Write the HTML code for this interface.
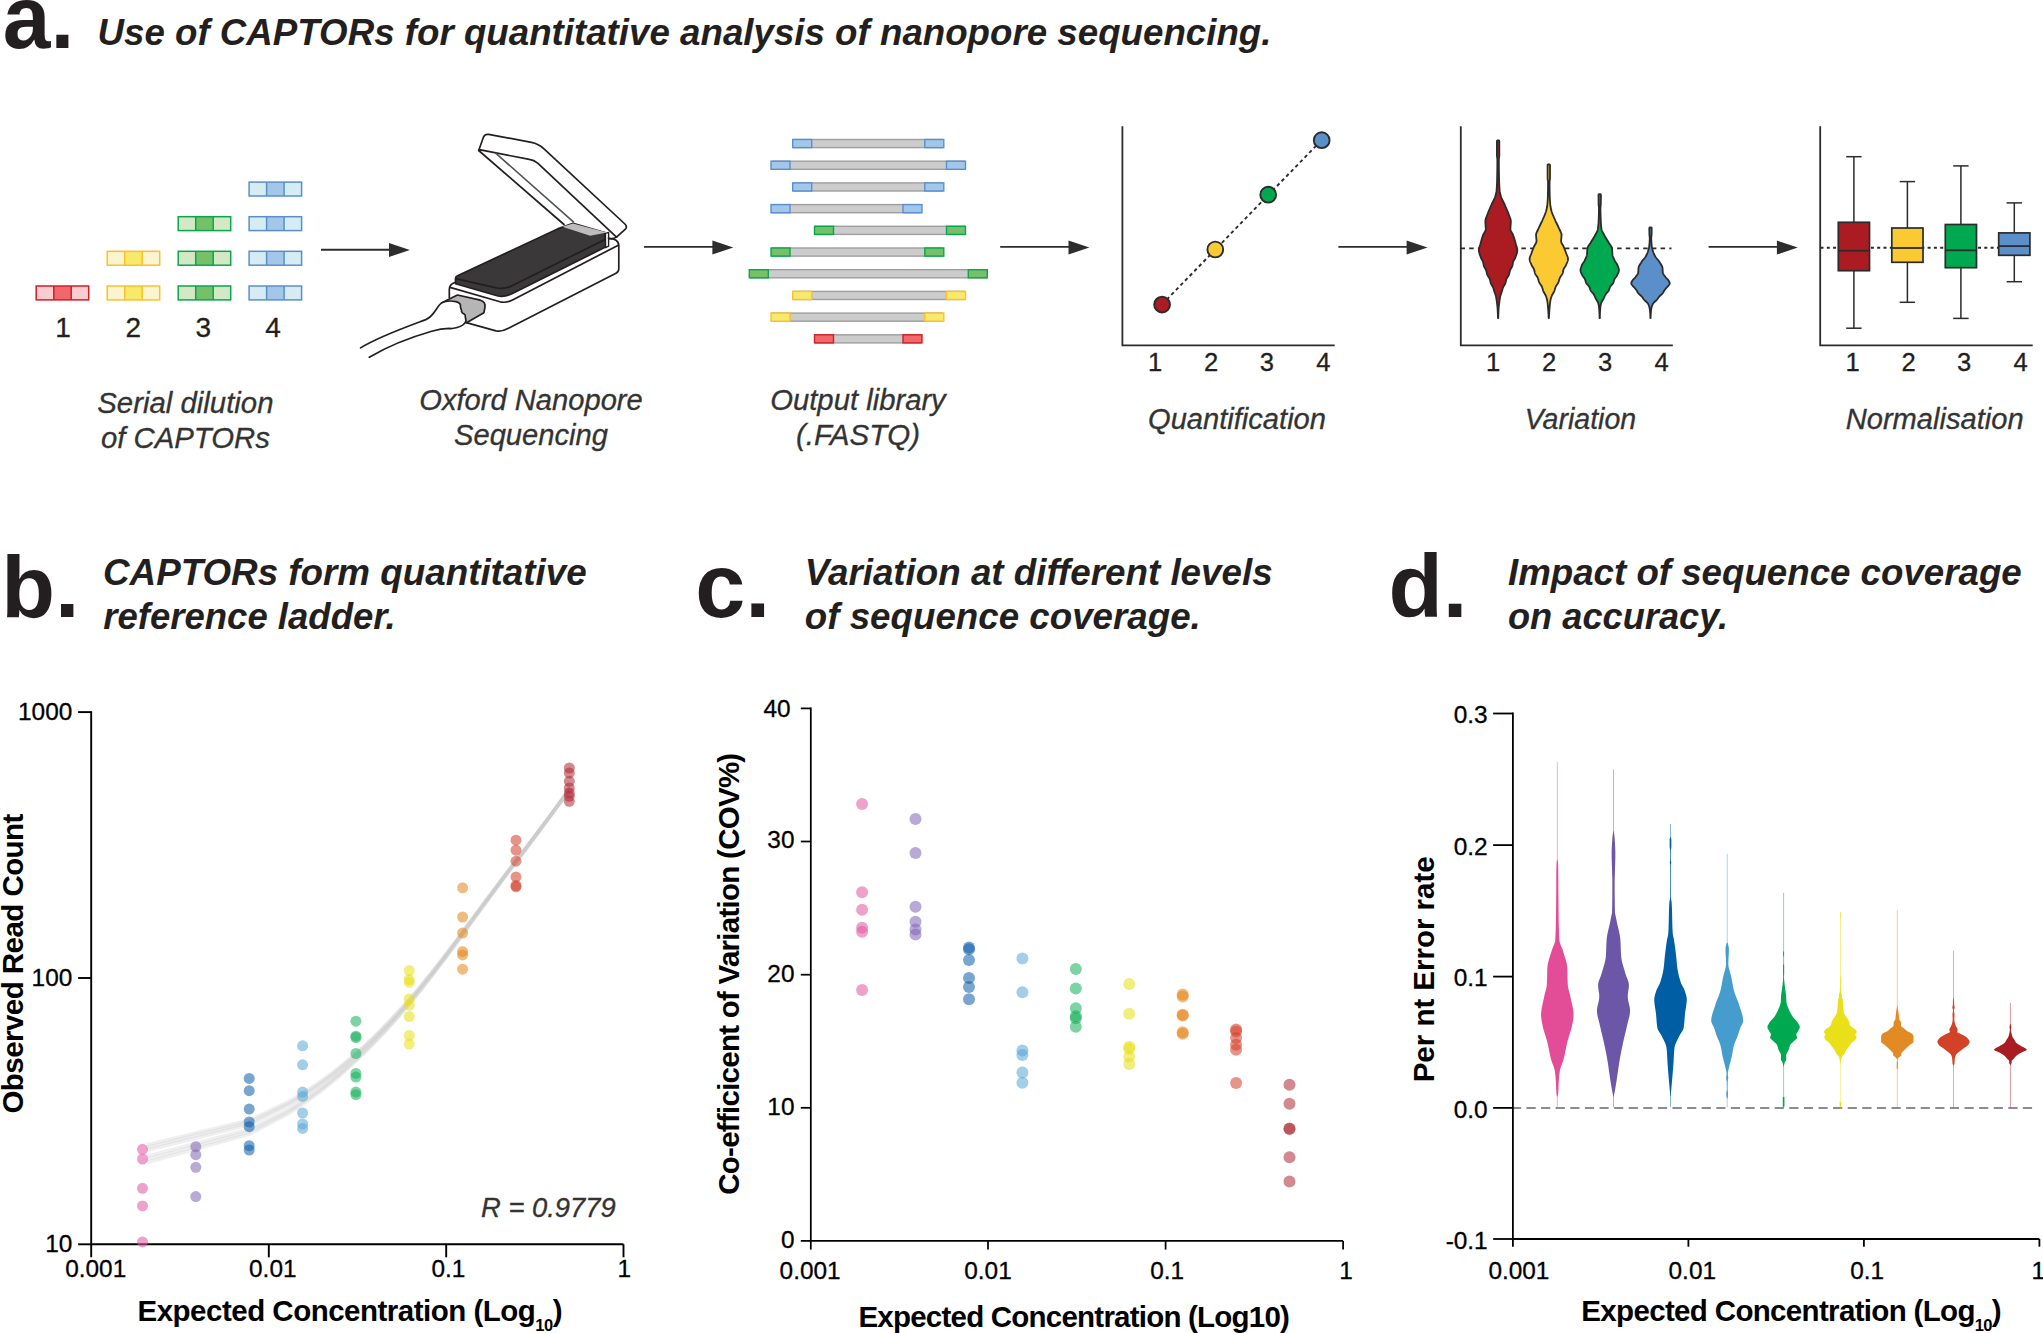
<!DOCTYPE html>
<html lang="en">
<head>
<meta charset="utf-8">
<title>CAPTORs nanopore sequencing figure</title>
<style>
html,body{margin:0;padding:0;background:#ffffff;}
body{width:2043px;height:1333px;overflow:hidden;}
svg{display:block;font-family:'Liberation Sans', Arial, Helvetica, sans-serif;}
</style>
</head>
<body>
<svg width="2043" height="1333" viewBox="0 0 2043 1333">
<rect x="0" y="0" width="2043" height="1333" fill="#ffffff"/>
<g id="panel-a">
<text x="2.8" y="47.8" font-size="89" font-weight="bold" font-style="normal" text-anchor="start" fill="#231f20" textLength="71.5" lengthAdjust="spacingAndGlyphs">a.</text>
<text x="97.5" y="44.8" font-size="36.6" font-weight="bold" font-style="italic" text-anchor="start" fill="#231f20" textLength="1174" lengthAdjust="spacingAndGlyphs">Use of CAPTORs for quantitative analysis of nanopore sequencing.</text>
<rect x="36.2" y="286" width="52.5" height="13.9" fill="#f9cdd0" stroke="none" stroke-width="1"/>
<rect x="53.8" y="286" width="17.5" height="13.9" fill="#f0686c" stroke="none" stroke-width="1"/>
<rect x="36.2" y="286" width="52.5" height="13.9" fill="none" stroke="#cf1f27" stroke-width="1.5"/>
<line x1="53.8" y1="286" x2="53.8" y2="299.9" stroke="#cf1f27" stroke-width="1.5"/>
<line x1="71.2" y1="286" x2="71.2" y2="299.9" stroke="#cf1f27" stroke-width="1.5"/>
<rect x="107.2" y="286" width="52.5" height="13.9" fill="#fbf5cf" stroke="none" stroke-width="1"/>
<rect x="124.7" y="286" width="17.5" height="13.9" fill="#f7e96a" stroke="none" stroke-width="1"/>
<rect x="107.2" y="286" width="52.5" height="13.9" fill="none" stroke="#fbc02d" stroke-width="1.5"/>
<line x1="124.7" y1="286" x2="124.7" y2="299.9" stroke="#fbc02d" stroke-width="1.5"/>
<line x1="142.2" y1="286" x2="142.2" y2="299.9" stroke="#fbc02d" stroke-width="1.5"/>
<rect x="107.2" y="251.3" width="52.5" height="13.9" fill="#fbf5cf" stroke="none" stroke-width="1"/>
<rect x="124.7" y="251.3" width="17.5" height="13.9" fill="#f7e96a" stroke="none" stroke-width="1"/>
<rect x="107.2" y="251.3" width="52.5" height="13.9" fill="none" stroke="#fbc02d" stroke-width="1.5"/>
<line x1="124.7" y1="251.3" x2="124.7" y2="265.2" stroke="#fbc02d" stroke-width="1.5"/>
<line x1="142.2" y1="251.3" x2="142.2" y2="265.2" stroke="#fbc02d" stroke-width="1.5"/>
<rect x="178.2" y="286" width="52.5" height="13.9" fill="#d3e9c6" stroke="none" stroke-width="1"/>
<rect x="195.7" y="286" width="17.5" height="13.9" fill="#76c06a" stroke="none" stroke-width="1"/>
<rect x="178.2" y="286" width="52.5" height="13.9" fill="none" stroke="#0aa64b" stroke-width="1.5"/>
<line x1="195.7" y1="286" x2="195.7" y2="299.9" stroke="#0aa64b" stroke-width="1.5"/>
<line x1="213.2" y1="286" x2="213.2" y2="299.9" stroke="#0aa64b" stroke-width="1.5"/>
<rect x="178.2" y="251.3" width="52.5" height="13.9" fill="#d3e9c6" stroke="none" stroke-width="1"/>
<rect x="195.7" y="251.3" width="17.5" height="13.9" fill="#76c06a" stroke="none" stroke-width="1"/>
<rect x="178.2" y="251.3" width="52.5" height="13.9" fill="none" stroke="#0aa64b" stroke-width="1.5"/>
<line x1="195.7" y1="251.3" x2="195.7" y2="265.2" stroke="#0aa64b" stroke-width="1.5"/>
<line x1="213.2" y1="251.3" x2="213.2" y2="265.2" stroke="#0aa64b" stroke-width="1.5"/>
<rect x="178.2" y="216.7" width="52.5" height="13.9" fill="#d3e9c6" stroke="none" stroke-width="1"/>
<rect x="195.7" y="216.7" width="17.5" height="13.9" fill="#76c06a" stroke="none" stroke-width="1"/>
<rect x="178.2" y="216.7" width="52.5" height="13.9" fill="none" stroke="#0aa64b" stroke-width="1.5"/>
<line x1="195.7" y1="216.7" x2="195.7" y2="230.6" stroke="#0aa64b" stroke-width="1.5"/>
<line x1="213.2" y1="216.7" x2="213.2" y2="230.6" stroke="#0aa64b" stroke-width="1.5"/>
<rect x="249.1" y="286" width="52.5" height="13.9" fill="#d4ecf2" stroke="none" stroke-width="1"/>
<rect x="266.6" y="286" width="17.5" height="13.9" fill="#a3c7e8" stroke="none" stroke-width="1"/>
<rect x="249.1" y="286" width="52.5" height="13.9" fill="none" stroke="#5a8fcf" stroke-width="1.5"/>
<line x1="266.6" y1="286" x2="266.6" y2="299.9" stroke="#5a8fcf" stroke-width="1.5"/>
<line x1="284.1" y1="286" x2="284.1" y2="299.9" stroke="#5a8fcf" stroke-width="1.5"/>
<rect x="249.1" y="251.3" width="52.5" height="13.9" fill="#d4ecf2" stroke="none" stroke-width="1"/>
<rect x="266.6" y="251.3" width="17.5" height="13.9" fill="#a3c7e8" stroke="none" stroke-width="1"/>
<rect x="249.1" y="251.3" width="52.5" height="13.9" fill="none" stroke="#5a8fcf" stroke-width="1.5"/>
<line x1="266.6" y1="251.3" x2="266.6" y2="265.2" stroke="#5a8fcf" stroke-width="1.5"/>
<line x1="284.1" y1="251.3" x2="284.1" y2="265.2" stroke="#5a8fcf" stroke-width="1.5"/>
<rect x="249.1" y="216.7" width="52.5" height="13.9" fill="#d4ecf2" stroke="none" stroke-width="1"/>
<rect x="266.6" y="216.7" width="17.5" height="13.9" fill="#a3c7e8" stroke="none" stroke-width="1"/>
<rect x="249.1" y="216.7" width="52.5" height="13.9" fill="none" stroke="#5a8fcf" stroke-width="1.5"/>
<line x1="266.6" y1="216.7" x2="266.6" y2="230.6" stroke="#5a8fcf" stroke-width="1.5"/>
<line x1="284.1" y1="216.7" x2="284.1" y2="230.6" stroke="#5a8fcf" stroke-width="1.5"/>
<rect x="249.1" y="182.1" width="52.5" height="13.9" fill="#d4ecf2" stroke="none" stroke-width="1"/>
<rect x="266.6" y="182.1" width="17.5" height="13.9" fill="#a3c7e8" stroke="none" stroke-width="1"/>
<rect x="249.1" y="182.1" width="52.5" height="13.9" fill="none" stroke="#5a8fcf" stroke-width="1.5"/>
<line x1="266.6" y1="182.1" x2="266.6" y2="196" stroke="#5a8fcf" stroke-width="1.5"/>
<line x1="284.1" y1="182.1" x2="284.1" y2="196" stroke="#5a8fcf" stroke-width="1.5"/>
<text x="63.1" y="336.7" font-size="28" font-weight="normal" font-style="normal" text-anchor="middle" fill="#231f20" stroke="#231f20" stroke-width="0.3">1</text>
<text x="133.4" y="336.7" font-size="28" font-weight="normal" font-style="normal" text-anchor="middle" fill="#231f20" stroke="#231f20" stroke-width="0.3">2</text>
<text x="203.3" y="336.7" font-size="28" font-weight="normal" font-style="normal" text-anchor="middle" fill="#231f20" stroke="#231f20" stroke-width="0.3">3</text>
<text x="273.1" y="336.7" font-size="28" font-weight="normal" font-style="normal" text-anchor="middle" fill="#231f20" stroke="#231f20" stroke-width="0.3">4</text>
<text x="185.4" y="412.8" font-size="29.1" font-weight="normal" font-style="italic" text-anchor="middle" fill="#333333" textLength="176.2" lengthAdjust="spacingAndGlyphs" stroke="#333333" stroke-width="0.3">Serial dilution</text>
<text x="185.4" y="447.8" font-size="29.1" font-weight="normal" font-style="italic" text-anchor="middle" fill="#333333" textLength="169" lengthAdjust="spacingAndGlyphs" stroke="#333333" stroke-width="0.3">of CAPTORs</text>
<line x1="321" y1="249.7" x2="390" y2="249.7" stroke="#2d2d2d" stroke-width="1.9"/>
<polygon points="409.9,250 389,243 389,257" fill="#2d2d2d"/>
<line x1="644" y1="246.9" x2="713.4" y2="246.9" stroke="#2d2d2d" stroke-width="1.9"/>
<polygon points="733.3,247.6 712.4,240.6 712.4,254.6" fill="#2d2d2d"/>
<line x1="1000.2" y1="246.9" x2="1069.5" y2="246.9" stroke="#2d2d2d" stroke-width="1.9"/>
<polygon points="1089.4,247.6 1068.5,240.6 1068.5,254.6" fill="#2d2d2d"/>
<line x1="1338.4" y1="246.9" x2="1407.6" y2="246.9" stroke="#2d2d2d" stroke-width="1.9"/>
<polygon points="1427.5,247.6 1406.6,240.6 1406.6,254.6" fill="#2d2d2d"/>
<line x1="1708.6" y1="246.9" x2="1777.9" y2="246.9" stroke="#2d2d2d" stroke-width="1.9"/>
<polygon points="1797.8,247.6 1776.9,240.6 1776.9,254.6" fill="#2d2d2d"/>
<g id="device" stroke-linejoin="round" stroke-linecap="round">
<path d="M466.3 322.6 L496 330.9 Q502 331.9 508.5 328.3 L615.5 273.6 Q618.8 271.8 618.8 268.9 L618.8 246 Q618.6 238.3 608.1 238.7 L454.2 282.8 Q449.4 284.6 449.3 289.5 L449.3 297.6" fill="#ffffff" stroke="#231f20" stroke-width="1.7"/>
<path d="M450 287.4 L500 301.8 Q506.5 303.3 513 299.8 L618.3 245.2" fill="none" stroke="#231f20" stroke-width="1.7"/>
<path d="M441.4 303.1 L457.4 295 L480.4 300.2 Q486 302 484.9 307.5 L483.9 312.8 L466.6 322.7 L452 320 Z" fill="#b5b5b5" stroke="#231f20" stroke-width="1.7"/>
<path d="M360.5 347.9 C378 337 402 328.5 425.8 319.6 C434.5 316 436.5 306.5 441.4 303.1 C446 300.6 451 300.6 455.8 301.6 C459.5 302.6 460.3 304 460.5 305.1 C459.6 308.5 462.4 310 461.5 311.4 C462.5 314.5 466.3 314 465.2 316.1 L466 321 C463 328.2 451 328.8 449.2 328.4 C443 328.6 438 329.5 431.7 331.3 C410 337.5 390 345 369.3 357.3" fill="#ffffff" stroke="#231f20" stroke-width="1.7"/>
<path d="M455.5 278.5 Q455.6 276.6 457.5 275.8 L557.6 228.9 L573 223.4 L604.9 232.6 L606 246.8 L512.4 293.6 Q505 297.3 498 296 L455.5 283.7 Z" fill="#3a3839" stroke="#231f20" stroke-width="1.7"/>
<path d="M455.8 278.7 L497.5 288.1 Q505.5 289.5 513.5 285 L605 239.5" fill="none" stroke="#231f20" stroke-width="1.7"/>
<path d="M605.4 233.4 L608.6 232.4 L608.6 246.2 L605.6 247.6 Z" fill="#ffffff" stroke="#231f20" stroke-width="1.4"/>
<path d="M562.4 226.8 L572.9 223.4 L607 232.4 L590.2 235.7 Z" fill="#bdbdbd" stroke="none" stroke-width="0"/>
<path d="M478.7 150.5 L483.6 136.8 Q485 133.8 488.6 134.4 L531.4 142.3 Q538.5 143.6 544 148.9 L624.9 224 Q627.6 226.6 625.4 229.2 L616.5 237.1 L537.7 163.1 Q534 160 529.3 159.4 L480.5 149.9 Z" fill="#ffffff" stroke="#231f20" stroke-width="1.7"/>
<path d="M478.7 150.5 L564 224.5" fill="none" stroke="#231f20" stroke-width="1.7"/>
<path d="M616.5 237.1 Q613 239.5 608.5 238.3" fill="none" stroke="#231f20" stroke-width="1.7"/>
<path d="M496.2 153.6 L573.4 221.9" fill="none" stroke="#4d5356" stroke-width="1.6"/>
</g>
<text x="531" y="410.1" font-size="29.1" font-weight="normal" font-style="italic" text-anchor="middle" fill="#333333" textLength="223.5" lengthAdjust="spacingAndGlyphs" stroke="#333333" stroke-width="0.3">Oxford Nanopore</text>
<text x="531" y="445.3" font-size="29.1" font-weight="normal" font-style="italic" text-anchor="middle" fill="#333333" textLength="154" lengthAdjust="spacingAndGlyphs" stroke="#333333" stroke-width="0.3">Sequencing</text>
<rect x="794" y="139.5" width="148.4" height="8.1" fill="#cccccc" stroke="#9e9e9e" stroke-width="1.4"/>
<rect x="792.7" y="139.5" width="19" height="8.1" fill="#a3c7e8" stroke="#5a8fcf" stroke-width="1.4"/>
<rect x="924.8" y="139.5" width="19" height="8.1" fill="#a3c7e8" stroke="#5a8fcf" stroke-width="1.4"/>
<rect x="772.3" y="161.2" width="191.9" height="8.1" fill="#cccccc" stroke="#9e9e9e" stroke-width="1.4"/>
<rect x="771" y="161.2" width="19" height="8.1" fill="#a3c7e8" stroke="#5a8fcf" stroke-width="1.4"/>
<rect x="946.5" y="161.2" width="19" height="8.1" fill="#a3c7e8" stroke="#5a8fcf" stroke-width="1.4"/>
<rect x="794" y="182.9" width="148.4" height="8.1" fill="#cccccc" stroke="#9e9e9e" stroke-width="1.4"/>
<rect x="792.7" y="182.9" width="19" height="8.1" fill="#a3c7e8" stroke="#5a8fcf" stroke-width="1.4"/>
<rect x="924.8" y="182.9" width="19" height="8.1" fill="#a3c7e8" stroke="#5a8fcf" stroke-width="1.4"/>
<rect x="772.3" y="204.6" width="148.4" height="8.1" fill="#cccccc" stroke="#9e9e9e" stroke-width="1.4"/>
<rect x="771" y="204.6" width="19" height="8.1" fill="#a3c7e8" stroke="#5a8fcf" stroke-width="1.4"/>
<rect x="903" y="204.6" width="19" height="8.1" fill="#a3c7e8" stroke="#5a8fcf" stroke-width="1.4"/>
<rect x="815.8" y="226.3" width="148.5" height="8.1" fill="#cccccc" stroke="#9e9e9e" stroke-width="1.4"/>
<rect x="814.5" y="226.3" width="19" height="8.1" fill="#76c06a" stroke="#0aa64b" stroke-width="1.4"/>
<rect x="946.5" y="226.3" width="19" height="8.1" fill="#76c06a" stroke="#0aa64b" stroke-width="1.4"/>
<rect x="772.3" y="248" width="170.2" height="8.1" fill="#cccccc" stroke="#9e9e9e" stroke-width="1.4"/>
<rect x="771" y="248" width="19" height="8.1" fill="#76c06a" stroke="#0aa64b" stroke-width="1.4"/>
<rect x="924.8" y="248" width="19" height="8.1" fill="#76c06a" stroke="#0aa64b" stroke-width="1.4"/>
<rect x="750.6" y="269.7" width="235.4" height="8.1" fill="#cccccc" stroke="#9e9e9e" stroke-width="1.4"/>
<rect x="749.3" y="269.7" width="19" height="8.1" fill="#76c06a" stroke="#0aa64b" stroke-width="1.4"/>
<rect x="968.3" y="269.7" width="19" height="8.1" fill="#76c06a" stroke="#0aa64b" stroke-width="1.4"/>
<rect x="794" y="291.4" width="170.2" height="8.1" fill="#cccccc" stroke="#9e9e9e" stroke-width="1.4"/>
<rect x="792.7" y="291.4" width="19" height="8.1" fill="#f7e96a" stroke="#fbc02d" stroke-width="1.4"/>
<rect x="946.5" y="291.4" width="19" height="8.1" fill="#f7e96a" stroke="#fbc02d" stroke-width="1.4"/>
<rect x="772.3" y="313.1" width="170.2" height="8.1" fill="#cccccc" stroke="#9e9e9e" stroke-width="1.4"/>
<rect x="771" y="313.1" width="19" height="8.1" fill="#f7e96a" stroke="#fbc02d" stroke-width="1.4"/>
<rect x="924.8" y="313.1" width="19" height="8.1" fill="#f7e96a" stroke="#fbc02d" stroke-width="1.4"/>
<rect x="815.8" y="334.8" width="104.9" height="8.1" fill="#cccccc" stroke="#9e9e9e" stroke-width="1.4"/>
<rect x="814.5" y="334.8" width="19" height="8.1" fill="#f0686c" stroke="#cf1f27" stroke-width="1.4"/>
<rect x="903" y="334.8" width="19" height="8.1" fill="#f0686c" stroke="#cf1f27" stroke-width="1.4"/>
<text x="858" y="410" font-size="29.1" font-weight="normal" font-style="italic" text-anchor="middle" fill="#333333" textLength="175.5" lengthAdjust="spacingAndGlyphs" stroke="#333333" stroke-width="0.3">Output library</text>
<text x="858" y="445.4" font-size="29.1" font-weight="normal" font-style="italic" text-anchor="middle" fill="#333333" textLength="124" lengthAdjust="spacingAndGlyphs" stroke="#333333" stroke-width="0.3">(.FASTQ)</text>
<path d="M1122.4 126.2 L1122.4 345.4 L1334.7 345.4" fill="none" stroke="#2b2b2b" stroke-width="1.8"/>
<line x1="1162.1" y1="304.4" x2="1321.7" y2="140" stroke="#2b2b2b" stroke-width="1.9" stroke-dasharray="3.5 3.1"/>
<circle cx="1162.1" cy="304.6" r="7.9" fill="#ab1c22" stroke="#2b2b2b" stroke-width="1.9"/>
<circle cx="1215.3" cy="249.5" r="7.9" fill="#fbc932" stroke="#2b2b2b" stroke-width="1.9"/>
<circle cx="1268.2" cy="194.7" r="7.9" fill="#00a94f" stroke="#2b2b2b" stroke-width="1.9"/>
<circle cx="1321.7" cy="140.2" r="7.9" fill="#5b8fc9" stroke="#2b2b2b" stroke-width="1.9"/>
<text x="1155" y="370.8" font-size="25.6" font-weight="normal" font-style="normal" text-anchor="middle" fill="#231f20" stroke="#231f20" stroke-width="0.3">1</text>
<text x="1211" y="370.8" font-size="25.6" font-weight="normal" font-style="normal" text-anchor="middle" fill="#231f20" stroke="#231f20" stroke-width="0.3">2</text>
<text x="1266.9" y="370.8" font-size="25.6" font-weight="normal" font-style="normal" text-anchor="middle" fill="#231f20" stroke="#231f20" stroke-width="0.3">3</text>
<text x="1323.3" y="370.8" font-size="25.6" font-weight="normal" font-style="normal" text-anchor="middle" fill="#231f20" stroke="#231f20" stroke-width="0.3">4</text>
<text x="1237" y="429.2" font-size="29.1" font-weight="normal" font-style="italic" text-anchor="middle" fill="#333333" textLength="178" lengthAdjust="spacingAndGlyphs" stroke="#333333" stroke-width="0.3">Quantification</text>
<path d="M1460.8 126.2 L1460.8 345.4 L1672.8 345.4" fill="none" stroke="#2b2b2b" stroke-width="1.8"/>
<line x1="1460.5" y1="248.4" x2="1671.5" y2="248.4" stroke="#2b2b2b" stroke-width="1.9" stroke-dasharray="4.5 4.2"/>
<path d="M1499 140.5 L1499.25 141 L1499.3 141.5 L1499.3 142 L1499.3 142.5 L1499.3 143 L1499.3 143.5 L1499.3 144 L1499.3 144.5 L1499.3 145 L1499.3 145.5 L1499.3 146 L1499.3 146.5 L1499.3 147 L1499.3 147.5 L1499.3 148 L1499.3 148.5 L1499.3 149 L1499.3 149.5 L1499.3 150 L1499.3 150.5 L1499.3 151 L1499.3 151.5 L1499.3 152 L1499.3 152.5 L1499.3 153 L1499.3 153.5 L1499.3 154 L1499.3 154.5 L1499.3 155 L1499.3 155.5 L1499.29 156 L1499.24 156.5 L1499.18 157 L1499.11 157.5 L1499.04 158 L1498.97 158.5 L1498.91 159 L1498.87 159.5 L1498.85 160 L1498.85 160.5 L1498.85 161 L1498.85 161.5 L1498.85 162 L1498.86 162.5 L1498.86 163 L1498.86 163.5 L1498.86 164 L1498.87 164.5 L1498.87 165 L1498.88 165.5 L1498.88 166 L1498.88 166.5 L1498.89 167 L1498.9 167.5 L1498.9 168 L1498.91 168.5 L1498.91 169 L1498.92 169.5 L1498.93 170 L1498.93 170.5 L1498.94 171 L1498.95 171.5 L1498.95 172 L1498.96 172.5 L1498.97 173 L1498.98 173.5 L1498.98 174 L1498.99 174.5 L1499 175 L1499.01 175.5 L1499.02 176 L1499.03 176.5 L1499.04 177 L1499.05 177.5 L1499.06 178 L1499.07 178.5 L1499.08 179 L1499.1 179.5 L1499.11 180 L1499.12 180.5 L1499.14 181 L1499.16 181.5 L1499.17 182 L1499.19 182.5 L1499.21 183 L1499.23 183.5 L1499.25 184 L1499.27 184.5 L1499.3 185 L1499.32 185.5 L1499.35 186 L1499.38 186.5 L1499.4 187 L1499.43 187.5 L1499.46 188 L1499.5 188.5 L1499.53 189 L1499.56 189.5 L1499.6 190 L1499.64 190.5 L1499.7 191 L1499.77 191.5 L1499.85 192 L1499.95 192.5 L1500.05 193 L1500.16 193.5 L1500.28 194 L1500.4 194.5 L1500.53 195 L1500.66 195.5 L1500.8 196 L1500.94 196.5 L1501.11 197 L1501.29 197.5 L1501.48 198 L1501.69 198.5 L1501.92 199 L1502.15 199.5 L1502.39 200 L1502.64 200.5 L1502.89 201 L1503.14 201.5 L1503.4 202 L1503.65 202.5 L1503.9 203 L1504.15 203.5 L1504.39 204 L1504.62 204.5 L1504.84 205 L1505.06 205.5 L1505.28 206 L1505.5 206.5 L1505.72 207 L1505.94 207.5 L1506.16 208 L1506.38 208.5 L1506.6 209 L1506.82 209.5 L1507.03 210 L1507.24 210.5 L1507.45 211 L1507.65 211.5 L1507.85 212 L1508.05 212.5 L1508.24 213 L1508.42 213.5 L1508.6 214 L1508.78 214.5 L1508.97 215 L1509.16 215.5 L1509.36 216 L1509.56 216.5 L1509.76 217 L1509.95 217.5 L1510.14 218 L1510.3 218.5 L1510.46 219 L1510.59 219.5 L1510.7 220 L1510.78 220.5 L1510.83 221 L1510.85 221.5 L1510.85 222 L1510.83 222.5 L1510.81 223 L1510.78 223.5 L1510.74 224 L1510.7 224.5 L1510.65 225 L1510.61 225.5 L1510.56 226 L1510.52 226.5 L1510.48 227 L1510.45 227.5 L1510.43 228 L1510.41 228.5 L1510.4 229 L1510.44 229.5 L1510.55 230 L1510.71 230.5 L1510.93 231 L1511.18 231.5 L1511.47 232 L1511.76 232.5 L1512.07 233 L1512.36 233.5 L1512.64 234 L1512.89 234.5 L1513.1 235 L1513.28 235.5 L1513.45 236 L1513.62 236.5 L1513.78 237 L1513.95 237.5 L1514.1 238 L1514.26 238.5 L1514.41 239 L1514.55 239.5 L1514.7 240 L1514.84 240.5 L1514.98 241 L1515.12 241.5 L1515.25 242 L1515.39 242.5 L1515.53 243 L1515.66 243.5 L1515.8 244 L1515.94 244.5 L1516.1 245 L1516.26 245.5 L1516.43 246 L1516.59 246.5 L1516.75 247 L1516.9 247.5 L1517.03 248 L1517.14 248.5 L1517.23 249 L1517.28 249.5 L1517.3 250 L1517.29 250.5 L1517.25 251 L1517.19 251.5 L1517.11 252 L1517 252.5 L1516.88 253 L1516.74 253.5 L1516.59 254 L1516.43 254.5 L1516.26 255 L1516.08 255.5 L1515.9 256 L1515.72 256.5 L1515.54 257 L1515.36 257.5 L1515.17 258 L1514.92 258.5 L1514.65 259 L1514.36 259.5 L1514.06 260 L1513.77 260.5 L1513.51 261 L1513.29 261.5 L1513.11 262 L1512.98 262.5 L1512.88 263 L1512.79 263.5 L1512.71 264 L1512.63 264.5 L1512.54 265 L1512.43 265.5 L1512.29 266 L1512.09 266.5 L1511.85 267 L1511.58 267.5 L1511.28 268 L1510.99 268.5 L1510.7 269 L1510.44 269.5 L1510.21 270 L1510.03 270.5 L1509.88 271 L1509.75 271.5 L1509.63 272 L1509.52 272.5 L1509.41 273 L1509.29 273.5 L1509.15 274 L1509 274.5 L1508.82 275 L1508.58 275.5 L1508.29 276 L1507.97 276.5 L1507.63 277 L1507.3 277.5 L1506.98 278 L1506.69 278.5 L1506.46 279 L1506.28 279.5 L1506.15 280 L1506.03 280.5 L1505.93 281 L1505.83 281.5 L1505.73 282 L1505.61 282.5 L1505.46 283 L1505.27 283.5 L1505.04 284 L1504.76 284.5 L1504.46 285 L1504.15 285.5 L1503.84 286 L1503.55 286.5 L1503.29 287 L1503.07 287.5 L1502.88 288 L1502.71 288.5 L1502.56 289 L1502.42 289.5 L1502.28 290 L1502.14 290.5 L1502.01 291 L1501.86 291.5 L1501.71 292 L1501.55 292.5 L1501.37 293 L1501.19 293.5 L1501 294 L1500.81 294.5 L1500.64 295 L1500.47 295.5 L1500.33 296 L1500.21 296.5 L1500.11 297 L1500.01 297.5 L1499.92 298 L1499.84 298.5 L1499.76 299 L1499.69 299.5 L1499.62 300 L1499.55 300.5 L1499.49 301 L1499.43 301.5 L1499.37 302 L1499.31 302.5 L1499.24 303 L1499.18 303.5 L1499.12 304 L1499.06 304.5 L1499.01 305 L1498.95 305.5 L1498.89 306 L1498.84 306.5 L1498.79 307 L1498.74 307.5 L1498.7 308 L1498.65 308.5 L1498.62 309 L1498.58 309.5 L1498.55 310 L1498.53 310.5 L1498.5 311 L1498.47 311.5 L1498.45 312 L1498.42 312.5 L1498.4 313 L1498.38 313.5 L1498.35 314 L1498.33 314.5 L1498.32 315 L1498.3 315.5 L1498.29 316 L1498.27 316.5 L1498.26 317 L1498.26 317.5 L1498.25 318 L1497.95 318 L1497.94 317.5 L1497.94 317 L1497.93 316.5 L1497.91 316 L1497.9 315.5 L1497.88 315 L1497.87 314.5 L1497.85 314 L1497.82 313.5 L1497.8 313 L1497.78 312.5 L1497.75 312 L1497.73 311.5 L1497.7 311 L1497.67 310.5 L1497.65 310 L1497.62 309.5 L1497.58 309 L1497.55 308.5 L1497.5 308 L1497.46 307.5 L1497.41 307 L1497.36 306.5 L1497.31 306 L1497.25 305.5 L1497.19 305 L1497.14 304.5 L1497.08 304 L1497.02 303.5 L1496.96 303 L1496.89 302.5 L1496.83 302 L1496.77 301.5 L1496.71 301 L1496.65 300.5 L1496.58 300 L1496.51 299.5 L1496.44 299 L1496.36 298.5 L1496.28 298 L1496.19 297.5 L1496.09 297 L1495.99 296.5 L1495.87 296 L1495.73 295.5 L1495.56 295 L1495.39 294.5 L1495.2 294 L1495.01 293.5 L1494.83 293 L1494.65 292.5 L1494.49 292 L1494.34 291.5 L1494.19 291 L1494.06 290.5 L1493.92 290 L1493.78 289.5 L1493.64 289 L1493.49 288.5 L1493.32 288 L1493.13 287.5 L1492.91 287 L1492.65 286.5 L1492.36 286 L1492.05 285.5 L1491.74 285 L1491.44 284.5 L1491.16 284 L1490.93 283.5 L1490.74 283 L1490.59 282.5 L1490.47 282 L1490.37 281.5 L1490.27 281 L1490.17 280.5 L1490.05 280 L1489.92 279.5 L1489.74 279 L1489.51 278.5 L1489.22 278 L1488.9 277.5 L1488.57 277 L1488.23 276.5 L1487.91 276 L1487.62 275.5 L1487.38 275 L1487.2 274.5 L1487.05 274 L1486.91 273.5 L1486.79 273 L1486.68 272.5 L1486.57 272 L1486.45 271.5 L1486.32 271 L1486.17 270.5 L1485.99 270 L1485.76 269.5 L1485.5 269 L1485.21 268.5 L1484.92 268 L1484.62 267.5 L1484.35 267 L1484.11 266.5 L1483.91 266 L1483.77 265.5 L1483.66 265 L1483.57 264.5 L1483.49 264 L1483.41 263.5 L1483.32 263 L1483.22 262.5 L1483.09 262 L1482.91 261.5 L1482.69 261 L1482.43 260.5 L1482.14 260 L1481.84 259.5 L1481.55 259 L1481.28 258.5 L1481.03 258 L1480.84 257.5 L1480.66 257 L1480.48 256.5 L1480.3 256 L1480.12 255.5 L1479.94 255 L1479.77 254.5 L1479.61 254 L1479.46 253.5 L1479.32 253 L1479.2 252.5 L1479.09 252 L1479.01 251.5 L1478.95 251 L1478.91 250.5 L1478.9 250 L1478.92 249.5 L1478.97 249 L1479.06 248.5 L1479.17 248 L1479.3 247.5 L1479.45 247 L1479.61 246.5 L1479.77 246 L1479.94 245.5 L1480.1 245 L1480.26 244.5 L1480.4 244 L1480.54 243.5 L1480.67 243 L1480.81 242.5 L1480.95 242 L1481.08 241.5 L1481.22 241 L1481.36 240.5 L1481.5 240 L1481.65 239.5 L1481.79 239 L1481.94 238.5 L1482.1 238 L1482.25 237.5 L1482.42 237 L1482.58 236.5 L1482.75 236 L1482.92 235.5 L1483.1 235 L1483.31 234.5 L1483.56 234 L1483.84 233.5 L1484.13 233 L1484.44 232.5 L1484.73 232 L1485.02 231.5 L1485.27 231 L1485.49 230.5 L1485.65 230 L1485.76 229.5 L1485.8 229 L1485.79 228.5 L1485.77 228 L1485.75 227.5 L1485.72 227 L1485.68 226.5 L1485.64 226 L1485.59 225.5 L1485.55 225 L1485.5 224.5 L1485.46 224 L1485.42 223.5 L1485.39 223 L1485.37 222.5 L1485.35 222 L1485.35 221.5 L1485.37 221 L1485.42 220.5 L1485.5 220 L1485.61 219.5 L1485.74 219 L1485.9 218.5 L1486.06 218 L1486.25 217.5 L1486.44 217 L1486.64 216.5 L1486.84 216 L1487.04 215.5 L1487.23 215 L1487.42 214.5 L1487.6 214 L1487.78 213.5 L1487.96 213 L1488.15 212.5 L1488.35 212 L1488.55 211.5 L1488.75 211 L1488.96 210.5 L1489.17 210 L1489.38 209.5 L1489.6 209 L1489.82 208.5 L1490.04 208 L1490.26 207.5 L1490.48 207 L1490.7 206.5 L1490.92 206 L1491.14 205.5 L1491.36 205 L1491.58 204.5 L1491.81 204 L1492.05 203.5 L1492.3 203 L1492.55 202.5 L1492.8 202 L1493.06 201.5 L1493.31 201 L1493.56 200.5 L1493.81 200 L1494.05 199.5 L1494.28 199 L1494.51 198.5 L1494.72 198 L1494.91 197.5 L1495.09 197 L1495.26 196.5 L1495.4 196 L1495.54 195.5 L1495.67 195 L1495.8 194.5 L1495.92 194 L1496.04 193.5 L1496.15 193 L1496.25 192.5 L1496.35 192 L1496.43 191.5 L1496.5 191 L1496.56 190.5 L1496.6 190 L1496.64 189.5 L1496.67 189 L1496.7 188.5 L1496.74 188 L1496.77 187.5 L1496.8 187 L1496.82 186.5 L1496.85 186 L1496.88 185.5 L1496.9 185 L1496.93 184.5 L1496.95 184 L1496.97 183.5 L1496.99 183 L1497.01 182.5 L1497.03 182 L1497.04 181.5 L1497.06 181 L1497.08 180.5 L1497.09 180 L1497.1 179.5 L1497.12 179 L1497.13 178.5 L1497.14 178 L1497.15 177.5 L1497.16 177 L1497.17 176.5 L1497.18 176 L1497.19 175.5 L1497.2 175 L1497.21 174.5 L1497.22 174 L1497.22 173.5 L1497.23 173 L1497.24 172.5 L1497.25 172 L1497.25 171.5 L1497.26 171 L1497.27 170.5 L1497.27 170 L1497.28 169.5 L1497.29 169 L1497.29 168.5 L1497.3 168 L1497.3 167.5 L1497.31 167 L1497.32 166.5 L1497.32 166 L1497.32 165.5 L1497.33 165 L1497.33 164.5 L1497.34 164 L1497.34 163.5 L1497.34 163 L1497.34 162.5 L1497.35 162 L1497.35 161.5 L1497.35 161 L1497.35 160.5 L1497.35 160 L1497.33 159.5 L1497.29 159 L1497.23 158.5 L1497.16 158 L1497.09 157.5 L1497.02 157 L1496.96 156.5 L1496.91 156 L1496.9 155.5 L1496.9 155 L1496.9 154.5 L1496.9 154 L1496.9 153.5 L1496.9 153 L1496.9 152.5 L1496.9 152 L1496.9 151.5 L1496.9 151 L1496.9 150.5 L1496.9 150 L1496.9 149.5 L1496.9 149 L1496.9 148.5 L1496.9 148 L1496.9 147.5 L1496.9 147 L1496.9 146.5 L1496.9 146 L1496.9 145.5 L1496.9 145 L1496.9 144.5 L1496.9 144 L1496.9 143.5 L1496.9 143 L1496.9 142.5 L1496.9 142 L1496.9 141.5 L1496.95 141 L1497.2 140.5Z" fill="#ab1c22" stroke="#2b2b2b" stroke-width="1.8" stroke-linejoin="round"/>
<path d="M1549.7 164.51 L1549.95 165.01 L1550 165.51 L1550 166.01 L1550 166.51 L1550 167.01 L1550 167.51 L1550 168.01 L1550 168.51 L1550 169.01 L1550 169.51 L1550 170.01 L1550 170.51 L1550 171.01 L1550 171.51 L1550 172.01 L1550 172.51 L1550 173.01 L1550 173.51 L1550 174.01 L1550 174.51 L1550 175.01 L1550 175.51 L1550 176.01 L1550 176.51 L1550 177.01 L1550 177.51 L1550 178.01 L1549.99 178.51 L1549.94 179.01 L1549.88 179.51 L1549.81 180.01 L1549.74 180.51 L1549.67 181.01 L1549.61 181.51 L1549.57 182.01 L1549.55 182.51 L1549.55 183.01 L1549.55 183.51 L1549.55 184.01 L1549.56 184.51 L1549.56 185.01 L1549.56 185.51 L1549.57 186.01 L1549.57 186.51 L1549.58 187.01 L1549.58 187.51 L1549.59 188.01 L1549.59 188.51 L1549.6 189.01 L1549.61 189.51 L1549.62 190.01 L1549.62 190.51 L1549.63 191.01 L1549.64 191.51 L1549.65 192.01 L1549.66 192.51 L1549.67 193.01 L1549.68 193.51 L1549.69 194.01 L1549.7 194.51 L1549.71 195.01 L1549.72 195.51 L1549.74 196.01 L1549.76 196.51 L1549.77 197.01 L1549.79 197.51 L1549.81 198.01 L1549.84 198.51 L1549.86 199.01 L1549.89 199.51 L1549.92 200.01 L1549.95 200.51 L1549.98 201.01 L1550.01 201.51 L1550.05 202.01 L1550.09 202.51 L1550.13 203.01 L1550.17 203.51 L1550.21 204.01 L1550.25 204.51 L1550.3 205.01 L1550.35 205.51 L1550.42 206.01 L1550.49 206.51 L1550.58 207.01 L1550.67 207.51 L1550.77 208.01 L1550.88 208.51 L1551 209.01 L1551.12 209.51 L1551.24 210.01 L1551.37 210.51 L1551.5 211.01 L1551.63 211.51 L1551.78 212.01 L1551.95 212.51 L1552.12 213.01 L1552.3 213.51 L1552.49 214.01 L1552.69 214.51 L1552.89 215.01 L1553.1 215.51 L1553.32 216.01 L1553.54 216.51 L1553.76 217.01 L1553.99 217.51 L1554.21 218.01 L1554.43 218.51 L1554.66 219.01 L1554.88 219.51 L1555.1 220.01 L1555.31 220.51 L1555.54 221.01 L1555.77 221.51 L1556 222.01 L1556.24 222.51 L1556.48 223.01 L1556.73 223.51 L1556.97 224.01 L1557.21 224.51 L1557.46 225.01 L1557.7 225.51 L1557.94 226.01 L1558.18 226.51 L1558.41 227.01 L1558.64 227.51 L1558.87 228.01 L1559.09 228.51 L1559.3 229.01 L1559.51 229.51 L1559.75 230.01 L1559.99 230.51 L1560.24 231.01 L1560.49 231.51 L1560.73 232.01 L1560.95 232.51 L1561.15 233.01 L1561.31 233.51 L1561.44 234.01 L1561.52 234.51 L1561.55 235.01 L1561.54 235.51 L1561.52 236.01 L1561.48 236.51 L1561.44 237.01 L1561.39 237.51 L1561.33 238.01 L1561.27 238.51 L1561.22 239.01 L1561.17 239.51 L1561.14 240.01 L1561.11 240.51 L1561.1 241.01 L1561.14 241.51 L1561.24 242.01 L1561.4 242.51 L1561.61 243.01 L1561.86 243.51 L1562.14 244.01 L1562.43 244.51 L1562.73 245.01 L1563.02 245.51 L1563.31 246.01 L1563.57 246.51 L1563.8 247.01 L1564 247.51 L1564.2 248.01 L1564.39 248.51 L1564.59 249.01 L1564.78 249.51 L1564.97 250.01 L1565.15 250.51 L1565.34 251.01 L1565.52 251.51 L1565.69 252.01 L1565.87 252.51 L1566.05 253.01 L1566.23 253.51 L1566.43 254.01 L1566.64 254.51 L1566.86 255.01 L1567.07 255.51 L1567.28 256.01 L1567.47 256.51 L1567.65 257.01 L1567.79 257.51 L1567.9 258.01 L1567.98 258.51 L1568 259.01 L1567.98 259.51 L1567.92 260.01 L1567.82 260.51 L1567.69 261.01 L1567.53 261.51 L1567.35 262.01 L1567.15 262.51 L1566.94 263.01 L1566.72 263.51 L1566.5 264.01 L1566.28 264.51 L1566.06 265.01 L1565.83 265.51 L1565.55 266.01 L1565.24 266.51 L1564.91 267.01 L1564.58 267.51 L1564.26 268.01 L1563.97 268.51 L1563.71 269.01 L1563.51 269.51 L1563.36 270.01 L1563.24 270.51 L1563.13 271.01 L1563.04 271.51 L1562.94 272.01 L1562.83 272.51 L1562.69 273.01 L1562.52 273.51 L1562.29 274.01 L1562 274.51 L1561.67 275.01 L1561.32 275.51 L1560.97 276.01 L1560.63 276.51 L1560.31 277.01 L1560.03 277.51 L1559.81 278.01 L1559.62 278.51 L1559.46 279.01 L1559.31 279.51 L1559.16 280.01 L1559.02 280.51 L1558.87 281.01 L1558.7 281.51 L1558.52 282.01 L1558.3 282.51 L1558.04 283.01 L1557.74 283.51 L1557.41 284.01 L1557.07 284.51 L1556.73 285.01 L1556.4 285.51 L1556.1 286.01 L1555.83 286.51 L1555.61 287.01 L1555.42 287.51 L1555.25 288.01 L1555.1 288.51 L1554.95 289.01 L1554.8 289.51 L1554.65 290.01 L1554.49 290.51 L1554.31 291.01 L1554.11 291.51 L1553.87 292.01 L1553.59 292.51 L1553.3 293.01 L1553 293.51 L1552.7 294.01 L1552.41 294.51 L1552.15 295.01 L1551.91 295.51 L1551.72 296.01 L1551.54 296.51 L1551.36 297.01 L1551.19 297.51 L1551.03 298.01 L1550.88 298.51 L1550.74 299.01 L1550.61 299.51 L1550.49 300.01 L1550.39 300.51 L1550.31 301.01 L1550.23 301.51 L1550.16 302.01 L1550.09 302.51 L1550.03 303.01 L1549.97 303.51 L1549.91 304.01 L1549.86 304.51 L1549.81 305.01 L1549.76 305.51 L1549.71 306.01 L1549.67 306.51 L1549.63 307.01 L1549.59 307.51 L1549.55 308.01 L1549.51 308.51 L1549.47 309.01 L1549.44 309.51 L1549.4 310.01 L1549.37 310.51 L1549.33 311.01 L1549.3 311.51 L1549.27 312.01 L1549.24 312.51 L1549.2 313.01 L1549.17 313.51 L1549.15 314.01 L1549.12 314.51 L1549.09 315.01 L1549.07 315.51 L1549.04 316.01 L1549.02 316.51 L1549 317.01 L1548.98 317.51 L1548.96 318.01 L1548.64 318.01 L1548.62 317.51 L1548.6 317.01 L1548.58 316.51 L1548.56 316.01 L1548.53 315.51 L1548.51 315.01 L1548.48 314.51 L1548.45 314.01 L1548.43 313.51 L1548.4 313.01 L1548.36 312.51 L1548.33 312.01 L1548.3 311.51 L1548.27 311.01 L1548.23 310.51 L1548.2 310.01 L1548.16 309.51 L1548.13 309.01 L1548.09 308.51 L1548.05 308.01 L1548.01 307.51 L1547.97 307.01 L1547.93 306.51 L1547.89 306.01 L1547.84 305.51 L1547.79 305.01 L1547.74 304.51 L1547.69 304.01 L1547.63 303.51 L1547.57 303.01 L1547.51 302.51 L1547.44 302.01 L1547.37 301.51 L1547.29 301.01 L1547.21 300.51 L1547.11 300.01 L1546.99 299.51 L1546.86 299.01 L1546.72 298.51 L1546.57 298.01 L1546.41 297.51 L1546.24 297.01 L1546.06 296.51 L1545.88 296.01 L1545.69 295.51 L1545.45 295.01 L1545.19 294.51 L1544.9 294.01 L1544.6 293.51 L1544.3 293.01 L1544.01 292.51 L1543.73 292.01 L1543.49 291.51 L1543.29 291.01 L1543.11 290.51 L1542.95 290.01 L1542.8 289.51 L1542.65 289.01 L1542.5 288.51 L1542.35 288.01 L1542.18 287.51 L1541.99 287.01 L1541.77 286.51 L1541.5 286.01 L1541.2 285.51 L1540.87 285.01 L1540.53 284.51 L1540.19 284.01 L1539.86 283.51 L1539.56 283.01 L1539.3 282.51 L1539.08 282.01 L1538.9 281.51 L1538.73 281.01 L1538.58 280.51 L1538.44 280.01 L1538.29 279.51 L1538.14 279.01 L1537.98 278.51 L1537.79 278.01 L1537.57 277.51 L1537.29 277.01 L1536.97 276.51 L1536.63 276.01 L1536.28 275.51 L1535.93 275.01 L1535.6 274.51 L1535.31 274.01 L1535.08 273.51 L1534.91 273.01 L1534.77 272.51 L1534.66 272.01 L1534.56 271.51 L1534.47 271.01 L1534.36 270.51 L1534.24 270.01 L1534.09 269.51 L1533.89 269.01 L1533.63 268.51 L1533.34 268.01 L1533.02 267.51 L1532.69 267.01 L1532.36 266.51 L1532.05 266.01 L1531.77 265.51 L1531.54 265.01 L1531.32 264.51 L1531.1 264.01 L1530.88 263.51 L1530.66 263.01 L1530.45 262.51 L1530.25 262.01 L1530.07 261.51 L1529.91 261.01 L1529.78 260.51 L1529.68 260.01 L1529.62 259.51 L1529.6 259.01 L1529.62 258.51 L1529.7 258.01 L1529.81 257.51 L1529.95 257.01 L1530.13 256.51 L1530.32 256.01 L1530.53 255.51 L1530.74 255.01 L1530.96 254.51 L1531.17 254.01 L1531.37 253.51 L1531.55 253.01 L1531.73 252.51 L1531.91 252.01 L1532.08 251.51 L1532.26 251.01 L1532.45 250.51 L1532.63 250.01 L1532.82 249.51 L1533.01 249.01 L1533.21 248.51 L1533.4 248.01 L1533.6 247.51 L1533.8 247.01 L1534.03 246.51 L1534.29 246.01 L1534.58 245.51 L1534.87 245.01 L1535.17 244.51 L1535.46 244.01 L1535.74 243.51 L1535.99 243.01 L1536.2 242.51 L1536.36 242.01 L1536.46 241.51 L1536.5 241.01 L1536.49 240.51 L1536.46 240.01 L1536.43 239.51 L1536.38 239.01 L1536.33 238.51 L1536.27 238.01 L1536.21 237.51 L1536.16 237.01 L1536.12 236.51 L1536.08 236.01 L1536.06 235.51 L1536.05 235.01 L1536.08 234.51 L1536.16 234.01 L1536.29 233.51 L1536.45 233.01 L1536.65 232.51 L1536.87 232.01 L1537.11 231.51 L1537.36 231.01 L1537.61 230.51 L1537.85 230.01 L1538.09 229.51 L1538.3 229.01 L1538.51 228.51 L1538.73 228.01 L1538.96 227.51 L1539.19 227.01 L1539.42 226.51 L1539.66 226.01 L1539.9 225.51 L1540.14 225.01 L1540.39 224.51 L1540.63 224.01 L1540.87 223.51 L1541.12 223.01 L1541.36 222.51 L1541.6 222.01 L1541.83 221.51 L1542.06 221.01 L1542.29 220.51 L1542.5 220.01 L1542.72 219.51 L1542.94 219.01 L1543.17 218.51 L1543.39 218.01 L1543.61 217.51 L1543.84 217.01 L1544.06 216.51 L1544.28 216.01 L1544.5 215.51 L1544.71 215.01 L1544.91 214.51 L1545.11 214.01 L1545.3 213.51 L1545.48 213.01 L1545.65 212.51 L1545.82 212.01 L1545.97 211.51 L1546.1 211.01 L1546.23 210.51 L1546.36 210.01 L1546.48 209.51 L1546.6 209.01 L1546.72 208.51 L1546.83 208.01 L1546.93 207.51 L1547.02 207.01 L1547.11 206.51 L1547.18 206.01 L1547.25 205.51 L1547.3 205.01 L1547.35 204.51 L1547.39 204.01 L1547.43 203.51 L1547.47 203.01 L1547.51 202.51 L1547.55 202.01 L1547.59 201.51 L1547.62 201.01 L1547.65 200.51 L1547.68 200.01 L1547.71 199.51 L1547.74 199.01 L1547.76 198.51 L1547.79 198.01 L1547.81 197.51 L1547.83 197.01 L1547.84 196.51 L1547.86 196.01 L1547.88 195.51 L1547.89 195.01 L1547.9 194.51 L1547.91 194.01 L1547.92 193.51 L1547.93 193.01 L1547.94 192.51 L1547.95 192.01 L1547.96 191.51 L1547.97 191.01 L1547.98 190.51 L1547.98 190.01 L1547.99 189.51 L1548 189.01 L1548.01 188.51 L1548.01 188.01 L1548.02 187.51 L1548.02 187.01 L1548.03 186.51 L1548.03 186.01 L1548.04 185.51 L1548.04 185.01 L1548.04 184.51 L1548.05 184.01 L1548.05 183.51 L1548.05 183.01 L1548.05 182.51 L1548.03 182.01 L1547.99 181.51 L1547.93 181.01 L1547.86 180.51 L1547.79 180.01 L1547.72 179.51 L1547.66 179.01 L1547.61 178.51 L1547.6 178.01 L1547.6 177.51 L1547.6 177.01 L1547.6 176.51 L1547.6 176.01 L1547.6 175.51 L1547.6 175.01 L1547.6 174.51 L1547.6 174.01 L1547.6 173.51 L1547.6 173.01 L1547.6 172.51 L1547.6 172.01 L1547.6 171.51 L1547.6 171.01 L1547.6 170.51 L1547.6 170.01 L1547.6 169.51 L1547.6 169.01 L1547.6 168.51 L1547.6 168.01 L1547.6 167.51 L1547.6 167.01 L1547.6 166.51 L1547.6 166.01 L1547.6 165.51 L1547.65 165.01 L1547.9 164.51Z" fill="#fbc932" stroke="#2b2b2b" stroke-width="1.8" stroke-linejoin="round"/>
<path d="M1600.6 194.22 L1600.85 194.72 L1600.9 195.22 L1600.9 195.72 L1600.9 196.22 L1600.9 196.72 L1600.89 197.22 L1600.89 197.72 L1600.88 198.22 L1600.88 198.72 L1600.87 199.22 L1600.87 199.72 L1600.86 200.22 L1600.85 200.72 L1600.84 201.22 L1600.83 201.72 L1600.82 202.22 L1600.81 202.72 L1600.8 203.22 L1600.79 203.72 L1600.77 204.22 L1600.76 204.72 L1600.74 205.22 L1600.7 205.72 L1600.63 206.22 L1600.56 206.72 L1600.5 207.22 L1600.46 207.72 L1600.45 208.22 L1600.45 208.72 L1600.45 209.22 L1600.46 209.72 L1600.46 210.22 L1600.47 210.72 L1600.48 211.22 L1600.49 211.72 L1600.5 212.22 L1600.51 212.72 L1600.52 213.22 L1600.53 213.72 L1600.55 214.22 L1600.56 214.72 L1600.58 215.22 L1600.59 215.72 L1600.61 216.22 L1600.63 216.72 L1600.64 217.22 L1600.66 217.72 L1600.68 218.22 L1600.7 218.72 L1600.72 219.22 L1600.74 219.72 L1600.76 220.22 L1600.78 220.72 L1600.8 221.22 L1600.83 221.72 L1600.85 222.22 L1600.88 222.72 L1600.91 223.22 L1600.94 223.72 L1600.98 224.22 L1601.02 224.72 L1601.06 225.22 L1601.11 225.72 L1601.15 226.22 L1601.21 226.72 L1601.26 227.22 L1601.32 227.72 L1601.39 228.22 L1601.46 228.72 L1601.53 229.22 L1601.64 229.72 L1601.79 230.22 L1601.98 230.72 L1602.19 231.22 L1602.42 231.72 L1602.68 232.22 L1602.94 232.72 L1603.22 233.22 L1603.49 233.72 L1603.77 234.22 L1604.04 234.72 L1604.3 235.22 L1604.57 235.72 L1604.84 236.22 L1605.13 236.72 L1605.43 237.22 L1605.73 237.72 L1606.04 238.22 L1606.36 238.72 L1606.67 239.22 L1606.99 239.72 L1607.3 240.22 L1607.61 240.72 L1607.92 241.22 L1608.23 241.72 L1608.52 242.22 L1608.81 242.72 L1609.12 243.22 L1609.45 243.72 L1609.79 244.22 L1610.14 244.72 L1610.48 245.22 L1610.8 245.72 L1611.11 246.22 L1611.38 246.72 L1611.62 247.22 L1611.81 247.72 L1611.95 248.22 L1612.03 248.72 L1612.08 249.22 L1612.13 249.72 L1612.16 250.22 L1612.19 250.72 L1612.22 251.22 L1612.24 251.72 L1612.27 252.22 L1612.29 252.72 L1612.33 253.22 L1612.37 253.72 L1612.42 254.22 L1612.48 254.72 L1612.57 255.22 L1612.69 255.72 L1612.84 256.22 L1613.01 256.72 L1613.19 257.22 L1613.4 257.72 L1613.62 258.22 L1613.85 258.72 L1614.08 259.22 L1614.32 259.72 L1614.56 260.22 L1614.79 260.72 L1615.07 261.22 L1615.38 261.72 L1615.71 262.22 L1616.05 262.72 L1616.39 263.22 L1616.72 263.72 L1617.01 264.22 L1617.27 264.72 L1617.48 265.22 L1617.68 265.72 L1617.88 266.22 L1618.07 266.72 L1618.26 267.22 L1618.43 267.72 L1618.58 268.22 L1618.71 268.72 L1618.81 269.22 L1618.88 269.72 L1618.9 270.22 L1618.88 270.72 L1618.81 271.22 L1618.69 271.72 L1618.53 272.22 L1618.33 272.72 L1618.11 273.22 L1617.87 273.72 L1617.62 274.22 L1617.37 274.72 L1617.11 275.22 L1616.86 275.72 L1616.55 276.22 L1616.2 276.72 L1615.81 277.22 L1615.42 277.72 L1615.04 278.22 L1614.71 278.72 L1614.44 279.22 L1614.23 279.72 L1614.07 280.22 L1613.93 280.72 L1613.8 281.22 L1613.67 281.72 L1613.52 282.22 L1613.34 282.72 L1613.11 283.22 L1612.79 283.72 L1612.38 284.22 L1611.93 284.72 L1611.45 285.22 L1610.99 285.72 L1610.58 286.22 L1610.24 286.72 L1609.99 287.22 L1609.78 287.72 L1609.6 288.22 L1609.44 288.72 L1609.27 289.22 L1609.08 289.72 L1608.86 290.22 L1608.6 290.72 L1608.26 291.22 L1607.86 291.72 L1607.42 292.22 L1606.96 292.72 L1606.51 293.22 L1606.1 293.72 L1605.75 294.22 L1605.46 294.72 L1605.2 295.22 L1604.95 295.72 L1604.73 296.22 L1604.51 296.72 L1604.29 297.22 L1604.06 297.72 L1603.81 298.22 L1603.55 298.72 L1603.27 299.22 L1602.97 299.72 L1602.67 300.22 L1602.37 300.72 L1602.08 301.22 L1601.81 301.72 L1601.55 302.22 L1601.32 302.72 L1601.13 303.22 L1600.98 303.72 L1600.87 304.22 L1600.77 304.72 L1600.68 305.22 L1600.6 305.72 L1600.53 306.22 L1600.46 306.72 L1600.4 307.22 L1600.34 307.72 L1600.29 308.22 L1600.25 308.72 L1600.21 309.22 L1600.17 309.72 L1600.14 310.22 L1600.11 310.72 L1600.08 311.22 L1600.06 311.72 L1600.03 312.22 L1600.01 312.72 L1599.98 313.22 L1599.96 313.72 L1599.94 314.22 L1599.92 314.72 L1599.9 315.22 L1599.89 315.72 L1599.87 316.22 L1599.86 316.72 L1599.86 317.22 L1599.85 317.72 L1599.85 318.22 L1599.55 318.22 L1599.55 317.72 L1599.54 317.22 L1599.54 316.72 L1599.53 316.22 L1599.51 315.72 L1599.5 315.22 L1599.48 314.72 L1599.46 314.22 L1599.44 313.72 L1599.42 313.22 L1599.39 312.72 L1599.37 312.22 L1599.34 311.72 L1599.32 311.22 L1599.29 310.72 L1599.26 310.22 L1599.23 309.72 L1599.19 309.22 L1599.15 308.72 L1599.11 308.22 L1599.06 307.72 L1599 307.22 L1598.94 306.72 L1598.87 306.22 L1598.8 305.72 L1598.72 305.22 L1598.63 304.72 L1598.53 304.22 L1598.42 303.72 L1598.27 303.22 L1598.08 302.72 L1597.85 302.22 L1597.59 301.72 L1597.32 301.22 L1597.03 300.72 L1596.73 300.22 L1596.43 299.72 L1596.13 299.22 L1595.85 298.72 L1595.59 298.22 L1595.34 297.72 L1595.11 297.22 L1594.89 296.72 L1594.67 296.22 L1594.45 295.72 L1594.2 295.22 L1593.94 294.72 L1593.65 294.22 L1593.3 293.72 L1592.89 293.22 L1592.44 292.72 L1591.98 292.22 L1591.54 291.72 L1591.14 291.22 L1590.8 290.72 L1590.54 290.22 L1590.32 289.72 L1590.13 289.22 L1589.96 288.72 L1589.8 288.22 L1589.62 287.72 L1589.41 287.22 L1589.16 286.72 L1588.82 286.22 L1588.41 285.72 L1587.95 285.22 L1587.47 284.72 L1587.02 284.22 L1586.61 283.72 L1586.29 283.22 L1586.06 282.72 L1585.88 282.22 L1585.73 281.72 L1585.6 281.22 L1585.47 280.72 L1585.33 280.22 L1585.17 279.72 L1584.96 279.22 L1584.69 278.72 L1584.36 278.22 L1583.98 277.72 L1583.59 277.22 L1583.2 276.72 L1582.85 276.22 L1582.54 275.72 L1582.29 275.22 L1582.03 274.72 L1581.78 274.22 L1581.53 273.72 L1581.29 273.22 L1581.07 272.72 L1580.87 272.22 L1580.71 271.72 L1580.59 271.22 L1580.52 270.72 L1580.5 270.22 L1580.52 269.72 L1580.59 269.22 L1580.69 268.72 L1580.82 268.22 L1580.97 267.72 L1581.14 267.22 L1581.33 266.72 L1581.52 266.22 L1581.72 265.72 L1581.92 265.22 L1582.13 264.72 L1582.39 264.22 L1582.68 263.72 L1583.01 263.22 L1583.35 262.72 L1583.69 262.22 L1584.02 261.72 L1584.33 261.22 L1584.61 260.72 L1584.84 260.22 L1585.08 259.72 L1585.32 259.22 L1585.55 258.72 L1585.78 258.22 L1586 257.72 L1586.21 257.22 L1586.39 256.72 L1586.56 256.22 L1586.71 255.72 L1586.83 255.22 L1586.92 254.72 L1586.98 254.22 L1587.03 253.72 L1587.07 253.22 L1587.11 252.72 L1587.13 252.22 L1587.16 251.72 L1587.18 251.22 L1587.21 250.72 L1587.24 250.22 L1587.27 249.72 L1587.32 249.22 L1587.37 248.72 L1587.45 248.22 L1587.59 247.72 L1587.78 247.22 L1588.02 246.72 L1588.29 246.22 L1588.6 245.72 L1588.92 245.22 L1589.26 244.72 L1589.61 244.22 L1589.95 243.72 L1590.28 243.22 L1590.59 242.72 L1590.88 242.22 L1591.17 241.72 L1591.48 241.22 L1591.79 240.72 L1592.1 240.22 L1592.41 239.72 L1592.73 239.22 L1593.04 238.72 L1593.36 238.22 L1593.67 237.72 L1593.97 237.22 L1594.27 236.72 L1594.56 236.22 L1594.83 235.72 L1595.1 235.22 L1595.36 234.72 L1595.63 234.22 L1595.91 233.72 L1596.18 233.22 L1596.46 232.72 L1596.72 232.22 L1596.98 231.72 L1597.21 231.22 L1597.42 230.72 L1597.61 230.22 L1597.76 229.72 L1597.87 229.22 L1597.94 228.72 L1598.01 228.22 L1598.08 227.72 L1598.14 227.22 L1598.19 226.72 L1598.25 226.22 L1598.29 225.72 L1598.34 225.22 L1598.38 224.72 L1598.42 224.22 L1598.46 223.72 L1598.49 223.22 L1598.52 222.72 L1598.55 222.22 L1598.57 221.72 L1598.6 221.22 L1598.62 220.72 L1598.64 220.22 L1598.66 219.72 L1598.68 219.22 L1598.7 218.72 L1598.72 218.22 L1598.74 217.72 L1598.76 217.22 L1598.77 216.72 L1598.79 216.22 L1598.81 215.72 L1598.82 215.22 L1598.84 214.72 L1598.85 214.22 L1598.87 213.72 L1598.88 213.22 L1598.89 212.72 L1598.9 212.22 L1598.91 211.72 L1598.92 211.22 L1598.93 210.72 L1598.94 210.22 L1598.94 209.72 L1598.95 209.22 L1598.95 208.72 L1598.95 208.22 L1598.94 207.72 L1598.9 207.22 L1598.84 206.72 L1598.77 206.22 L1598.7 205.72 L1598.66 205.22 L1598.64 204.72 L1598.63 204.22 L1598.61 203.72 L1598.6 203.22 L1598.59 202.72 L1598.58 202.22 L1598.57 201.72 L1598.56 201.22 L1598.55 200.72 L1598.54 200.22 L1598.53 199.72 L1598.53 199.22 L1598.52 198.72 L1598.52 198.22 L1598.51 197.72 L1598.51 197.22 L1598.5 196.72 L1598.5 196.22 L1598.5 195.72 L1598.5 195.22 L1598.55 194.72 L1598.8 194.22Z" fill="#00a94f" stroke="#2b2b2b" stroke-width="1.8" stroke-linejoin="round"/>
<path d="M1651.4 227.52 L1651.65 228.02 L1651.7 228.52 L1651.7 229.02 L1651.69 229.52 L1651.69 230.02 L1651.68 230.52 L1651.67 231.02 L1651.66 231.52 L1651.65 232.02 L1651.64 232.52 L1651.62 233.02 L1651.61 233.52 L1651.59 234.02 L1651.57 234.52 L1651.55 235.02 L1651.51 235.52 L1651.46 236.02 L1651.39 236.52 L1651.32 237.02 L1651.27 237.52 L1651.25 238.02 L1651.25 238.52 L1651.26 239.02 L1651.27 239.52 L1651.29 240.02 L1651.31 240.52 L1651.34 241.02 L1651.37 241.52 L1651.4 242.02 L1651.44 242.52 L1651.48 243.02 L1651.52 243.52 L1651.56 244.02 L1651.61 244.52 L1651.65 245.02 L1651.7 245.52 L1651.76 246.02 L1651.83 246.52 L1651.91 247.02 L1652 247.52 L1652.11 248.02 L1652.22 248.52 L1652.34 249.02 L1652.47 249.52 L1652.6 250.02 L1652.74 250.52 L1652.89 251.02 L1653.05 251.52 L1653.22 252.02 L1653.41 252.52 L1653.6 253.02 L1653.81 253.52 L1654.03 254.02 L1654.26 254.52 L1654.49 255.02 L1654.74 255.52 L1655 256.02 L1655.28 256.52 L1655.61 257.02 L1655.97 257.52 L1656.36 258.02 L1656.77 258.52 L1657.19 259.02 L1657.61 259.52 L1658.03 260.02 L1658.43 260.52 L1658.82 261.02 L1659.18 261.52 L1659.5 262.02 L1659.8 262.52 L1660.12 263.02 L1660.44 263.52 L1660.76 264.02 L1661.07 264.52 L1661.36 265.02 L1661.64 265.52 L1661.89 266.02 L1662.1 266.52 L1662.28 267.02 L1662.42 267.52 L1662.5 268.02 L1662.55 268.52 L1662.59 269.02 L1662.62 269.52 L1662.64 270.02 L1662.66 270.52 L1662.68 271.02 L1662.71 271.52 L1662.75 272.02 L1662.8 272.52 L1662.9 273.02 L1663.09 273.52 L1663.33 274.02 L1663.64 274.52 L1663.98 275.02 L1664.35 275.52 L1664.73 276.02 L1665.12 276.52 L1665.49 277.02 L1665.9 277.52 L1666.38 278.02 L1666.89 278.52 L1667.38 279.02 L1667.83 279.52 L1668.2 280.02 L1668.51 280.52 L1668.82 281.02 L1669.12 281.52 L1669.37 282.02 L1669.57 282.52 L1669.68 283.02 L1669.69 283.52 L1669.56 284.02 L1669.3 284.52 L1668.95 285.02 L1668.53 285.52 L1668.06 286.02 L1667.59 286.52 L1667.13 287.02 L1666.72 287.52 L1666.32 288.02 L1665.91 288.52 L1665.49 289.02 L1665.08 289.52 L1664.68 290.02 L1664.31 290.52 L1664 291.02 L1663.71 291.52 L1663.45 292.02 L1663.17 292.52 L1662.87 293.02 L1662.52 293.52 L1662.07 294.02 L1661.51 294.52 L1660.9 295.02 L1660.29 295.52 L1659.71 296.02 L1659.22 296.52 L1658.82 297.02 L1658.47 297.52 L1658.14 298.02 L1657.82 298.52 L1657.49 299.02 L1657.12 299.52 L1656.67 300.02 L1656.16 300.52 L1655.61 301.02 L1655.03 301.52 L1654.46 302.02 L1653.92 302.52 L1653.44 303.02 L1653.05 303.52 L1652.76 304.02 L1652.54 304.52 L1652.34 305.02 L1652.16 305.52 L1651.98 306.02 L1651.82 306.52 L1651.67 307.02 L1651.54 307.52 L1651.42 308.02 L1651.32 308.52 L1651.23 309.02 L1651.16 309.52 L1651.1 310.02 L1651.06 310.52 L1651.01 311.02 L1650.97 311.52 L1650.93 312.02 L1650.89 312.52 L1650.85 313.02 L1650.82 313.52 L1650.79 314.02 L1650.76 314.52 L1650.73 315.02 L1650.71 315.52 L1650.69 316.02 L1650.68 316.52 L1650.66 317.02 L1650.65 317.52 L1650.65 318.02 L1650.35 318.02 L1650.35 317.52 L1650.34 317.02 L1650.32 316.52 L1650.31 316.02 L1650.29 315.52 L1650.27 315.02 L1650.24 314.52 L1650.21 314.02 L1650.18 313.52 L1650.15 313.02 L1650.11 312.52 L1650.07 312.02 L1650.03 311.52 L1649.99 311.02 L1649.94 310.52 L1649.9 310.02 L1649.84 309.52 L1649.77 309.02 L1649.68 308.52 L1649.58 308.02 L1649.46 307.52 L1649.33 307.02 L1649.18 306.52 L1649.02 306.02 L1648.84 305.52 L1648.66 305.02 L1648.46 304.52 L1648.24 304.02 L1647.95 303.52 L1647.56 303.02 L1647.08 302.52 L1646.54 302.02 L1645.97 301.52 L1645.39 301.02 L1644.84 300.52 L1644.33 300.02 L1643.88 299.52 L1643.51 299.02 L1643.18 298.52 L1642.86 298.02 L1642.53 297.52 L1642.18 297.02 L1641.78 296.52 L1641.29 296.02 L1640.71 295.52 L1640.1 295.02 L1639.49 294.52 L1638.93 294.02 L1638.48 293.52 L1638.13 293.02 L1637.83 292.52 L1637.55 292.02 L1637.29 291.52 L1637 291.02 L1636.69 290.52 L1636.32 290.02 L1635.92 289.52 L1635.51 289.02 L1635.09 288.52 L1634.68 288.02 L1634.28 287.52 L1633.87 287.02 L1633.41 286.52 L1632.94 286.02 L1632.47 285.52 L1632.05 285.02 L1631.7 284.52 L1631.44 284.02 L1631.31 283.52 L1631.32 283.02 L1631.43 282.52 L1631.63 282.02 L1631.88 281.52 L1632.18 281.02 L1632.49 280.52 L1632.8 280.02 L1633.17 279.52 L1633.62 279.02 L1634.11 278.52 L1634.62 278.02 L1635.1 277.52 L1635.51 277.02 L1635.88 276.52 L1636.27 276.02 L1636.65 275.52 L1637.02 275.02 L1637.36 274.52 L1637.67 274.02 L1637.91 273.52 L1638.1 273.02 L1638.2 272.52 L1638.25 272.02 L1638.29 271.52 L1638.32 271.02 L1638.34 270.52 L1638.36 270.02 L1638.38 269.52 L1638.41 269.02 L1638.45 268.52 L1638.5 268.02 L1638.58 267.52 L1638.72 267.02 L1638.9 266.52 L1639.11 266.02 L1639.36 265.52 L1639.64 265.02 L1639.93 264.52 L1640.24 264.02 L1640.56 263.52 L1640.88 263.02 L1641.2 262.52 L1641.5 262.02 L1641.82 261.52 L1642.18 261.02 L1642.57 260.52 L1642.97 260.02 L1643.39 259.52 L1643.81 259.02 L1644.23 258.52 L1644.64 258.02 L1645.03 257.52 L1645.39 257.02 L1645.72 256.52 L1646 256.02 L1646.26 255.52 L1646.51 255.02 L1646.74 254.52 L1646.97 254.02 L1647.19 253.52 L1647.4 253.02 L1647.59 252.52 L1647.78 252.02 L1647.95 251.52 L1648.11 251.02 L1648.26 250.52 L1648.4 250.02 L1648.53 249.52 L1648.66 249.02 L1648.78 248.52 L1648.89 248.02 L1649 247.52 L1649.09 247.02 L1649.17 246.52 L1649.24 246.02 L1649.3 245.52 L1649.35 245.02 L1649.39 244.52 L1649.44 244.02 L1649.48 243.52 L1649.52 243.02 L1649.56 242.52 L1649.6 242.02 L1649.63 241.52 L1649.66 241.02 L1649.69 240.52 L1649.71 240.02 L1649.73 239.52 L1649.74 239.02 L1649.75 238.52 L1649.75 238.02 L1649.73 237.52 L1649.68 237.02 L1649.61 236.52 L1649.54 236.02 L1649.49 235.52 L1649.45 235.02 L1649.43 234.52 L1649.41 234.02 L1649.39 233.52 L1649.38 233.02 L1649.36 232.52 L1649.35 232.02 L1649.34 231.52 L1649.33 231.02 L1649.32 230.52 L1649.31 230.02 L1649.31 229.52 L1649.3 229.02 L1649.3 228.52 L1649.35 228.02 L1649.6 227.52Z" fill="#5b8fc9" stroke="#2b2b2b" stroke-width="1.8" stroke-linejoin="round"/>
<text x="1493" y="370.8" font-size="25.6" font-weight="normal" font-style="normal" text-anchor="middle" fill="#231f20" stroke="#231f20" stroke-width="0.3">1</text>
<text x="1549" y="370.8" font-size="25.6" font-weight="normal" font-style="normal" text-anchor="middle" fill="#231f20" stroke="#231f20" stroke-width="0.3">2</text>
<text x="1605" y="370.8" font-size="25.6" font-weight="normal" font-style="normal" text-anchor="middle" fill="#231f20" stroke="#231f20" stroke-width="0.3">3</text>
<text x="1661.5" y="370.8" font-size="25.6" font-weight="normal" font-style="normal" text-anchor="middle" fill="#231f20" stroke="#231f20" stroke-width="0.3">4</text>
<text x="1580.4" y="429" font-size="29.1" font-weight="normal" font-style="italic" text-anchor="middle" fill="#333333" textLength="111.5" lengthAdjust="spacingAndGlyphs" stroke="#333333" stroke-width="0.3">Variation</text>
<path d="M1820.2 126.2 L1820.2 345.4 L2032.7 345.4" fill="none" stroke="#2b2b2b" stroke-width="1.8"/>
<line x1="1820.5" y1="247.7" x2="2030" y2="247.7" stroke="#2b2b2b" stroke-width="1.9" stroke-dasharray="3 3.3"/>
<line x1="1853.9" y1="156.7" x2="1853.9" y2="328.2" stroke="#2b2b2b" stroke-width="1.5"/>
<line x1="1846.2" y1="156.7" x2="1861.6" y2="156.7" stroke="#2b2b2b" stroke-width="1.5"/>
<line x1="1846.2" y1="328.2" x2="1861.6" y2="328.2" stroke="#2b2b2b" stroke-width="1.5"/>
<rect x="1838.3" y="222.3" width="31.2" height="48.4" fill="#ab1c22" stroke="#2b2b2b" stroke-width="1.7"/>
<line x1="1838.3" y1="250.7" x2="1869.5" y2="250.7" stroke="#2b2b2b" stroke-width="1.8"/>
<line x1="1907.4" y1="181.6" x2="1907.4" y2="302.3" stroke="#2b2b2b" stroke-width="1.5"/>
<line x1="1899.7" y1="181.6" x2="1915.1" y2="181.6" stroke="#2b2b2b" stroke-width="1.5"/>
<line x1="1899.7" y1="302.3" x2="1915.1" y2="302.3" stroke="#2b2b2b" stroke-width="1.5"/>
<rect x="1891.8" y="228" width="31.2" height="34.3" fill="#fbc932" stroke="#2b2b2b" stroke-width="1.7"/>
<line x1="1891.8" y1="248" x2="1923" y2="248" stroke="#2b2b2b" stroke-width="1.8"/>
<line x1="1960.9" y1="165.9" x2="1960.9" y2="318.4" stroke="#2b2b2b" stroke-width="1.5"/>
<line x1="1953.2" y1="165.9" x2="1968.6" y2="165.9" stroke="#2b2b2b" stroke-width="1.5"/>
<line x1="1953.2" y1="318.4" x2="1968.6" y2="318.4" stroke="#2b2b2b" stroke-width="1.5"/>
<rect x="1945.3" y="224.5" width="31.2" height="43.2" fill="#00a94f" stroke="#2b2b2b" stroke-width="1.7"/>
<line x1="1945.3" y1="250.3" x2="1976.5" y2="250.3" stroke="#2b2b2b" stroke-width="1.8"/>
<line x1="2014.3" y1="202.9" x2="2014.3" y2="281.7" stroke="#2b2b2b" stroke-width="1.5"/>
<line x1="2006.6" y1="202.9" x2="2022" y2="202.9" stroke="#2b2b2b" stroke-width="1.5"/>
<line x1="2006.6" y1="281.7" x2="2022" y2="281.7" stroke="#2b2b2b" stroke-width="1.5"/>
<rect x="1998.7" y="232.9" width="31.2" height="22.4" fill="#5b8fc9" stroke="#2b2b2b" stroke-width="1.7"/>
<line x1="1998.7" y1="246.1" x2="2029.9" y2="246.1" stroke="#2b2b2b" stroke-width="1.8"/>
<text x="1852.6" y="370.8" font-size="25.6" font-weight="normal" font-style="normal" text-anchor="middle" fill="#231f20" stroke="#231f20" stroke-width="0.3">1</text>
<text x="1908.5" y="370.8" font-size="25.6" font-weight="normal" font-style="normal" text-anchor="middle" fill="#231f20" stroke="#231f20" stroke-width="0.3">2</text>
<text x="1964.1" y="370.8" font-size="25.6" font-weight="normal" font-style="normal" text-anchor="middle" fill="#231f20" stroke="#231f20" stroke-width="0.3">3</text>
<text x="2020.5" y="370.8" font-size="25.6" font-weight="normal" font-style="normal" text-anchor="middle" fill="#231f20" stroke="#231f20" stroke-width="0.3">4</text>
<text x="1934.7" y="429" font-size="29.1" font-weight="normal" font-style="italic" text-anchor="middle" fill="#333333" textLength="178" lengthAdjust="spacingAndGlyphs" stroke="#333333" stroke-width="0.3">Normalisation</text>
</g>
<g id="panel-b">
<text x="1.2" y="616.9" font-size="88" font-weight="bold" font-style="normal" text-anchor="start" fill="#231f20">b.</text>
<text x="103" y="584.6" font-size="36.6" font-weight="bold" font-style="italic" text-anchor="start" fill="#231f20" textLength="483.7" lengthAdjust="spacingAndGlyphs">CAPTORs form quantitative</text>
<text x="103.3" y="628.8" font-size="36.6" font-weight="bold" font-style="italic" text-anchor="start" fill="#231f20" textLength="292.3" lengthAdjust="spacingAndGlyphs">reference ladder.</text>
<path d="M146.5 1150.4 L249.8 1124.4 L288.4 1105.4 L303.1 1096.5 L309.9 1092 L316.8 1087.3 L323.6 1082.3 L330.5 1077.1 L337.3 1071.7 L344.2 1066 L351 1060.1 L357.9 1054 L364.7 1047.7 L371.6 1041.1 L378.4 1034.3 L385.2 1027.3 L392.1 1020.1 L398.9 1012.6 L405.8 1004.9 L412.6 996.9 L419.5 988.7 L426.3 980.3 L433.2 971.7 L440 962.9 L446.9 953.9 L453.7 944.7 L460.6 935.5 L467.4 926.2 L474.3 916.9 L481.1 907.6 L488 898.4 L494.8 889.2 L501.6 880.1 L508.5 871 L515.3 862 L522.2 853 L529 844 L535.9 834.9 L542.7 825.8 L549.6 816.6 L556.4 807.3 L563.3 797.8 L570.1 788.3" fill="none" stroke="#c4c4c4" stroke-opacity="0.27" stroke-width="3.8" stroke-linecap="butt" stroke-linejoin="round"/>
<path d="M146.5 1147.7 L249.8 1122.2 L288.4 1103.6 L303.1 1094.8 L309.9 1090.4 L316.8 1085.7 L323.6 1080.8 L330.5 1075.7 L337.3 1070.3 L344.2 1064.7 L351 1058.9 L357.9 1052.8 L364.7 1046.6 L371.6 1040.1 L378.4 1033.3 L385.2 1026.4 L392.1 1019.2 L398.9 1011.7 L405.8 1004.1 L412.6 996.2 L419.5 988 L426.3 979.7 L433.2 971.1 L440 962.3 L446.9 953.4 L453.7 944.3 L460.6 935.1 L467.4 925.8 L474.3 916.5 L481.1 907.2 L488 898 L494.8 888.9 L501.6 879.8 L508.5 870.7 L515.3 861.7 L522.2 852.8 L529 843.8 L535.9 834.7 L542.7 825.6 L549.6 816.4 L556.4 807.1 L563.3 797.7 L570.1 788.2" fill="none" stroke="#c4c4c4" stroke-opacity="0.27" stroke-width="3.8" stroke-linecap="butt" stroke-linejoin="round"/>
<path d="M146.5 1145 L249.8 1120 L288.4 1101.7 L303.1 1093.1 L309.9 1088.7 L316.8 1084.1 L323.6 1079.3 L330.5 1074.2 L337.3 1068.9 L344.2 1063.4 L351 1057.6 L357.9 1051.6 L364.7 1045.4 L371.6 1039 L378.4 1032.3 L385.2 1025.4 L392.1 1018.3 L398.9 1010.9 L405.8 1003.3 L412.6 995.5 L419.5 987.4 L426.3 979 L433.2 970.5 L440 961.8 L446.9 952.8 L453.7 943.8 L460.6 934.6 L467.4 925.4 L474.3 916.1 L481.1 906.9 L488 897.7 L494.8 888.6 L501.6 879.5 L508.5 870.5 L515.3 861.5 L522.2 852.5 L529 843.6 L535.9 834.5 L542.7 825.4 L549.6 816.3 L556.4 807 L563.3 797.6 L570.1 788.1" fill="none" stroke="#c4c4c4" stroke-opacity="0.27" stroke-width="3.8" stroke-linecap="butt" stroke-linejoin="round"/>
<path d="M146.5 1162.6 L249.8 1134 L288.4 1113.6 L303.1 1104.1 L309.9 1099.2 L316.8 1094.2 L323.6 1088.9 L330.5 1083.4 L337.3 1077.7 L344.2 1071.8 L351 1065.6 L357.9 1059.2 L364.7 1052.6 L371.6 1045.7 L378.4 1038.7 L385.2 1031.4 L392.1 1023.9 L398.9 1016.2 L405.8 1008.2 L412.6 1000.1 L419.5 991.7 L426.3 983.1 L433.2 974.2 L440 965.2 L446.9 956.1 L453.7 946.8 L460.6 937.4 L467.4 928 L474.3 918.5 L481.1 909.1 L488 899.7 L494.8 890.4 L501.6 881.2 L508.5 872.1 L515.3 863 L522.2 853.9 L529 844.8 L535.9 835.7 L542.7 826.5 L549.6 817.2 L556.4 807.9 L563.3 798.4 L570.1 788.8" fill="none" stroke="#c4c4c4" stroke-opacity="0.27" stroke-width="3.8" stroke-linecap="butt" stroke-linejoin="round"/>
<path d="M146.5 1159.5 L249.8 1131.6 L288.4 1111.6 L303.1 1102.2 L309.9 1097.4 L316.8 1092.5 L323.6 1087.3 L330.5 1081.9 L337.3 1076.2 L344.2 1070.3 L351 1064.2 L357.9 1057.9 L364.7 1051.4 L371.6 1044.6 L378.4 1037.6 L385.2 1030.4 L392.1 1023 L398.9 1015.3 L405.8 1007.4 L412.6 999.3 L419.5 991 L426.3 982.4 L433.2 973.6 L440 964.7 L446.9 955.5 L453.7 946.3 L460.6 936.9 L467.4 927.5 L474.3 918.1 L481.1 908.7 L488 899.4 L494.8 890.1 L501.6 880.9 L508.5 871.8 L515.3 862.7 L522.2 853.7 L529 844.6 L535.9 835.5 L542.7 826.3 L549.6 817.1 L556.4 807.7 L563.3 798.3 L570.1 788.7" fill="none" stroke="#c4c4c4" stroke-opacity="0.27" stroke-width="3.8" stroke-linecap="butt" stroke-linejoin="round"/>
<path d="M146.5 1156.5 L249.8 1129.2 L288.4 1109.6 L303.1 1100.3 L309.9 1095.7 L316.8 1090.8 L323.6 1085.7 L330.5 1080.3 L337.3 1074.7 L344.2 1068.9 L351 1062.9 L357.9 1056.6 L364.7 1050.2 L371.6 1043.5 L378.4 1036.5 L385.2 1029.4 L392.1 1022 L398.9 1014.4 L405.8 1006.6 L412.6 998.5 L419.5 990.2 L426.3 981.7 L433.2 973 L440 964.1 L446.9 955 L453.7 945.8 L460.6 936.5 L467.4 927.1 L474.3 917.7 L481.1 908.4 L488 899.1 L494.8 889.8 L501.6 880.7 L508.5 871.6 L515.3 862.5 L522.2 853.5 L529 844.4 L535.9 835.3 L542.7 826.2 L549.6 816.9 L556.4 807.6 L563.3 798.1 L570.1 788.6" fill="none" stroke="#c4c4c4" stroke-opacity="0.27" stroke-width="3.8" stroke-linecap="butt" stroke-linejoin="round"/>
<path d="M91.2 711.3 L91.2 1244.3 L623.5 1244.3" fill="none" stroke="#000000" stroke-width="1.9"/>
<line x1="78.1" y1="1244.3" x2="91.5" y2="1244.3" stroke="#000000" stroke-width="1.9"/>
<text x="72.3" y="1252.2" font-size="24.4" font-weight="normal" font-style="normal" text-anchor="end" fill="#000000" stroke="#000000" stroke-width="0.3">10</text>
<line x1="78.1" y1="978" x2="91.5" y2="978" stroke="#000000" stroke-width="1.9"/>
<text x="72.3" y="985.9" font-size="24.4" font-weight="normal" font-style="normal" text-anchor="end" fill="#000000" stroke="#000000" stroke-width="0.3">100</text>
<line x1="78.1" y1="712.1" x2="91.5" y2="712.1" stroke="#000000" stroke-width="1.9"/>
<text x="72.3" y="720" font-size="24.4" font-weight="normal" font-style="normal" text-anchor="end" fill="#000000" stroke="#000000" stroke-width="0.3">1000</text>
<line x1="91.2" y1="1244.3" x2="91.2" y2="1257.3" stroke="#000000" stroke-width="1.9"/>
<text x="95.7" y="1276.7" font-size="24.4" font-weight="normal" font-style="normal" text-anchor="middle" fill="#000000" stroke="#000000" stroke-width="0.3">0.001</text>
<line x1="268.8" y1="1244.3" x2="268.8" y2="1257.3" stroke="#000000" stroke-width="1.9"/>
<text x="272.8" y="1276.7" font-size="24.4" font-weight="normal" font-style="normal" text-anchor="middle" fill="#000000" stroke="#000000" stroke-width="0.3">0.01</text>
<line x1="446.2" y1="1244.3" x2="446.2" y2="1257.3" stroke="#000000" stroke-width="1.9"/>
<text x="448.4" y="1276.7" font-size="24.4" font-weight="normal" font-style="normal" text-anchor="middle" fill="#000000" stroke="#000000" stroke-width="0.3">0.1</text>
<line x1="623.5" y1="1244.3" x2="623.5" y2="1257.3" stroke="#000000" stroke-width="1.9"/>
<text x="624.2" y="1276.7" font-size="24.4" font-weight="normal" font-style="normal" text-anchor="middle" fill="#000000" stroke="#000000" stroke-width="0.3">1</text>
<circle cx="142.5" cy="1149.3" r="5.5" fill="#e35a9e" stroke="none" stroke-width="1" fill-opacity="0.56"/>
<circle cx="142.5" cy="1159" r="5.5" fill="#e35a9e" stroke="none" stroke-width="1" fill-opacity="0.56"/>
<circle cx="142.5" cy="1188.3" r="5.5" fill="#e35a9e" stroke="none" stroke-width="1" fill-opacity="0.56"/>
<circle cx="142.5" cy="1205.9" r="5.5" fill="#e35a9e" stroke="none" stroke-width="1" fill-opacity="0.56"/>
<circle cx="142.5" cy="1241.9" r="5.5" fill="#e35a9e" stroke="none" stroke-width="1" fill-opacity="0.56"/>
<circle cx="195.8" cy="1146.7" r="5.5" fill="#8066b7" stroke="none" stroke-width="1" fill-opacity="0.56"/>
<circle cx="195.8" cy="1154.7" r="5.5" fill="#8066b7" stroke="none" stroke-width="1" fill-opacity="0.56"/>
<circle cx="195.8" cy="1167.3" r="5.5" fill="#8066b7" stroke="none" stroke-width="1" fill-opacity="0.56"/>
<circle cx="195.8" cy="1196.6" r="5.5" fill="#8066b7" stroke="none" stroke-width="1" fill-opacity="0.56"/>
<circle cx="249.2" cy="1078.4" r="5.5" fill="#0f61aa" stroke="none" stroke-width="1" fill-opacity="0.56"/>
<circle cx="249.2" cy="1090.7" r="5.5" fill="#0f61aa" stroke="none" stroke-width="1" fill-opacity="0.56"/>
<circle cx="249.2" cy="1109.1" r="5.5" fill="#0f61aa" stroke="none" stroke-width="1" fill-opacity="0.56"/>
<circle cx="249.2" cy="1122" r="5.5" fill="#0f61aa" stroke="none" stroke-width="1" fill-opacity="0.56"/>
<circle cx="249.2" cy="1126.7" r="5.5" fill="#0f61aa" stroke="none" stroke-width="1" fill-opacity="0.56"/>
<circle cx="249.2" cy="1145.7" r="5.5" fill="#0f61aa" stroke="none" stroke-width="1" fill-opacity="0.56"/>
<circle cx="249.2" cy="1150" r="5.5" fill="#0f61aa" stroke="none" stroke-width="1" fill-opacity="0.56"/>
<circle cx="302.6" cy="1045.8" r="5.5" fill="#5aa8d5" stroke="none" stroke-width="1" fill-opacity="0.56"/>
<circle cx="302.6" cy="1064.8" r="5.5" fill="#5aa8d5" stroke="none" stroke-width="1" fill-opacity="0.56"/>
<circle cx="302.6" cy="1092.1" r="5.5" fill="#5aa8d5" stroke="none" stroke-width="1" fill-opacity="0.56"/>
<circle cx="302.6" cy="1096.4" r="5.5" fill="#5aa8d5" stroke="none" stroke-width="1" fill-opacity="0.56"/>
<circle cx="302.6" cy="1113" r="5.5" fill="#5aa8d5" stroke="none" stroke-width="1" fill-opacity="0.56"/>
<circle cx="302.6" cy="1124" r="5.5" fill="#5aa8d5" stroke="none" stroke-width="1" fill-opacity="0.56"/>
<circle cx="302.6" cy="1128.4" r="5.5" fill="#5aa8d5" stroke="none" stroke-width="1" fill-opacity="0.56"/>
<circle cx="355.9" cy="1021.2" r="5.5" fill="#16b15d" stroke="none" stroke-width="1" fill-opacity="0.56"/>
<circle cx="355.9" cy="1036.2" r="5.5" fill="#16b15d" stroke="none" stroke-width="1" fill-opacity="0.56"/>
<circle cx="355.9" cy="1037.5" r="5.5" fill="#16b15d" stroke="none" stroke-width="1" fill-opacity="0.56"/>
<circle cx="355.9" cy="1053.5" r="5.5" fill="#16b15d" stroke="none" stroke-width="1" fill-opacity="0.56"/>
<circle cx="355.9" cy="1073.4" r="5.5" fill="#16b15d" stroke="none" stroke-width="1" fill-opacity="0.56"/>
<circle cx="355.9" cy="1077.1" r="5.5" fill="#16b15d" stroke="none" stroke-width="1" fill-opacity="0.56"/>
<circle cx="355.9" cy="1092.1" r="5.5" fill="#16b15d" stroke="none" stroke-width="1" fill-opacity="0.56"/>
<circle cx="355.9" cy="1094.7" r="5.5" fill="#16b15d" stroke="none" stroke-width="1" fill-opacity="0.56"/>
<circle cx="409.2" cy="970.6" r="5.5" fill="#e8df17" stroke="none" stroke-width="1" fill-opacity="0.56"/>
<circle cx="409.2" cy="979.6" r="5.5" fill="#e8df17" stroke="none" stroke-width="1" fill-opacity="0.56"/>
<circle cx="409.2" cy="982.2" r="5.5" fill="#e8df17" stroke="none" stroke-width="1" fill-opacity="0.56"/>
<circle cx="409.2" cy="998.9" r="5.5" fill="#e8df17" stroke="none" stroke-width="1" fill-opacity="0.56"/>
<circle cx="409.2" cy="1005.2" r="5.5" fill="#e8df17" stroke="none" stroke-width="1" fill-opacity="0.56"/>
<circle cx="409.2" cy="1016.5" r="5.5" fill="#e8df17" stroke="none" stroke-width="1" fill-opacity="0.56"/>
<circle cx="409.2" cy="1035.5" r="5.5" fill="#e8df17" stroke="none" stroke-width="1" fill-opacity="0.56"/>
<circle cx="409.2" cy="1044.1" r="5.5" fill="#e8df17" stroke="none" stroke-width="1" fill-opacity="0.56"/>
<circle cx="462.6" cy="887.8" r="5.5" fill="#e4851c" stroke="none" stroke-width="1" fill-opacity="0.56"/>
<circle cx="462.6" cy="917" r="5.5" fill="#e4851c" stroke="none" stroke-width="1" fill-opacity="0.56"/>
<circle cx="462.6" cy="933" r="5.5" fill="#e4851c" stroke="none" stroke-width="1" fill-opacity="0.56"/>
<circle cx="462.6" cy="951.6" r="5.5" fill="#e4851c" stroke="none" stroke-width="1" fill-opacity="0.56"/>
<circle cx="462.6" cy="954.9" r="5.5" fill="#e4851c" stroke="none" stroke-width="1" fill-opacity="0.56"/>
<circle cx="462.6" cy="969.2" r="5.5" fill="#e4851c" stroke="none" stroke-width="1" fill-opacity="0.56"/>
<circle cx="516" cy="840.2" r="5.5" fill="#d4412b" stroke="none" stroke-width="1" fill-opacity="0.56"/>
<circle cx="516" cy="850.2" r="5.5" fill="#d4412b" stroke="none" stroke-width="1" fill-opacity="0.56"/>
<circle cx="516" cy="861.2" r="5.5" fill="#d4412b" stroke="none" stroke-width="1" fill-opacity="0.56"/>
<circle cx="516" cy="876.9" r="5.5" fill="#d4412b" stroke="none" stroke-width="1" fill-opacity="0.56"/>
<circle cx="516" cy="885.5" r="5.5" fill="#d4412b" stroke="none" stroke-width="1" fill-opacity="0.56"/>
<circle cx="516" cy="886.8" r="5.5" fill="#d4412b" stroke="none" stroke-width="1" fill-opacity="0.56"/>
<circle cx="569.3" cy="768" r="5.5" fill="#af2d37" stroke="none" stroke-width="1" fill-opacity="0.56"/>
<circle cx="569.3" cy="773" r="5.5" fill="#af2d37" stroke="none" stroke-width="1" fill-opacity="0.56"/>
<circle cx="569.3" cy="781.3" r="5.5" fill="#af2d37" stroke="none" stroke-width="1" fill-opacity="0.56"/>
<circle cx="569.3" cy="788" r="5.5" fill="#af2d37" stroke="none" stroke-width="1" fill-opacity="0.56"/>
<circle cx="569.3" cy="793" r="5.5" fill="#af2d37" stroke="none" stroke-width="1" fill-opacity="0.56"/>
<circle cx="569.3" cy="796.3" r="5.5" fill="#af2d37" stroke="none" stroke-width="1" fill-opacity="0.56"/>
<circle cx="569.3" cy="801.3" r="5.5" fill="#af2d37" stroke="none" stroke-width="1" fill-opacity="0.56"/>
<text x="350" y="1320.5" font-size="29.5" font-weight="bold" font-style="normal" text-anchor="middle" fill="#000000" textLength="425" lengthAdjust="spacing">Expected Concentration (Log<tspan font-size="16.5" dy="10">10</tspan><tspan dy="-10">)</tspan></text>
<text x="22.8" y="963.6" font-size="29.5" font-weight="bold" font-style="normal" text-anchor="middle" fill="#000000" textLength="300" lengthAdjust="spacing" transform="rotate(-90 22.8 963.6)">Observed Read Count</text>
<text x="548.4" y="1216.9" font-size="27.4" font-weight="normal" font-style="italic" text-anchor="middle" fill="#333333" textLength="134.8" lengthAdjust="spacingAndGlyphs" stroke="#333333" stroke-width="0.3">R = 0.9779</text>
</g>
<g id="panel-c">
<text x="695.2" y="616.8" font-size="90" font-weight="bold" font-style="normal" text-anchor="start" fill="#231f20">c.</text>
<text x="804.8" y="584.6" font-size="36.6" font-weight="bold" font-style="italic" text-anchor="start" fill="#231f20" textLength="467.8" lengthAdjust="spacingAndGlyphs">Variation at different levels</text>
<text x="804.8" y="628.7" font-size="36.6" font-weight="bold" font-style="italic" text-anchor="start" fill="#231f20" textLength="396" lengthAdjust="spacingAndGlyphs">of sequence coverage.</text>
<circle cx="862.1" cy="804" r="6" fill="#e35a9e" stroke="none" stroke-width="1" fill-opacity="0.56"/>
<circle cx="862.1" cy="892.2" r="6" fill="#e35a9e" stroke="none" stroke-width="1" fill-opacity="0.56"/>
<circle cx="862.1" cy="909.8" r="6" fill="#e35a9e" stroke="none" stroke-width="1" fill-opacity="0.56"/>
<circle cx="862.1" cy="927.8" r="6" fill="#e35a9e" stroke="none" stroke-width="1" fill-opacity="0.56"/>
<circle cx="862.1" cy="931.8" r="6" fill="#e35a9e" stroke="none" stroke-width="1" fill-opacity="0.56"/>
<circle cx="862.1" cy="989.9" r="6" fill="#e35a9e" stroke="none" stroke-width="1" fill-opacity="0.56"/>
<circle cx="915.5" cy="818.9" r="6" fill="#8066b7" stroke="none" stroke-width="1" fill-opacity="0.56"/>
<circle cx="915.5" cy="852.9" r="6" fill="#8066b7" stroke="none" stroke-width="1" fill-opacity="0.56"/>
<circle cx="915.5" cy="906.8" r="6" fill="#8066b7" stroke="none" stroke-width="1" fill-opacity="0.56"/>
<circle cx="915.5" cy="921.8" r="6" fill="#8066b7" stroke="none" stroke-width="1" fill-opacity="0.56"/>
<circle cx="915.5" cy="929.5" r="6" fill="#8066b7" stroke="none" stroke-width="1" fill-opacity="0.56"/>
<circle cx="915.5" cy="934.4" r="6" fill="#8066b7" stroke="none" stroke-width="1" fill-opacity="0.56"/>
<circle cx="969" cy="947.6" r="6" fill="#0f61aa" stroke="none" stroke-width="1" fill-opacity="0.56"/>
<circle cx="969" cy="949.3" r="6" fill="#0f61aa" stroke="none" stroke-width="1" fill-opacity="0.56"/>
<circle cx="969" cy="959.9" r="6" fill="#0f61aa" stroke="none" stroke-width="1" fill-opacity="0.56"/>
<circle cx="969" cy="977.9" r="6" fill="#0f61aa" stroke="none" stroke-width="1" fill-opacity="0.56"/>
<circle cx="969" cy="986.9" r="6" fill="#0f61aa" stroke="none" stroke-width="1" fill-opacity="0.56"/>
<circle cx="969" cy="999.2" r="6" fill="#0f61aa" stroke="none" stroke-width="1" fill-opacity="0.56"/>
<circle cx="1022.4" cy="958.6" r="6" fill="#5aa8d5" stroke="none" stroke-width="1" fill-opacity="0.56"/>
<circle cx="1022.4" cy="992.2" r="6" fill="#5aa8d5" stroke="none" stroke-width="1" fill-opacity="0.56"/>
<circle cx="1022.4" cy="1050.5" r="6" fill="#5aa8d5" stroke="none" stroke-width="1" fill-opacity="0.56"/>
<circle cx="1022.4" cy="1055.1" r="6" fill="#5aa8d5" stroke="none" stroke-width="1" fill-opacity="0.56"/>
<circle cx="1022.4" cy="1072.4" r="6" fill="#5aa8d5" stroke="none" stroke-width="1" fill-opacity="0.56"/>
<circle cx="1022.4" cy="1082.8" r="6" fill="#5aa8d5" stroke="none" stroke-width="1" fill-opacity="0.56"/>
<circle cx="1075.8" cy="968.9" r="6" fill="#16b15d" stroke="none" stroke-width="1" fill-opacity="0.56"/>
<circle cx="1075.8" cy="988.5" r="6" fill="#16b15d" stroke="none" stroke-width="1" fill-opacity="0.56"/>
<circle cx="1075.8" cy="1008.2" r="6" fill="#16b15d" stroke="none" stroke-width="1" fill-opacity="0.56"/>
<circle cx="1075.8" cy="1016.2" r="6" fill="#16b15d" stroke="none" stroke-width="1" fill-opacity="0.56"/>
<circle cx="1075.8" cy="1018.2" r="6" fill="#16b15d" stroke="none" stroke-width="1" fill-opacity="0.56"/>
<circle cx="1075.8" cy="1026.8" r="6" fill="#16b15d" stroke="none" stroke-width="1" fill-opacity="0.56"/>
<circle cx="1129.2" cy="983.9" r="6" fill="#e8df17" stroke="none" stroke-width="1" fill-opacity="0.56"/>
<circle cx="1129.2" cy="1013.8" r="6" fill="#e8df17" stroke="none" stroke-width="1" fill-opacity="0.56"/>
<circle cx="1129.2" cy="1046.8" r="6" fill="#e8df17" stroke="none" stroke-width="1" fill-opacity="0.56"/>
<circle cx="1129.2" cy="1048.8" r="6" fill="#e8df17" stroke="none" stroke-width="1" fill-opacity="0.56"/>
<circle cx="1129.2" cy="1056.5" r="6" fill="#e8df17" stroke="none" stroke-width="1" fill-opacity="0.56"/>
<circle cx="1129.2" cy="1064.1" r="6" fill="#e8df17" stroke="none" stroke-width="1" fill-opacity="0.56"/>
<circle cx="1182.7" cy="994.5" r="6" fill="#e4851c" stroke="none" stroke-width="1" fill-opacity="0.56"/>
<circle cx="1182.7" cy="996.5" r="6" fill="#e4851c" stroke="none" stroke-width="1" fill-opacity="0.56"/>
<circle cx="1182.7" cy="1014.8" r="6" fill="#e4851c" stroke="none" stroke-width="1" fill-opacity="0.56"/>
<circle cx="1182.7" cy="1015.5" r="6" fill="#e4851c" stroke="none" stroke-width="1" fill-opacity="0.56"/>
<circle cx="1182.7" cy="1032.2" r="6" fill="#e4851c" stroke="none" stroke-width="1" fill-opacity="0.56"/>
<circle cx="1182.7" cy="1033.8" r="6" fill="#e4851c" stroke="none" stroke-width="1" fill-opacity="0.56"/>
<circle cx="1236.1" cy="1029.5" r="6" fill="#d4412b" stroke="none" stroke-width="1" fill-opacity="0.56"/>
<circle cx="1236.1" cy="1031.5" r="6" fill="#d4412b" stroke="none" stroke-width="1" fill-opacity="0.56"/>
<circle cx="1236.1" cy="1038.1" r="6" fill="#d4412b" stroke="none" stroke-width="1" fill-opacity="0.56"/>
<circle cx="1236.1" cy="1044.8" r="6" fill="#d4412b" stroke="none" stroke-width="1" fill-opacity="0.56"/>
<circle cx="1236.1" cy="1049.8" r="6" fill="#d4412b" stroke="none" stroke-width="1" fill-opacity="0.56"/>
<circle cx="1236.1" cy="1083.1" r="6" fill="#d4412b" stroke="none" stroke-width="1" fill-opacity="0.56"/>
<circle cx="1289.5" cy="1084.8" r="6" fill="#af2d37" stroke="none" stroke-width="1" fill-opacity="0.56"/>
<circle cx="1289.5" cy="1103.7" r="6" fill="#af2d37" stroke="none" stroke-width="1" fill-opacity="0.56"/>
<circle cx="1289.5" cy="1128.4" r="6" fill="#af2d37" stroke="none" stroke-width="1" fill-opacity="0.56"/>
<circle cx="1289.5" cy="1129" r="6" fill="#af2d37" stroke="none" stroke-width="1" fill-opacity="0.56"/>
<circle cx="1289.5" cy="1157.3" r="6" fill="#af2d37" stroke="none" stroke-width="1" fill-opacity="0.56"/>
<circle cx="1289.5" cy="1181.6" r="6" fill="#af2d37" stroke="none" stroke-width="1" fill-opacity="0.56"/>
<path d="M810.8 707.5 L810.8 1240.9 L1343.1 1240.9" fill="none" stroke="#000000" stroke-width="1.75"/>
<line x1="800.8" y1="1240.9" x2="810.8" y2="1240.9" stroke="#000000" stroke-width="1.75"/>
<text x="794.5" y="1247.7" font-size="24.4" font-weight="normal" font-style="normal" text-anchor="end" fill="#000000" stroke="#000000" stroke-width="0.3">0</text>
<line x1="800.8" y1="1107.8" x2="810.8" y2="1107.8" stroke="#000000" stroke-width="1.75"/>
<text x="794.5" y="1114.6" font-size="24.4" font-weight="normal" font-style="normal" text-anchor="end" fill="#000000" stroke="#000000" stroke-width="0.3">10</text>
<line x1="800.8" y1="974.7" x2="810.8" y2="974.7" stroke="#000000" stroke-width="1.75"/>
<text x="794.5" y="981.5" font-size="24.4" font-weight="normal" font-style="normal" text-anchor="end" fill="#000000" stroke="#000000" stroke-width="0.3">20</text>
<line x1="800.8" y1="841.5" x2="810.8" y2="841.5" stroke="#000000" stroke-width="1.75"/>
<text x="794.5" y="848.3" font-size="24.4" font-weight="normal" font-style="normal" text-anchor="end" fill="#000000" stroke="#000000" stroke-width="0.3">30</text>
<line x1="800.8" y1="708.4" x2="810.8" y2="708.4" stroke="#000000" stroke-width="1.75"/>
<text x="790.6" y="717.2" font-size="24.4" font-weight="normal" font-style="normal" text-anchor="end" fill="#000000" stroke="#000000" stroke-width="0.3">40</text>
<line x1="810.8" y1="1240.9" x2="810.8" y2="1249.6" stroke="#000000" stroke-width="1.75"/>
<text x="810.1" y="1279.3" font-size="24.4" font-weight="normal" font-style="normal" text-anchor="middle" fill="#000000" stroke="#000000" stroke-width="0.3">0.001</text>
<line x1="988" y1="1240.9" x2="988" y2="1249.6" stroke="#000000" stroke-width="1.75"/>
<text x="988" y="1279.3" font-size="24.4" font-weight="normal" font-style="normal" text-anchor="middle" fill="#000000" stroke="#000000" stroke-width="0.3">0.01</text>
<line x1="1165.6" y1="1240.9" x2="1165.6" y2="1249.6" stroke="#000000" stroke-width="1.75"/>
<text x="1167.1" y="1279.3" font-size="24.4" font-weight="normal" font-style="normal" text-anchor="middle" fill="#000000" stroke="#000000" stroke-width="0.3">0.1</text>
<line x1="1343.1" y1="1240.9" x2="1343.1" y2="1249.6" stroke="#000000" stroke-width="1.75"/>
<text x="1346.1" y="1279.3" font-size="24.4" font-weight="normal" font-style="normal" text-anchor="middle" fill="#000000" stroke="#000000" stroke-width="0.3">1</text>
<text x="1074.2" y="1326.6" font-size="29.5" font-weight="bold" font-style="normal" text-anchor="middle" fill="#000000" textLength="431.5" lengthAdjust="spacing">Expected Concentration (Log10)</text>
<text x="738.9" y="973.8" font-size="29.5" font-weight="bold" font-style="normal" text-anchor="middle" fill="#000000" textLength="442" lengthAdjust="spacing" transform="rotate(-90 738.9 973.8)">Co-efficicent of Variation (COV%)</text>
</g>
<g id="panel-d">
<text x="1388.4" y="617.3" font-size="89" font-weight="bold" font-style="normal" text-anchor="start" fill="#231f20">d.</text>
<text x="1508" y="584.6" font-size="36.6" font-weight="bold" font-style="italic" text-anchor="start" fill="#231f20" textLength="513.7" lengthAdjust="spacingAndGlyphs">Impact of sequence coverage</text>
<text x="1508" y="628.6" font-size="36.6" font-weight="bold" font-style="italic" text-anchor="start" fill="#231f20" textLength="220" lengthAdjust="spacingAndGlyphs">on accuracy.</text>
<line x1="1511.9" y1="1107.9" x2="2037" y2="1107.9" stroke="#8c8c8c" stroke-width="2.0" stroke-dasharray="9.2 5.4"/>
<line x1="1557.3" y1="762.2" x2="1557.3" y2="1107.2" stroke="#e34d97" stroke-width="0.9" stroke-opacity="0.5"/>
<path d="M1557.59 859.73 L1557.63 860.13 L1557.68 860.53 L1557.73 860.93 L1557.78 861.33 L1557.83 861.73 L1557.88 862.13 L1557.93 862.53 L1557.98 862.93 L1558.02 863.33 L1558.06 863.73 L1558.09 864.13 L1558.12 864.53 L1558.14 864.93 L1558.15 865.33 L1558.16 865.73 L1558.17 866.13 L1558.18 866.53 L1558.18 866.93 L1558.19 867.33 L1558.2 867.73 L1558.2 868.13 L1558.21 868.53 L1558.21 868.93 L1558.22 869.33 L1558.23 869.73 L1558.23 870.13 L1558.24 870.53 L1558.24 870.93 L1558.25 871.33 L1558.25 871.73 L1558.25 872.13 L1558.26 872.53 L1558.26 872.93 L1558.27 873.33 L1558.27 873.73 L1558.27 874.13 L1558.28 874.53 L1558.28 874.93 L1558.29 875.33 L1558.29 875.73 L1558.29 876.13 L1558.29 876.53 L1558.3 876.93 L1558.3 877.33 L1558.3 877.73 L1558.31 878.13 L1558.31 878.53 L1558.31 878.93 L1558.31 879.33 L1558.32 879.73 L1558.32 880.13 L1558.32 880.53 L1558.32 880.93 L1558.32 881.33 L1558.33 881.73 L1558.33 882.13 L1558.33 882.53 L1558.33 882.93 L1558.33 883.33 L1558.33 883.73 L1558.34 884.13 L1558.34 884.53 L1558.34 884.93 L1558.34 885.33 L1558.34 885.73 L1558.35 886.13 L1558.35 886.53 L1558.35 886.93 L1558.35 887.33 L1558.35 887.73 L1558.35 888.13 L1558.36 888.53 L1558.36 888.93 L1558.36 889.33 L1558.36 889.73 L1558.36 890.13 L1558.37 890.53 L1558.37 890.93 L1558.37 891.33 L1558.37 891.73 L1558.38 892.13 L1558.38 892.53 L1558.38 892.93 L1558.38 893.33 L1558.39 893.73 L1558.39 894.13 L1558.39 894.53 L1558.39 894.93 L1558.4 895.33 L1558.4 895.73 L1558.4 896.13 L1558.41 896.53 L1558.41 896.93 L1558.42 897.33 L1558.42 897.73 L1558.42 898.13 L1558.43 898.53 L1558.43 898.93 L1558.44 899.33 L1558.44 899.73 L1558.45 900.13 L1558.45 900.53 L1558.46 900.93 L1558.46 901.33 L1558.46 901.73 L1558.47 902.13 L1558.47 902.53 L1558.48 902.93 L1558.48 903.33 L1558.49 903.73 L1558.49 904.13 L1558.5 904.53 L1558.5 904.93 L1558.5 905.33 L1558.51 905.73 L1558.51 906.13 L1558.52 906.53 L1558.52 906.93 L1558.53 907.33 L1558.53 907.73 L1558.53 908.13 L1558.54 908.53 L1558.54 908.93 L1558.55 909.33 L1558.55 909.73 L1558.56 910.13 L1558.56 910.53 L1558.57 910.93 L1558.57 911.33 L1558.58 911.73 L1558.58 912.13 L1558.59 912.53 L1558.59 912.93 L1558.6 913.33 L1558.6 913.73 L1558.61 914.13 L1558.61 914.53 L1558.62 914.93 L1558.62 915.33 L1558.63 915.73 L1558.63 916.13 L1558.64 916.53 L1558.64 916.93 L1558.65 917.33 L1558.66 917.73 L1558.66 918.13 L1558.67 918.53 L1558.68 918.93 L1558.68 919.33 L1558.69 919.73 L1558.7 920.13 L1558.7 920.53 L1558.71 920.93 L1558.72 921.33 L1558.73 921.73 L1558.73 922.13 L1558.74 922.53 L1558.75 922.93 L1558.76 923.33 L1558.77 923.73 L1558.78 924.13 L1558.78 924.53 L1558.79 924.93 L1558.8 925.33 L1558.81 925.73 L1558.82 926.13 L1558.83 926.53 L1558.84 926.93 L1558.85 927.33 L1558.86 927.73 L1558.87 928.13 L1558.88 928.53 L1558.9 928.93 L1558.91 929.33 L1558.92 929.73 L1558.93 930.13 L1558.94 930.53 L1558.96 930.93 L1558.97 931.33 L1558.98 931.73 L1559 932.13 L1559.01 932.53 L1559.02 932.93 L1559.04 933.33 L1559.05 933.73 L1559.07 934.13 L1559.08 934.53 L1559.1 934.93 L1559.11 935.33 L1559.13 935.73 L1559.14 936.13 L1559.16 936.53 L1559.18 936.93 L1559.19 937.33 L1559.21 937.73 L1559.23 938.13 L1559.25 938.53 L1559.27 938.93 L1559.29 939.33 L1559.31 939.73 L1559.34 940.13 L1559.39 940.53 L1559.45 940.93 L1559.53 941.33 L1559.62 941.73 L1559.72 942.13 L1559.84 942.53 L1559.96 942.93 L1560.09 943.33 L1560.23 943.73 L1560.37 944.13 L1560.53 944.53 L1560.68 944.93 L1560.84 945.33 L1561.01 945.73 L1561.17 946.13 L1561.34 946.53 L1561.51 946.93 L1561.67 947.33 L1561.84 947.73 L1562 948.13 L1562.16 948.53 L1562.32 948.93 L1562.47 949.33 L1562.61 949.73 L1562.75 950.13 L1562.88 950.53 L1563 950.93 L1563.11 951.33 L1563.23 951.73 L1563.35 952.13 L1563.47 952.53 L1563.59 952.93 L1563.72 953.33 L1563.84 953.73 L1563.97 954.13 L1564.1 954.53 L1564.23 954.93 L1564.35 955.33 L1564.48 955.73 L1564.61 956.13 L1564.74 956.53 L1564.87 956.93 L1564.99 957.33 L1565.12 957.73 L1565.24 958.13 L1565.37 958.53 L1565.49 958.93 L1565.61 959.33 L1565.72 959.73 L1565.84 960.13 L1565.95 960.53 L1566.06 960.93 L1566.16 961.33 L1566.27 961.73 L1566.37 962.13 L1566.46 962.53 L1566.55 962.93 L1566.64 963.33 L1566.72 963.73 L1566.8 964.13 L1566.88 964.53 L1566.94 964.93 L1567.01 965.33 L1567.06 965.73 L1567.12 966.13 L1567.16 966.53 L1567.2 966.93 L1567.23 967.33 L1567.26 967.73 L1567.28 968.13 L1567.3 968.53 L1567.31 968.93 L1567.33 969.33 L1567.34 969.73 L1567.35 970.13 L1567.36 970.53 L1567.37 970.93 L1567.38 971.33 L1567.39 971.73 L1567.4 972.13 L1567.41 972.53 L1567.42 972.93 L1567.42 973.33 L1567.43 973.73 L1567.44 974.13 L1567.45 974.53 L1567.45 974.93 L1567.46 975.33 L1567.47 975.73 L1567.48 976.13 L1567.48 976.53 L1567.49 976.93 L1567.5 977.33 L1567.51 977.73 L1567.52 978.13 L1567.53 978.53 L1567.54 978.93 L1567.56 979.33 L1567.57 979.73 L1567.59 980.13 L1567.6 980.53 L1567.62 980.93 L1567.63 981.33 L1567.65 981.73 L1567.67 982.13 L1567.69 982.53 L1567.71 982.93 L1567.73 983.33 L1567.75 983.73 L1567.78 984.13 L1567.8 984.53 L1567.83 984.93 L1567.86 985.33 L1567.9 985.73 L1567.95 986.13 L1568 986.53 L1568.07 986.93 L1568.13 987.33 L1568.21 987.73 L1568.29 988.13 L1568.38 988.53 L1568.47 988.93 L1568.57 989.33 L1568.66 989.73 L1568.77 990.13 L1568.87 990.53 L1568.98 990.93 L1569.09 991.33 L1569.2 991.73 L1569.31 992.13 L1569.42 992.53 L1569.53 992.93 L1569.64 993.33 L1569.75 993.73 L1569.85 994.13 L1569.95 994.53 L1570.05 994.93 L1570.15 995.33 L1570.24 995.73 L1570.33 996.13 L1570.41 996.53 L1570.49 996.93 L1570.57 997.33 L1570.65 997.73 L1570.73 998.13 L1570.82 998.53 L1570.91 998.93 L1570.99 999.33 L1571.08 999.73 L1571.17 1000.13 L1571.26 1000.53 L1571.35 1000.93 L1571.44 1001.33 L1571.53 1001.73 L1571.62 1002.13 L1571.72 1002.53 L1571.81 1002.93 L1571.9 1003.33 L1571.98 1003.73 L1572.07 1004.13 L1572.16 1004.53 L1572.25 1004.93 L1572.33 1005.33 L1572.41 1005.73 L1572.5 1006.13 L1572.58 1006.53 L1572.65 1006.93 L1572.73 1007.33 L1572.8 1007.73 L1572.87 1008.13 L1572.94 1008.53 L1573.01 1008.93 L1573.07 1009.33 L1573.13 1009.73 L1573.18 1010.13 L1573.24 1010.53 L1573.29 1010.93 L1573.33 1011.33 L1573.37 1011.73 L1573.41 1012.13 L1573.45 1012.53 L1573.47 1012.93 L1573.5 1013.33 L1573.52 1013.73 L1573.53 1014.13 L1573.54 1014.53 L1573.55 1014.93 L1573.55 1015.33 L1573.54 1015.73 L1573.52 1016.13 L1573.5 1016.53 L1573.47 1016.93 L1573.44 1017.33 L1573.4 1017.73 L1573.35 1018.13 L1573.3 1018.53 L1573.25 1018.93 L1573.19 1019.33 L1573.12 1019.73 L1573.06 1020.13 L1572.99 1020.53 L1572.92 1020.93 L1572.84 1021.33 L1572.77 1021.73 L1572.69 1022.13 L1572.61 1022.53 L1572.53 1022.93 L1572.46 1023.33 L1572.38 1023.73 L1572.3 1024.13 L1572.22 1024.53 L1572.15 1024.93 L1572.07 1025.33 L1571.99 1025.73 L1571.91 1026.13 L1571.83 1026.53 L1571.73 1026.93 L1571.64 1027.33 L1571.54 1027.73 L1571.44 1028.13 L1571.34 1028.53 L1571.23 1028.93 L1571.12 1029.33 L1571.01 1029.73 L1570.9 1030.13 L1570.78 1030.53 L1570.66 1030.93 L1570.54 1031.33 L1570.42 1031.73 L1570.3 1032.13 L1570.17 1032.53 L1570.05 1032.93 L1569.92 1033.33 L1569.8 1033.73 L1569.67 1034.13 L1569.54 1034.53 L1569.41 1034.93 L1569.28 1035.33 L1569.16 1035.73 L1569.03 1036.13 L1568.9 1036.53 L1568.78 1036.93 L1568.65 1037.33 L1568.53 1037.73 L1568.4 1038.13 L1568.28 1038.53 L1568.16 1038.93 L1568.05 1039.33 L1567.93 1039.73 L1567.82 1040.13 L1567.71 1040.53 L1567.6 1040.93 L1567.49 1041.33 L1567.39 1041.73 L1567.29 1042.13 L1567.19 1042.53 L1567.09 1042.93 L1567 1043.33 L1566.91 1043.73 L1566.82 1044.13 L1566.73 1044.53 L1566.64 1044.93 L1566.55 1045.33 L1566.47 1045.73 L1566.38 1046.13 L1566.3 1046.53 L1566.22 1046.93 L1566.14 1047.33 L1566.06 1047.73 L1565.98 1048.13 L1565.9 1048.53 L1565.82 1048.93 L1565.74 1049.33 L1565.66 1049.73 L1565.58 1050.13 L1565.5 1050.53 L1565.42 1050.93 L1565.34 1051.33 L1565.26 1051.73 L1565.18 1052.13 L1565.1 1052.53 L1565.02 1052.93 L1564.94 1053.33 L1564.86 1053.73 L1564.77 1054.13 L1564.69 1054.53 L1564.6 1054.93 L1564.52 1055.33 L1564.43 1055.73 L1564.34 1056.13 L1564.25 1056.53 L1564.15 1056.93 L1564.06 1057.33 L1563.96 1057.73 L1563.86 1058.13 L1563.76 1058.53 L1563.66 1058.93 L1563.56 1059.33 L1563.45 1059.73 L1563.33 1060.13 L1563.2 1060.53 L1563.07 1060.93 L1562.94 1061.33 L1562.79 1061.73 L1562.65 1062.13 L1562.5 1062.53 L1562.35 1062.93 L1562.2 1063.33 L1562.04 1063.73 L1561.89 1064.13 L1561.73 1064.53 L1561.58 1064.93 L1561.43 1065.33 L1561.28 1065.73 L1561.13 1066.13 L1560.98 1066.53 L1560.84 1066.93 L1560.71 1067.33 L1560.58 1067.73 L1560.46 1068.13 L1560.34 1068.53 L1560.23 1068.93 L1560.13 1069.33 L1560.04 1069.73 L1559.96 1070.13 L1559.89 1070.53 L1559.83 1070.93 L1559.77 1071.33 L1559.71 1071.73 L1559.66 1072.13 L1559.6 1072.53 L1559.55 1072.93 L1559.5 1073.33 L1559.45 1073.73 L1559.41 1074.13 L1559.36 1074.53 L1559.32 1074.93 L1559.28 1075.33 L1559.24 1075.73 L1559.2 1076.13 L1559.16 1076.53 L1559.12 1076.93 L1559.09 1077.33 L1559.05 1077.73 L1559.02 1078.13 L1558.98 1078.53 L1558.95 1078.93 L1558.92 1079.33 L1558.89 1079.73 L1558.86 1080.13 L1558.83 1080.53 L1558.8 1080.93 L1558.78 1081.33 L1558.75 1081.73 L1558.72 1082.13 L1558.7 1082.53 L1558.67 1082.93 L1558.65 1083.33 L1558.63 1083.73 L1558.61 1084.13 L1558.59 1084.53 L1558.58 1084.93 L1558.56 1085.33 L1558.55 1085.73 L1558.53 1086.13 L1558.52 1086.53 L1558.5 1086.93 L1558.49 1087.33 L1558.48 1087.73 L1558.46 1088.13 L1558.45 1088.53 L1558.43 1088.93 L1558.41 1089.33 L1558.4 1089.73 L1558.38 1090.13 L1558.36 1090.53 L1558.34 1090.93 L1558.31 1091.33 L1558.29 1091.73 L1558.26 1092.13 L1558.23 1092.53 L1558.2 1092.93 L1558.17 1093.33 L1558.13 1093.73 L1558.07 1094.13 L1558 1094.53 L1557.92 1094.93 L1557.83 1095.33 L1557.74 1095.73 L1557.64 1096.13 L1557.54 1096.53 L1557.06 1096.53 L1556.96 1096.13 L1556.86 1095.73 L1556.77 1095.33 L1556.68 1094.93 L1556.6 1094.53 L1556.53 1094.13 L1556.47 1093.73 L1556.43 1093.33 L1556.4 1092.93 L1556.37 1092.53 L1556.34 1092.13 L1556.31 1091.73 L1556.29 1091.33 L1556.26 1090.93 L1556.24 1090.53 L1556.22 1090.13 L1556.2 1089.73 L1556.19 1089.33 L1556.17 1088.93 L1556.15 1088.53 L1556.14 1088.13 L1556.12 1087.73 L1556.11 1087.33 L1556.1 1086.93 L1556.08 1086.53 L1556.07 1086.13 L1556.05 1085.73 L1556.04 1085.33 L1556.02 1084.93 L1556.01 1084.53 L1555.99 1084.13 L1555.97 1083.73 L1555.95 1083.33 L1555.93 1082.93 L1555.9 1082.53 L1555.88 1082.13 L1555.85 1081.73 L1555.82 1081.33 L1555.8 1080.93 L1555.77 1080.53 L1555.74 1080.13 L1555.71 1079.73 L1555.68 1079.33 L1555.65 1078.93 L1555.62 1078.53 L1555.58 1078.13 L1555.55 1077.73 L1555.51 1077.33 L1555.48 1076.93 L1555.44 1076.53 L1555.4 1076.13 L1555.36 1075.73 L1555.32 1075.33 L1555.28 1074.93 L1555.24 1074.53 L1555.19 1074.13 L1555.15 1073.73 L1555.1 1073.33 L1555.05 1072.93 L1555 1072.53 L1554.94 1072.13 L1554.89 1071.73 L1554.83 1071.33 L1554.77 1070.93 L1554.71 1070.53 L1554.64 1070.13 L1554.56 1069.73 L1554.47 1069.33 L1554.37 1068.93 L1554.26 1068.53 L1554.14 1068.13 L1554.02 1067.73 L1553.89 1067.33 L1553.76 1066.93 L1553.62 1066.53 L1553.47 1066.13 L1553.32 1065.73 L1553.17 1065.33 L1553.02 1064.93 L1552.87 1064.53 L1552.71 1064.13 L1552.56 1063.73 L1552.4 1063.33 L1552.25 1062.93 L1552.1 1062.53 L1551.95 1062.13 L1551.81 1061.73 L1551.66 1061.33 L1551.53 1060.93 L1551.4 1060.53 L1551.27 1060.13 L1551.15 1059.73 L1551.04 1059.33 L1550.94 1058.93 L1550.84 1058.53 L1550.74 1058.13 L1550.64 1057.73 L1550.54 1057.33 L1550.45 1056.93 L1550.35 1056.53 L1550.26 1056.13 L1550.17 1055.73 L1550.08 1055.33 L1550 1054.93 L1549.91 1054.53 L1549.83 1054.13 L1549.74 1053.73 L1549.66 1053.33 L1549.58 1052.93 L1549.5 1052.53 L1549.42 1052.13 L1549.34 1051.73 L1549.26 1051.33 L1549.18 1050.93 L1549.1 1050.53 L1549.02 1050.13 L1548.94 1049.73 L1548.86 1049.33 L1548.78 1048.93 L1548.7 1048.53 L1548.62 1048.13 L1548.54 1047.73 L1548.46 1047.33 L1548.38 1046.93 L1548.3 1046.53 L1548.22 1046.13 L1548.13 1045.73 L1548.05 1045.33 L1547.96 1044.93 L1547.87 1044.53 L1547.78 1044.13 L1547.69 1043.73 L1547.6 1043.33 L1547.51 1042.93 L1547.41 1042.53 L1547.31 1042.13 L1547.21 1041.73 L1547.11 1041.33 L1547 1040.93 L1546.89 1040.53 L1546.78 1040.13 L1546.67 1039.73 L1546.55 1039.33 L1546.44 1038.93 L1546.32 1038.53 L1546.2 1038.13 L1546.07 1037.73 L1545.95 1037.33 L1545.82 1036.93 L1545.7 1036.53 L1545.57 1036.13 L1545.44 1035.73 L1545.32 1035.33 L1545.19 1034.93 L1545.06 1034.53 L1544.93 1034.13 L1544.8 1033.73 L1544.68 1033.33 L1544.55 1032.93 L1544.43 1032.53 L1544.3 1032.13 L1544.18 1031.73 L1544.06 1031.33 L1543.94 1030.93 L1543.82 1030.53 L1543.7 1030.13 L1543.59 1029.73 L1543.48 1029.33 L1543.37 1028.93 L1543.26 1028.53 L1543.16 1028.13 L1543.06 1027.73 L1542.96 1027.33 L1542.87 1026.93 L1542.77 1026.53 L1542.69 1026.13 L1542.61 1025.73 L1542.53 1025.33 L1542.45 1024.93 L1542.38 1024.53 L1542.3 1024.13 L1542.22 1023.73 L1542.14 1023.33 L1542.07 1022.93 L1541.99 1022.53 L1541.91 1022.13 L1541.83 1021.73 L1541.76 1021.33 L1541.68 1020.93 L1541.61 1020.53 L1541.54 1020.13 L1541.48 1019.73 L1541.41 1019.33 L1541.35 1018.93 L1541.3 1018.53 L1541.25 1018.13 L1541.2 1017.73 L1541.16 1017.33 L1541.13 1016.93 L1541.1 1016.53 L1541.08 1016.13 L1541.06 1015.73 L1541.05 1015.33 L1541.05 1014.93 L1541.06 1014.53 L1541.07 1014.13 L1541.08 1013.73 L1541.1 1013.33 L1541.13 1012.93 L1541.15 1012.53 L1541.19 1012.13 L1541.23 1011.73 L1541.27 1011.33 L1541.31 1010.93 L1541.36 1010.53 L1541.42 1010.13 L1541.47 1009.73 L1541.53 1009.33 L1541.59 1008.93 L1541.66 1008.53 L1541.73 1008.13 L1541.8 1007.73 L1541.87 1007.33 L1541.95 1006.93 L1542.02 1006.53 L1542.1 1006.13 L1542.19 1005.73 L1542.27 1005.33 L1542.35 1004.93 L1542.44 1004.53 L1542.53 1004.13 L1542.62 1003.73 L1542.7 1003.33 L1542.79 1002.93 L1542.88 1002.53 L1542.98 1002.13 L1543.07 1001.73 L1543.16 1001.33 L1543.25 1000.93 L1543.34 1000.53 L1543.43 1000.13 L1543.52 999.73 L1543.61 999.33 L1543.69 998.93 L1543.78 998.53 L1543.87 998.13 L1543.95 997.73 L1544.03 997.33 L1544.11 996.93 L1544.19 996.53 L1544.27 996.13 L1544.36 995.73 L1544.45 995.33 L1544.55 994.93 L1544.65 994.53 L1544.75 994.13 L1544.85 993.73 L1544.96 993.33 L1545.07 992.93 L1545.18 992.53 L1545.29 992.13 L1545.4 991.73 L1545.51 991.33 L1545.62 990.93 L1545.73 990.53 L1545.83 990.13 L1545.94 989.73 L1546.03 989.33 L1546.13 988.93 L1546.22 988.53 L1546.31 988.13 L1546.39 987.73 L1546.47 987.33 L1546.53 986.93 L1546.6 986.53 L1546.65 986.13 L1546.7 985.73 L1546.74 985.33 L1546.77 984.93 L1546.8 984.53 L1546.82 984.13 L1546.85 983.73 L1546.87 983.33 L1546.89 982.93 L1546.91 982.53 L1546.93 982.13 L1546.95 981.73 L1546.97 981.33 L1546.98 980.93 L1547 980.53 L1547.01 980.13 L1547.03 979.73 L1547.04 979.33 L1547.06 978.93 L1547.07 978.53 L1547.08 978.13 L1547.09 977.73 L1547.1 977.33 L1547.11 976.93 L1547.12 976.53 L1547.12 976.13 L1547.13 975.73 L1547.14 975.33 L1547.15 974.93 L1547.15 974.53 L1547.16 974.13 L1547.17 973.73 L1547.18 973.33 L1547.18 972.93 L1547.19 972.53 L1547.2 972.13 L1547.21 971.73 L1547.22 971.33 L1547.23 970.93 L1547.24 970.53 L1547.25 970.13 L1547.26 969.73 L1547.27 969.33 L1547.29 968.93 L1547.3 968.53 L1547.32 968.13 L1547.34 967.73 L1547.37 967.33 L1547.4 966.93 L1547.44 966.53 L1547.48 966.13 L1547.54 965.73 L1547.59 965.33 L1547.66 964.93 L1547.72 964.53 L1547.8 964.13 L1547.88 963.73 L1547.96 963.33 L1548.05 962.93 L1548.14 962.53 L1548.23 962.13 L1548.33 961.73 L1548.44 961.33 L1548.54 960.93 L1548.65 960.53 L1548.76 960.13 L1548.88 959.73 L1548.99 959.33 L1549.11 958.93 L1549.23 958.53 L1549.36 958.13 L1549.48 957.73 L1549.61 957.33 L1549.73 956.93 L1549.86 956.53 L1549.99 956.13 L1550.12 955.73 L1550.25 955.33 L1550.37 954.93 L1550.5 954.53 L1550.63 954.13 L1550.76 953.73 L1550.88 953.33 L1551.01 952.93 L1551.13 952.53 L1551.25 952.13 L1551.37 951.73 L1551.49 951.33 L1551.6 950.93 L1551.72 950.53 L1551.85 950.13 L1551.99 949.73 L1552.13 949.33 L1552.28 948.93 L1552.44 948.53 L1552.6 948.13 L1552.76 947.73 L1552.93 947.33 L1553.09 946.93 L1553.26 946.53 L1553.43 946.13 L1553.59 945.73 L1553.76 945.33 L1553.92 944.93 L1554.07 944.53 L1554.23 944.13 L1554.37 943.73 L1554.51 943.33 L1554.64 942.93 L1554.76 942.53 L1554.88 942.13 L1554.98 941.73 L1555.07 941.33 L1555.15 940.93 L1555.21 940.53 L1555.26 940.13 L1555.29 939.73 L1555.31 939.33 L1555.33 938.93 L1555.35 938.53 L1555.37 938.13 L1555.39 937.73 L1555.41 937.33 L1555.42 936.93 L1555.44 936.53 L1555.46 936.13 L1555.47 935.73 L1555.49 935.33 L1555.5 934.93 L1555.52 934.53 L1555.53 934.13 L1555.55 933.73 L1555.56 933.33 L1555.58 932.93 L1555.59 932.53 L1555.6 932.13 L1555.62 931.73 L1555.63 931.33 L1555.64 930.93 L1555.66 930.53 L1555.67 930.13 L1555.68 929.73 L1555.69 929.33 L1555.7 928.93 L1555.72 928.53 L1555.73 928.13 L1555.74 927.73 L1555.75 927.33 L1555.76 926.93 L1555.77 926.53 L1555.78 926.13 L1555.79 925.73 L1555.8 925.33 L1555.81 924.93 L1555.82 924.53 L1555.82 924.13 L1555.83 923.73 L1555.84 923.33 L1555.85 922.93 L1555.86 922.53 L1555.87 922.13 L1555.87 921.73 L1555.88 921.33 L1555.89 920.93 L1555.9 920.53 L1555.9 920.13 L1555.91 919.73 L1555.92 919.33 L1555.92 918.93 L1555.93 918.53 L1555.94 918.13 L1555.94 917.73 L1555.95 917.33 L1555.96 916.93 L1555.96 916.53 L1555.97 916.13 L1555.97 915.73 L1555.98 915.33 L1555.98 914.93 L1555.99 914.53 L1555.99 914.13 L1556 913.73 L1556 913.33 L1556.01 912.93 L1556.01 912.53 L1556.02 912.13 L1556.02 911.73 L1556.03 911.33 L1556.03 910.93 L1556.04 910.53 L1556.04 910.13 L1556.05 909.73 L1556.05 909.33 L1556.06 908.93 L1556.06 908.53 L1556.07 908.13 L1556.07 907.73 L1556.07 907.33 L1556.08 906.93 L1556.08 906.53 L1556.09 906.13 L1556.09 905.73 L1556.1 905.33 L1556.1 904.93 L1556.1 904.53 L1556.11 904.13 L1556.11 903.73 L1556.12 903.33 L1556.12 902.93 L1556.13 902.53 L1556.13 902.13 L1556.14 901.73 L1556.14 901.33 L1556.14 900.93 L1556.15 900.53 L1556.15 900.13 L1556.16 899.73 L1556.16 899.33 L1556.17 898.93 L1556.17 898.53 L1556.18 898.13 L1556.18 897.73 L1556.18 897.33 L1556.19 896.93 L1556.19 896.53 L1556.2 896.13 L1556.2 895.73 L1556.2 895.33 L1556.21 894.93 L1556.21 894.53 L1556.21 894.13 L1556.21 893.73 L1556.22 893.33 L1556.22 892.93 L1556.22 892.53 L1556.22 892.13 L1556.23 891.73 L1556.23 891.33 L1556.23 890.93 L1556.23 890.53 L1556.24 890.13 L1556.24 889.73 L1556.24 889.33 L1556.24 888.93 L1556.24 888.53 L1556.25 888.13 L1556.25 887.73 L1556.25 887.33 L1556.25 886.93 L1556.25 886.53 L1556.25 886.13 L1556.26 885.73 L1556.26 885.33 L1556.26 884.93 L1556.26 884.53 L1556.26 884.13 L1556.27 883.73 L1556.27 883.33 L1556.27 882.93 L1556.27 882.53 L1556.27 882.13 L1556.27 881.73 L1556.28 881.33 L1556.28 880.93 L1556.28 880.53 L1556.28 880.13 L1556.28 879.73 L1556.29 879.33 L1556.29 878.93 L1556.29 878.53 L1556.29 878.13 L1556.3 877.73 L1556.3 877.33 L1556.3 876.93 L1556.31 876.53 L1556.31 876.13 L1556.31 875.73 L1556.31 875.33 L1556.32 874.93 L1556.32 874.53 L1556.33 874.13 L1556.33 873.73 L1556.33 873.33 L1556.34 872.93 L1556.34 872.53 L1556.35 872.13 L1556.35 871.73 L1556.35 871.33 L1556.36 870.93 L1556.36 870.53 L1556.37 870.13 L1556.37 869.73 L1556.38 869.33 L1556.39 868.93 L1556.39 868.53 L1556.4 868.13 L1556.4 867.73 L1556.41 867.33 L1556.42 866.93 L1556.42 866.53 L1556.43 866.13 L1556.44 865.73 L1556.45 865.33 L1556.46 864.93 L1556.48 864.53 L1556.51 864.13 L1556.54 863.73 L1556.58 863.33 L1556.62 862.93 L1556.67 862.53 L1556.72 862.13 L1556.77 861.73 L1556.82 861.33 L1556.87 860.93 L1556.92 860.53 L1556.97 860.13 L1557.01 859.73Z" fill="#e34d97" stroke="none" stroke-width="0" stroke-linejoin="round"/>
<line x1="1613.5" y1="769.4" x2="1613.5" y2="1107.2" stroke="#6c56a8" stroke-width="0.9" stroke-opacity="0.5"/>
<path d="M1613.79 831.22 L1613.84 831.62 L1613.9 832.02 L1613.96 832.42 L1614.01 832.82 L1614.07 833.22 L1614.12 833.62 L1614.18 834.02 L1614.23 834.42 L1614.28 834.82 L1614.33 835.22 L1614.38 835.62 L1614.43 836.02 L1614.47 836.42 L1614.51 836.82 L1614.55 837.22 L1614.58 837.62 L1614.62 838.02 L1614.65 838.42 L1614.67 838.82 L1614.7 839.22 L1614.73 839.62 L1614.76 840.02 L1614.78 840.42 L1614.81 840.82 L1614.84 841.22 L1614.86 841.62 L1614.89 842.02 L1614.92 842.42 L1614.94 842.82 L1614.97 843.22 L1614.99 843.62 L1615.01 844.02 L1615.04 844.42 L1615.06 844.82 L1615.08 845.22 L1615.1 845.62 L1615.13 846.02 L1615.15 846.42 L1615.16 846.82 L1615.18 847.22 L1615.2 847.62 L1615.22 848.02 L1615.23 848.42 L1615.25 848.82 L1615.26 849.22 L1615.28 849.62 L1615.29 850.02 L1615.3 850.42 L1615.31 850.82 L1615.32 851.22 L1615.33 851.62 L1615.34 852.02 L1615.34 852.42 L1615.35 852.82 L1615.35 853.22 L1615.35 853.62 L1615.35 854.02 L1615.35 854.42 L1615.35 854.82 L1615.35 855.22 L1615.35 855.62 L1615.34 856.02 L1615.34 856.42 L1615.33 856.82 L1615.33 857.22 L1615.32 857.62 L1615.31 858.02 L1615.3 858.42 L1615.3 858.82 L1615.29 859.22 L1615.28 859.62 L1615.27 860.02 L1615.26 860.42 L1615.24 860.82 L1615.23 861.22 L1615.22 861.62 L1615.21 862.02 L1615.2 862.42 L1615.18 862.82 L1615.17 863.22 L1615.16 863.62 L1615.15 864.02 L1615.13 864.42 L1615.12 864.82 L1615.11 865.22 L1615.09 865.62 L1615.08 866.02 L1615.07 866.42 L1615.05 866.82 L1615.04 867.22 L1615.03 867.62 L1615.01 868.02 L1615 868.42 L1614.99 868.82 L1614.98 869.22 L1614.97 869.62 L1614.95 870.02 L1614.94 870.42 L1614.93 870.82 L1614.92 871.22 L1614.91 871.62 L1614.9 872.02 L1614.89 872.42 L1614.88 872.82 L1614.87 873.22 L1614.85 873.62 L1614.84 874.02 L1614.83 874.42 L1614.81 874.82 L1614.8 875.22 L1614.79 875.62 L1614.77 876.02 L1614.76 876.42 L1614.75 876.82 L1614.74 877.22 L1614.72 877.62 L1614.71 878.02 L1614.7 878.42 L1614.69 878.82 L1614.68 879.22 L1614.67 879.62 L1614.66 880.02 L1614.66 880.42 L1614.65 880.82 L1614.65 881.22 L1614.64 881.62 L1614.64 882.02 L1614.64 882.42 L1614.64 882.82 L1614.64 883.22 L1614.64 883.62 L1614.64 884.02 L1614.64 884.42 L1614.64 884.82 L1614.64 885.22 L1614.64 885.62 L1614.64 886.02 L1614.64 886.42 L1614.65 886.82 L1614.65 887.22 L1614.65 887.62 L1614.65 888.02 L1614.65 888.42 L1614.65 888.82 L1614.65 889.22 L1614.65 889.62 L1614.66 890.02 L1614.66 890.42 L1614.66 890.82 L1614.66 891.22 L1614.66 891.62 L1614.67 892.02 L1614.67 892.42 L1614.67 892.82 L1614.67 893.22 L1614.68 893.62 L1614.68 894.02 L1614.68 894.42 L1614.69 894.82 L1614.69 895.22 L1614.69 895.62 L1614.7 896.02 L1614.7 896.42 L1614.7 896.82 L1614.71 897.22 L1614.71 897.62 L1614.72 898.02 L1614.72 898.42 L1614.72 898.82 L1614.73 899.22 L1614.73 899.62 L1614.74 900.02 L1614.74 900.42 L1614.75 900.82 L1614.75 901.22 L1614.76 901.62 L1614.76 902.02 L1614.77 902.42 L1614.77 902.82 L1614.78 903.22 L1614.79 903.62 L1614.79 904.02 L1614.8 904.42 L1614.81 904.82 L1614.81 905.22 L1614.82 905.62 L1614.83 906.02 L1614.83 906.42 L1614.84 906.82 L1614.85 907.22 L1614.85 907.62 L1614.86 908.02 L1614.87 908.42 L1614.88 908.82 L1614.89 909.22 L1614.89 909.62 L1614.9 910.02 L1614.91 910.42 L1614.92 910.82 L1614.93 911.22 L1614.95 911.62 L1614.98 912.02 L1615.01 912.42 L1615.06 912.82 L1615.11 913.22 L1615.17 913.62 L1615.23 914.02 L1615.3 914.42 L1615.37 914.82 L1615.45 915.22 L1615.53 915.62 L1615.61 916.02 L1615.7 916.42 L1615.79 916.82 L1615.87 917.22 L1615.96 917.62 L1616.04 918.02 L1616.12 918.42 L1616.21 918.82 L1616.28 919.22 L1616.36 919.62 L1616.43 920.02 L1616.51 920.42 L1616.58 920.82 L1616.66 921.22 L1616.75 921.62 L1616.83 922.02 L1616.92 922.42 L1617 922.82 L1617.09 923.22 L1617.18 923.62 L1617.27 924.02 L1617.37 924.42 L1617.46 924.82 L1617.56 925.22 L1617.65 925.62 L1617.75 926.02 L1617.84 926.42 L1617.94 926.82 L1618.04 927.22 L1618.13 927.62 L1618.23 928.02 L1618.32 928.42 L1618.42 928.82 L1618.52 929.22 L1618.61 929.62 L1618.7 930.02 L1618.8 930.42 L1618.89 930.82 L1618.98 931.22 L1619.07 931.62 L1619.15 932.02 L1619.24 932.42 L1619.32 932.82 L1619.41 933.22 L1619.49 933.62 L1619.56 934.02 L1619.64 934.42 L1619.71 934.82 L1619.78 935.22 L1619.85 935.62 L1619.92 936.02 L1619.98 936.42 L1620.04 936.82 L1620.09 937.22 L1620.14 937.62 L1620.19 938.02 L1620.24 938.42 L1620.28 938.82 L1620.31 939.22 L1620.35 939.62 L1620.38 940.02 L1620.41 940.42 L1620.43 940.82 L1620.46 941.22 L1620.48 941.62 L1620.51 942.02 L1620.53 942.42 L1620.55 942.82 L1620.57 943.22 L1620.59 943.62 L1620.61 944.02 L1620.62 944.42 L1620.64 944.82 L1620.66 945.22 L1620.67 945.62 L1620.69 946.02 L1620.7 946.42 L1620.72 946.82 L1620.73 947.22 L1620.74 947.62 L1620.76 948.02 L1620.77 948.42 L1620.78 948.82 L1620.8 949.22 L1620.81 949.62 L1620.83 950.02 L1620.84 950.42 L1620.86 950.82 L1620.87 951.22 L1620.89 951.62 L1620.91 952.02 L1620.93 952.42 L1620.95 952.82 L1620.97 953.22 L1620.99 953.62 L1621.01 954.02 L1621.04 954.42 L1621.06 954.82 L1621.09 955.22 L1621.12 955.62 L1621.15 956.02 L1621.18 956.42 L1621.21 956.82 L1621.25 957.22 L1621.29 957.62 L1621.34 958.02 L1621.4 958.42 L1621.46 958.82 L1621.52 959.22 L1621.59 959.62 L1621.66 960.02 L1621.74 960.42 L1621.82 960.82 L1621.91 961.22 L1622 961.62 L1622.09 962.02 L1622.19 962.42 L1622.28 962.82 L1622.39 963.22 L1622.49 963.62 L1622.6 964.02 L1622.71 964.42 L1622.82 964.82 L1622.93 965.22 L1623.05 965.62 L1623.16 966.02 L1623.28 966.42 L1623.4 966.82 L1623.52 967.22 L1623.64 967.62 L1623.77 968.02 L1623.89 968.42 L1624.01 968.82 L1624.13 969.22 L1624.26 969.62 L1624.38 970.02 L1624.5 970.42 L1624.62 970.82 L1624.74 971.22 L1624.86 971.62 L1624.98 972.02 L1625.1 972.42 L1625.21 972.82 L1625.32 973.22 L1625.44 973.62 L1625.55 974.02 L1625.67 974.42 L1625.8 974.82 L1625.93 975.22 L1626.08 975.62 L1626.22 976.02 L1626.38 976.42 L1626.53 976.82 L1626.69 977.22 L1626.85 977.62 L1627.01 978.02 L1627.17 978.42 L1627.33 978.82 L1627.48 979.22 L1627.64 979.62 L1627.79 980.02 L1627.93 980.42 L1628.07 980.82 L1628.2 981.22 L1628.32 981.62 L1628.43 982.02 L1628.53 982.42 L1628.63 982.82 L1628.71 983.22 L1628.77 983.62 L1628.83 984.02 L1628.86 984.42 L1628.89 984.82 L1628.89 985.22 L1628.89 985.62 L1628.87 986.02 L1628.85 986.42 L1628.83 986.82 L1628.79 987.22 L1628.76 987.62 L1628.71 988.02 L1628.67 988.42 L1628.62 988.82 L1628.56 989.22 L1628.51 989.62 L1628.45 990.02 L1628.39 990.42 L1628.33 990.82 L1628.27 991.22 L1628.21 991.62 L1628.15 992.02 L1628.09 992.42 L1628.04 992.82 L1627.99 993.22 L1627.94 993.62 L1627.9 994.02 L1627.86 994.42 L1627.82 994.82 L1627.8 995.22 L1627.77 995.62 L1627.76 996.02 L1627.75 996.42 L1627.76 996.82 L1627.77 997.22 L1627.79 997.62 L1627.82 998.02 L1627.86 998.42 L1627.91 998.82 L1627.96 999.22 L1628.02 999.62 L1628.09 1000.02 L1628.17 1000.42 L1628.24 1000.82 L1628.33 1001.22 L1628.41 1001.62 L1628.5 1002.02 L1628.59 1002.42 L1628.69 1002.82 L1628.78 1003.22 L1628.88 1003.62 L1628.97 1004.02 L1629.07 1004.42 L1629.16 1004.82 L1629.26 1005.22 L1629.35 1005.62 L1629.43 1006.02 L1629.52 1006.42 L1629.6 1006.82 L1629.67 1007.22 L1629.74 1007.62 L1629.81 1008.02 L1629.86 1008.42 L1629.91 1008.82 L1629.95 1009.22 L1629.99 1009.62 L1630.01 1010.02 L1630.03 1010.42 L1630.03 1010.82 L1630.03 1011.22 L1630.02 1011.62 L1630 1012.02 L1629.97 1012.42 L1629.93 1012.82 L1629.89 1013.22 L1629.84 1013.62 L1629.79 1014.02 L1629.72 1014.42 L1629.66 1014.82 L1629.59 1015.22 L1629.51 1015.62 L1629.43 1016.02 L1629.34 1016.42 L1629.26 1016.82 L1629.16 1017.22 L1629.07 1017.62 L1628.97 1018.02 L1628.87 1018.42 L1628.77 1018.82 L1628.66 1019.22 L1628.56 1019.62 L1628.45 1020.02 L1628.35 1020.42 L1628.24 1020.82 L1628.13 1021.22 L1628.03 1021.62 L1627.92 1022.02 L1627.82 1022.42 L1627.71 1022.82 L1627.61 1023.22 L1627.52 1023.62 L1627.42 1024.02 L1627.33 1024.42 L1627.24 1024.82 L1627.15 1025.22 L1627.06 1025.62 L1626.97 1026.02 L1626.89 1026.42 L1626.8 1026.82 L1626.71 1027.22 L1626.61 1027.62 L1626.52 1028.02 L1626.43 1028.42 L1626.34 1028.82 L1626.24 1029.22 L1626.15 1029.62 L1626.05 1030.02 L1625.96 1030.42 L1625.86 1030.82 L1625.77 1031.22 L1625.67 1031.62 L1625.57 1032.02 L1625.48 1032.42 L1625.38 1032.82 L1625.28 1033.22 L1625.19 1033.62 L1625.09 1034.02 L1624.99 1034.42 L1624.9 1034.82 L1624.8 1035.22 L1624.7 1035.62 L1624.61 1036.02 L1624.51 1036.42 L1624.42 1036.82 L1624.32 1037.22 L1624.23 1037.62 L1624.13 1038.02 L1624.04 1038.42 L1623.94 1038.82 L1623.85 1039.22 L1623.76 1039.62 L1623.67 1040.02 L1623.58 1040.42 L1623.49 1040.82 L1623.4 1041.22 L1623.31 1041.62 L1623.22 1042.02 L1623.14 1042.42 L1623.05 1042.82 L1622.97 1043.22 L1622.88 1043.62 L1622.79 1044.02 L1622.71 1044.42 L1622.62 1044.82 L1622.54 1045.22 L1622.45 1045.62 L1622.37 1046.02 L1622.28 1046.42 L1622.2 1046.82 L1622.11 1047.22 L1622.03 1047.62 L1621.95 1048.02 L1621.86 1048.42 L1621.78 1048.82 L1621.7 1049.22 L1621.61 1049.62 L1621.53 1050.02 L1621.45 1050.42 L1621.37 1050.82 L1621.29 1051.22 L1621.21 1051.62 L1621.13 1052.02 L1621.05 1052.42 L1620.97 1052.82 L1620.89 1053.22 L1620.81 1053.62 L1620.74 1054.02 L1620.66 1054.42 L1620.58 1054.82 L1620.51 1055.22 L1620.43 1055.62 L1620.36 1056.02 L1620.28 1056.42 L1620.21 1056.82 L1620.13 1057.22 L1620.06 1057.62 L1619.99 1058.02 L1619.92 1058.42 L1619.85 1058.82 L1619.78 1059.22 L1619.71 1059.62 L1619.64 1060.02 L1619.58 1060.42 L1619.51 1060.82 L1619.44 1061.22 L1619.38 1061.62 L1619.31 1062.02 L1619.25 1062.42 L1619.19 1062.82 L1619.12 1063.22 L1619.06 1063.62 L1619 1064.02 L1618.94 1064.42 L1618.88 1064.82 L1618.82 1065.22 L1618.76 1065.62 L1618.7 1066.02 L1618.64 1066.42 L1618.58 1066.82 L1618.52 1067.22 L1618.47 1067.62 L1618.41 1068.02 L1618.35 1068.42 L1618.29 1068.82 L1618.24 1069.22 L1618.18 1069.62 L1618.12 1070.02 L1618.06 1070.42 L1618.01 1070.82 L1617.95 1071.22 L1617.9 1071.62 L1617.84 1072.02 L1617.78 1072.42 L1617.73 1072.82 L1617.67 1073.22 L1617.61 1073.62 L1617.56 1074.02 L1617.5 1074.42 L1617.44 1074.82 L1617.38 1075.22 L1617.33 1075.62 L1617.27 1076.02 L1617.21 1076.42 L1617.15 1076.82 L1617.09 1077.22 L1617.04 1077.62 L1616.98 1078.02 L1616.92 1078.42 L1616.86 1078.82 L1616.8 1079.22 L1616.74 1079.62 L1616.67 1080.02 L1616.61 1080.42 L1616.55 1080.82 L1616.49 1081.22 L1616.42 1081.62 L1616.36 1082.02 L1616.29 1082.42 L1616.23 1082.82 L1616.17 1083.22 L1616.1 1083.62 L1616.04 1084.02 L1615.97 1084.42 L1615.9 1084.82 L1615.84 1085.22 L1615.77 1085.62 L1615.71 1086.02 L1615.64 1086.42 L1615.57 1086.82 L1615.5 1087.22 L1615.44 1087.62 L1615.37 1088.02 L1615.3 1088.42 L1615.23 1088.82 L1615.16 1089.22 L1615.09 1089.62 L1615.01 1090.02 L1614.94 1090.42 L1614.87 1090.82 L1614.8 1091.22 L1614.72 1091.62 L1614.65 1092.02 L1614.57 1092.42 L1614.49 1092.82 L1614.41 1093.22 L1614.33 1093.62 L1614.25 1094.02 L1614.17 1094.42 L1614.09 1094.82 L1614 1095.22 L1613.92 1095.62 L1613.83 1096.02 L1613.75 1096.42 L1613.66 1096.82 L1613.34 1096.82 L1613.25 1096.42 L1613.17 1096.02 L1613.08 1095.62 L1613 1095.22 L1612.91 1094.82 L1612.83 1094.42 L1612.75 1094.02 L1612.67 1093.62 L1612.59 1093.22 L1612.51 1092.82 L1612.43 1092.42 L1612.35 1092.02 L1612.28 1091.62 L1612.2 1091.22 L1612.13 1090.82 L1612.06 1090.42 L1611.99 1090.02 L1611.91 1089.62 L1611.84 1089.22 L1611.77 1088.82 L1611.7 1088.42 L1611.63 1088.02 L1611.56 1087.62 L1611.5 1087.22 L1611.43 1086.82 L1611.36 1086.42 L1611.29 1086.02 L1611.23 1085.62 L1611.16 1085.22 L1611.1 1084.82 L1611.03 1084.42 L1610.96 1084.02 L1610.9 1083.62 L1610.83 1083.22 L1610.77 1082.82 L1610.71 1082.42 L1610.64 1082.02 L1610.58 1081.62 L1610.51 1081.22 L1610.45 1080.82 L1610.39 1080.42 L1610.33 1080.02 L1610.26 1079.62 L1610.2 1079.22 L1610.14 1078.82 L1610.08 1078.42 L1610.02 1078.02 L1609.96 1077.62 L1609.91 1077.22 L1609.85 1076.82 L1609.79 1076.42 L1609.73 1076.02 L1609.67 1075.62 L1609.62 1075.22 L1609.56 1074.82 L1609.5 1074.42 L1609.44 1074.02 L1609.39 1073.62 L1609.33 1073.22 L1609.27 1072.82 L1609.22 1072.42 L1609.16 1072.02 L1609.1 1071.62 L1609.05 1071.22 L1608.99 1070.82 L1608.94 1070.42 L1608.88 1070.02 L1608.82 1069.62 L1608.76 1069.22 L1608.71 1068.82 L1608.65 1068.42 L1608.59 1068.02 L1608.53 1067.62 L1608.48 1067.22 L1608.42 1066.82 L1608.36 1066.42 L1608.3 1066.02 L1608.24 1065.62 L1608.18 1065.22 L1608.12 1064.82 L1608.06 1064.42 L1608 1064.02 L1607.94 1063.62 L1607.88 1063.22 L1607.81 1062.82 L1607.75 1062.42 L1607.69 1062.02 L1607.62 1061.62 L1607.56 1061.22 L1607.49 1060.82 L1607.42 1060.42 L1607.36 1060.02 L1607.29 1059.62 L1607.22 1059.22 L1607.15 1058.82 L1607.08 1058.42 L1607.01 1058.02 L1606.94 1057.62 L1606.87 1057.22 L1606.79 1056.82 L1606.72 1056.42 L1606.64 1056.02 L1606.57 1055.62 L1606.49 1055.22 L1606.42 1054.82 L1606.34 1054.42 L1606.26 1054.02 L1606.19 1053.62 L1606.11 1053.22 L1606.03 1052.82 L1605.95 1052.42 L1605.87 1052.02 L1605.79 1051.62 L1605.71 1051.22 L1605.63 1050.82 L1605.55 1050.42 L1605.47 1050.02 L1605.39 1049.62 L1605.3 1049.22 L1605.22 1048.82 L1605.14 1048.42 L1605.05 1048.02 L1604.97 1047.62 L1604.89 1047.22 L1604.8 1046.82 L1604.72 1046.42 L1604.63 1046.02 L1604.55 1045.62 L1604.46 1045.22 L1604.38 1044.82 L1604.29 1044.42 L1604.21 1044.02 L1604.12 1043.62 L1604.03 1043.22 L1603.95 1042.82 L1603.86 1042.42 L1603.78 1042.02 L1603.69 1041.62 L1603.6 1041.22 L1603.51 1040.82 L1603.42 1040.42 L1603.33 1040.02 L1603.24 1039.62 L1603.15 1039.22 L1603.06 1038.82 L1602.96 1038.42 L1602.87 1038.02 L1602.77 1037.62 L1602.68 1037.22 L1602.58 1036.82 L1602.49 1036.42 L1602.39 1036.02 L1602.3 1035.62 L1602.2 1035.22 L1602.1 1034.82 L1602.01 1034.42 L1601.91 1034.02 L1601.81 1033.62 L1601.72 1033.22 L1601.62 1032.82 L1601.52 1032.42 L1601.43 1032.02 L1601.33 1031.62 L1601.23 1031.22 L1601.14 1030.82 L1601.04 1030.42 L1600.95 1030.02 L1600.85 1029.62 L1600.76 1029.22 L1600.66 1028.82 L1600.57 1028.42 L1600.48 1028.02 L1600.39 1027.62 L1600.29 1027.22 L1600.2 1026.82 L1600.11 1026.42 L1600.03 1026.02 L1599.94 1025.62 L1599.85 1025.22 L1599.76 1024.82 L1599.67 1024.42 L1599.58 1024.02 L1599.48 1023.62 L1599.39 1023.22 L1599.29 1022.82 L1599.18 1022.42 L1599.08 1022.02 L1598.97 1021.62 L1598.87 1021.22 L1598.76 1020.82 L1598.65 1020.42 L1598.55 1020.02 L1598.44 1019.62 L1598.34 1019.22 L1598.23 1018.82 L1598.13 1018.42 L1598.03 1018.02 L1597.93 1017.62 L1597.84 1017.22 L1597.74 1016.82 L1597.66 1016.42 L1597.57 1016.02 L1597.49 1015.62 L1597.41 1015.22 L1597.34 1014.82 L1597.28 1014.42 L1597.21 1014.02 L1597.16 1013.62 L1597.11 1013.22 L1597.07 1012.82 L1597.03 1012.42 L1597 1012.02 L1596.98 1011.62 L1596.97 1011.22 L1596.97 1010.82 L1596.97 1010.42 L1596.99 1010.02 L1597.01 1009.62 L1597.05 1009.22 L1597.09 1008.82 L1597.14 1008.42 L1597.19 1008.02 L1597.26 1007.62 L1597.33 1007.22 L1597.4 1006.82 L1597.48 1006.42 L1597.57 1006.02 L1597.65 1005.62 L1597.74 1005.22 L1597.84 1004.82 L1597.93 1004.42 L1598.03 1004.02 L1598.12 1003.62 L1598.22 1003.22 L1598.31 1002.82 L1598.41 1002.42 L1598.5 1002.02 L1598.59 1001.62 L1598.67 1001.22 L1598.76 1000.82 L1598.83 1000.42 L1598.91 1000.02 L1598.98 999.62 L1599.04 999.22 L1599.09 998.82 L1599.14 998.42 L1599.18 998.02 L1599.21 997.62 L1599.23 997.22 L1599.24 996.82 L1599.25 996.42 L1599.24 996.02 L1599.23 995.62 L1599.2 995.22 L1599.18 994.82 L1599.14 994.42 L1599.1 994.02 L1599.06 993.62 L1599.01 993.22 L1598.96 992.82 L1598.91 992.42 L1598.85 992.02 L1598.79 991.62 L1598.73 991.22 L1598.67 990.82 L1598.61 990.42 L1598.55 990.02 L1598.49 989.62 L1598.44 989.22 L1598.38 988.82 L1598.33 988.42 L1598.29 988.02 L1598.24 987.62 L1598.21 987.22 L1598.17 986.82 L1598.15 986.42 L1598.13 986.02 L1598.11 985.62 L1598.11 985.22 L1598.11 984.82 L1598.14 984.42 L1598.17 984.02 L1598.23 983.62 L1598.29 983.22 L1598.37 982.82 L1598.47 982.42 L1598.57 982.02 L1598.68 981.62 L1598.8 981.22 L1598.93 980.82 L1599.07 980.42 L1599.21 980.02 L1599.36 979.62 L1599.52 979.22 L1599.67 978.82 L1599.83 978.42 L1599.99 978.02 L1600.15 977.62 L1600.31 977.22 L1600.47 976.82 L1600.62 976.42 L1600.78 976.02 L1600.92 975.62 L1601.07 975.22 L1601.2 974.82 L1601.33 974.42 L1601.45 974.02 L1601.56 973.62 L1601.68 973.22 L1601.79 972.82 L1601.9 972.42 L1602.02 972.02 L1602.14 971.62 L1602.26 971.22 L1602.38 970.82 L1602.5 970.42 L1602.62 970.02 L1602.74 969.62 L1602.87 969.22 L1602.99 968.82 L1603.11 968.42 L1603.23 968.02 L1603.36 967.62 L1603.48 967.22 L1603.6 966.82 L1603.72 966.42 L1603.84 966.02 L1603.95 965.62 L1604.07 965.22 L1604.18 964.82 L1604.29 964.42 L1604.4 964.02 L1604.51 963.62 L1604.61 963.22 L1604.72 962.82 L1604.81 962.42 L1604.91 962.02 L1605 961.62 L1605.09 961.22 L1605.18 960.82 L1605.26 960.42 L1605.34 960.02 L1605.41 959.62 L1605.48 959.22 L1605.54 958.82 L1605.6 958.42 L1605.66 958.02 L1605.71 957.62 L1605.75 957.22 L1605.79 956.82 L1605.82 956.42 L1605.85 956.02 L1605.88 955.62 L1605.91 955.22 L1605.94 954.82 L1605.96 954.42 L1605.99 954.02 L1606.01 953.62 L1606.03 953.22 L1606.05 952.82 L1606.07 952.42 L1606.09 952.02 L1606.11 951.62 L1606.13 951.22 L1606.14 950.82 L1606.16 950.42 L1606.17 950.02 L1606.19 949.62 L1606.2 949.22 L1606.22 948.82 L1606.23 948.42 L1606.24 948.02 L1606.26 947.62 L1606.27 947.22 L1606.28 946.82 L1606.3 946.42 L1606.31 946.02 L1606.33 945.62 L1606.34 945.22 L1606.36 944.82 L1606.38 944.42 L1606.39 944.02 L1606.41 943.62 L1606.43 943.22 L1606.45 942.82 L1606.47 942.42 L1606.49 942.02 L1606.52 941.62 L1606.54 941.22 L1606.57 940.82 L1606.59 940.42 L1606.62 940.02 L1606.65 939.62 L1606.69 939.22 L1606.72 938.82 L1606.76 938.42 L1606.81 938.02 L1606.86 937.62 L1606.91 937.22 L1606.96 936.82 L1607.02 936.42 L1607.08 936.02 L1607.15 935.62 L1607.22 935.22 L1607.29 934.82 L1607.36 934.42 L1607.44 934.02 L1607.51 933.62 L1607.59 933.22 L1607.68 932.82 L1607.76 932.42 L1607.85 932.02 L1607.93 931.62 L1608.02 931.22 L1608.11 930.82 L1608.2 930.42 L1608.3 930.02 L1608.39 929.62 L1608.48 929.22 L1608.58 928.82 L1608.68 928.42 L1608.77 928.02 L1608.87 927.62 L1608.96 927.22 L1609.06 926.82 L1609.16 926.42 L1609.25 926.02 L1609.35 925.62 L1609.44 925.22 L1609.54 924.82 L1609.63 924.42 L1609.73 924.02 L1609.82 923.62 L1609.91 923.22 L1610 922.82 L1610.08 922.42 L1610.17 922.02 L1610.25 921.62 L1610.34 921.22 L1610.42 920.82 L1610.49 920.42 L1610.57 920.02 L1610.64 919.62 L1610.72 919.22 L1610.79 918.82 L1610.88 918.42 L1610.96 918.02 L1611.04 917.62 L1611.13 917.22 L1611.21 916.82 L1611.3 916.42 L1611.39 916.02 L1611.47 915.62 L1611.55 915.22 L1611.63 914.82 L1611.7 914.42 L1611.77 914.02 L1611.83 913.62 L1611.89 913.22 L1611.94 912.82 L1611.99 912.42 L1612.02 912.02 L1612.05 911.62 L1612.07 911.22 L1612.08 910.82 L1612.09 910.42 L1612.1 910.02 L1612.11 909.62 L1612.11 909.22 L1612.12 908.82 L1612.13 908.42 L1612.14 908.02 L1612.15 907.62 L1612.15 907.22 L1612.16 906.82 L1612.17 906.42 L1612.17 906.02 L1612.18 905.62 L1612.19 905.22 L1612.19 904.82 L1612.2 904.42 L1612.21 904.02 L1612.21 903.62 L1612.22 903.22 L1612.23 902.82 L1612.23 902.42 L1612.24 902.02 L1612.24 901.62 L1612.25 901.22 L1612.25 900.82 L1612.26 900.42 L1612.26 900.02 L1612.27 899.62 L1612.27 899.22 L1612.28 898.82 L1612.28 898.42 L1612.28 898.02 L1612.29 897.62 L1612.29 897.22 L1612.3 896.82 L1612.3 896.42 L1612.3 896.02 L1612.31 895.62 L1612.31 895.22 L1612.31 894.82 L1612.32 894.42 L1612.32 894.02 L1612.32 893.62 L1612.33 893.22 L1612.33 892.82 L1612.33 892.42 L1612.33 892.02 L1612.34 891.62 L1612.34 891.22 L1612.34 890.82 L1612.34 890.42 L1612.34 890.02 L1612.35 889.62 L1612.35 889.22 L1612.35 888.82 L1612.35 888.42 L1612.35 888.02 L1612.35 887.62 L1612.35 887.22 L1612.35 886.82 L1612.36 886.42 L1612.36 886.02 L1612.36 885.62 L1612.36 885.22 L1612.36 884.82 L1612.36 884.42 L1612.36 884.02 L1612.36 883.62 L1612.36 883.22 L1612.36 882.82 L1612.36 882.42 L1612.36 882.02 L1612.36 881.62 L1612.35 881.22 L1612.35 880.82 L1612.34 880.42 L1612.34 880.02 L1612.33 879.62 L1612.32 879.22 L1612.31 878.82 L1612.3 878.42 L1612.29 878.02 L1612.28 877.62 L1612.26 877.22 L1612.25 876.82 L1612.24 876.42 L1612.23 876.02 L1612.21 875.62 L1612.2 875.22 L1612.19 874.82 L1612.17 874.42 L1612.16 874.02 L1612.15 873.62 L1612.13 873.22 L1612.12 872.82 L1612.11 872.42 L1612.1 872.02 L1612.09 871.62 L1612.08 871.22 L1612.07 870.82 L1612.06 870.42 L1612.05 870.02 L1612.03 869.62 L1612.02 869.22 L1612.01 868.82 L1612 868.42 L1611.99 868.02 L1611.97 867.62 L1611.96 867.22 L1611.95 866.82 L1611.93 866.42 L1611.92 866.02 L1611.91 865.62 L1611.89 865.22 L1611.88 864.82 L1611.87 864.42 L1611.85 864.02 L1611.84 863.62 L1611.83 863.22 L1611.82 862.82 L1611.8 862.42 L1611.79 862.02 L1611.78 861.62 L1611.77 861.22 L1611.76 860.82 L1611.74 860.42 L1611.73 860.02 L1611.72 859.62 L1611.71 859.22 L1611.7 858.82 L1611.7 858.42 L1611.69 858.02 L1611.68 857.62 L1611.67 857.22 L1611.67 856.82 L1611.66 856.42 L1611.66 856.02 L1611.65 855.62 L1611.65 855.22 L1611.65 854.82 L1611.65 854.42 L1611.65 854.02 L1611.65 853.62 L1611.65 853.22 L1611.65 852.82 L1611.66 852.42 L1611.66 852.02 L1611.67 851.62 L1611.68 851.22 L1611.69 850.82 L1611.7 850.42 L1611.71 850.02 L1611.72 849.62 L1611.74 849.22 L1611.75 848.82 L1611.77 848.42 L1611.78 848.02 L1611.8 847.62 L1611.82 847.22 L1611.84 846.82 L1611.85 846.42 L1611.87 846.02 L1611.9 845.62 L1611.92 845.22 L1611.94 844.82 L1611.96 844.42 L1611.99 844.02 L1612.01 843.62 L1612.03 843.22 L1612.06 842.82 L1612.08 842.42 L1612.11 842.02 L1612.14 841.62 L1612.16 841.22 L1612.19 840.82 L1612.22 840.42 L1612.24 840.02 L1612.27 839.62 L1612.3 839.22 L1612.33 838.82 L1612.35 838.42 L1612.38 838.02 L1612.42 837.62 L1612.45 837.22 L1612.49 836.82 L1612.53 836.42 L1612.57 836.02 L1612.62 835.62 L1612.67 835.22 L1612.72 834.82 L1612.77 834.42 L1612.82 834.02 L1612.88 833.62 L1612.93 833.22 L1612.99 832.82 L1613.04 832.42 L1613.1 832.02 L1613.16 831.62 L1613.21 831.22Z" fill="#6c56a8" stroke="none" stroke-width="0" stroke-linejoin="round"/>
<line x1="1670.5" y1="824" x2="1670.5" y2="1107.2" stroke="#005ea5" stroke-width="0.9" stroke-opacity="0.5"/>
<path d="M1670.64 836.92 L1670.78 837.32 L1670.91 837.72 L1671.04 838.12 L1671.16 838.52 L1671.26 838.92 L1671.33 839.32 L1671.35 839.72 L1671.36 840.12 L1671.36 840.52 L1671.36 840.92 L1671.36 841.32 L1671.36 841.72 L1671.36 842.12 L1671.36 842.52 L1671.36 842.92 L1671.36 843.32 L1671.36 843.72 L1671.36 844.12 L1671.36 844.52 L1671.36 844.92 L1671.36 845.32 L1671.36 845.72 L1671.36 846.12 L1671.36 846.52 L1671.36 846.92 L1671.34 847.32 L1671.29 847.72 L1671.23 848.12 L1671.15 848.52 L1671.07 848.92 L1670.98 849.32 L1670.9 849.72 L1670.82 850.12 L1670.77 850.52 L1670.73 850.92 L1670.73 851.32 L1670.73 851.72 L1670.73 852.12 L1670.73 852.52 L1670.73 852.92 L1670.73 853.32 L1670.73 853.72 L1670.73 854.12 L1670.73 854.52 L1670.73 854.92 L1670.73 855.32 L1670.73 855.72 L1670.73 856.12 L1670.73 856.52 L1670.73 856.92 L1670.73 857.32 L1670.73 857.72 L1670.73 858.12 L1670.73 858.52 L1670.73 858.92 L1670.73 859.32 L1670.73 859.72 L1670.75 860.12 L1670.82 860.52 L1670.91 860.92 L1671.01 861.32 L1671.11 861.72 L1671.18 862.12 L1671.21 862.52 L1671.19 862.92 L1671.13 863.32 L1671.04 863.72 L1670.94 864.12 L1670.84 864.52 L1670.77 864.92 L1670.73 865.32 L1670.73 865.72 L1670.73 866.12 L1670.73 866.52 L1670.73 866.92 L1670.73 867.32 L1670.73 867.72 L1670.73 868.12 L1670.73 868.52 L1670.73 868.92 L1670.73 869.32 L1670.73 869.72 L1670.73 870.12 L1670.73 870.52 L1670.73 870.92 L1670.73 871.32 L1670.73 871.72 L1670.73 872.12 L1670.73 872.52 L1670.73 872.92 L1670.73 873.32 L1670.73 873.72 L1670.73 874.12 L1670.73 874.52 L1670.73 874.92 L1670.73 875.32 L1670.73 875.72 L1670.73 876.12 L1670.73 876.52 L1670.73 876.92 L1670.73 877.32 L1670.73 877.72 L1670.73 878.12 L1670.73 878.52 L1670.74 878.92 L1670.74 879.32 L1670.74 879.72 L1670.74 880.12 L1670.74 880.52 L1670.74 880.92 L1670.74 881.32 L1670.74 881.72 L1670.74 882.12 L1670.74 882.52 L1670.74 882.92 L1670.74 883.32 L1670.74 883.72 L1670.74 884.12 L1670.74 884.52 L1670.75 884.92 L1670.75 885.32 L1670.75 885.72 L1670.75 886.12 L1670.75 886.52 L1670.75 886.92 L1670.75 887.32 L1670.75 887.72 L1670.75 888.12 L1670.75 888.52 L1670.76 888.92 L1670.76 889.32 L1670.76 889.72 L1670.76 890.12 L1670.76 890.52 L1670.76 890.92 L1670.76 891.32 L1670.76 891.72 L1670.77 892.12 L1670.77 892.52 L1670.77 892.92 L1670.77 893.32 L1670.77 893.72 L1670.77 894.12 L1670.78 894.52 L1670.78 894.92 L1670.78 895.32 L1670.78 895.72 L1670.78 896.12 L1670.78 896.52 L1670.79 896.92 L1670.81 897.32 L1670.84 897.72 L1670.89 898.12 L1670.95 898.52 L1671.03 898.92 L1671.1 899.32 L1671.19 899.72 L1671.27 900.12 L1671.35 900.52 L1671.43 900.92 L1671.5 901.32 L1671.56 901.72 L1671.61 902.12 L1671.64 902.52 L1671.67 902.92 L1671.69 903.32 L1671.72 903.72 L1671.74 904.12 L1671.77 904.52 L1671.79 904.92 L1671.81 905.32 L1671.83 905.72 L1671.85 906.12 L1671.87 906.52 L1671.89 906.92 L1671.9 907.32 L1671.92 907.72 L1671.93 908.12 L1671.95 908.52 L1671.96 908.92 L1671.98 909.32 L1671.99 909.72 L1672 910.12 L1672.02 910.52 L1672.03 910.92 L1672.04 911.32 L1672.05 911.72 L1672.06 912.12 L1672.07 912.52 L1672.08 912.92 L1672.09 913.32 L1672.1 913.72 L1672.11 914.12 L1672.12 914.52 L1672.13 914.92 L1672.13 915.32 L1672.14 915.72 L1672.15 916.12 L1672.16 916.52 L1672.17 916.92 L1672.17 917.32 L1672.18 917.72 L1672.19 918.12 L1672.2 918.52 L1672.2 918.92 L1672.21 919.32 L1672.22 919.72 L1672.23 920.12 L1672.24 920.52 L1672.25 920.92 L1672.25 921.32 L1672.26 921.72 L1672.27 922.12 L1672.28 922.52 L1672.29 922.92 L1672.3 923.32 L1672.31 923.72 L1672.32 924.12 L1672.33 924.52 L1672.35 924.92 L1672.36 925.32 L1672.37 925.72 L1672.38 926.12 L1672.4 926.52 L1672.41 926.92 L1672.43 927.32 L1672.44 927.72 L1672.46 928.12 L1672.48 928.52 L1672.49 928.92 L1672.51 929.32 L1672.53 929.72 L1672.55 930.12 L1672.57 930.52 L1672.59 930.92 L1672.62 931.32 L1672.64 931.72 L1672.66 932.12 L1672.69 932.52 L1672.72 932.92 L1672.74 933.32 L1672.77 933.72 L1672.8 934.12 L1672.85 934.52 L1672.91 934.92 L1672.98 935.32 L1673.06 935.72 L1673.15 936.12 L1673.24 936.52 L1673.34 936.92 L1673.44 937.32 L1673.54 937.72 L1673.63 938.12 L1673.72 938.52 L1673.81 938.92 L1673.88 939.32 L1673.95 939.72 L1674.02 940.12 L1674.08 940.52 L1674.14 940.92 L1674.21 941.32 L1674.27 941.72 L1674.33 942.12 L1674.39 942.52 L1674.45 942.92 L1674.51 943.32 L1674.57 943.72 L1674.63 944.12 L1674.69 944.52 L1674.74 944.92 L1674.8 945.32 L1674.85 945.72 L1674.91 946.12 L1674.96 946.52 L1675.02 946.92 L1675.07 947.32 L1675.12 947.72 L1675.18 948.12 L1675.23 948.52 L1675.28 948.92 L1675.33 949.32 L1675.38 949.72 L1675.43 950.12 L1675.48 950.52 L1675.53 950.92 L1675.58 951.32 L1675.63 951.72 L1675.68 952.12 L1675.72 952.52 L1675.77 952.92 L1675.82 953.32 L1675.86 953.72 L1675.91 954.12 L1675.96 954.52 L1676 954.92 L1676.05 955.32 L1676.1 955.72 L1676.14 956.12 L1676.19 956.52 L1676.23 956.92 L1676.28 957.32 L1676.32 957.72 L1676.36 958.12 L1676.4 958.52 L1676.43 958.92 L1676.47 959.32 L1676.51 959.72 L1676.54 960.12 L1676.58 960.52 L1676.61 960.92 L1676.65 961.32 L1676.68 961.72 L1676.71 962.12 L1676.75 962.52 L1676.78 962.92 L1676.82 963.32 L1676.86 963.72 L1676.89 964.12 L1676.93 964.52 L1676.97 964.92 L1677.01 965.32 L1677.06 965.72 L1677.1 966.12 L1677.15 966.52 L1677.19 966.92 L1677.24 967.32 L1677.3 967.72 L1677.35 968.12 L1677.41 968.52 L1677.47 968.92 L1677.53 969.32 L1677.6 969.72 L1677.66 970.12 L1677.73 970.52 L1677.81 970.92 L1677.88 971.32 L1677.96 971.72 L1678.04 972.12 L1678.12 972.52 L1678.2 972.92 L1678.29 973.32 L1678.38 973.72 L1678.47 974.12 L1678.56 974.52 L1678.66 974.92 L1678.75 975.32 L1678.85 975.72 L1678.96 976.12 L1679.06 976.52 L1679.16 976.92 L1679.27 977.32 L1679.38 977.72 L1679.49 978.12 L1679.61 978.52 L1679.72 978.92 L1679.84 979.32 L1679.96 979.72 L1680.08 980.12 L1680.2 980.52 L1680.32 980.92 L1680.45 981.32 L1680.57 981.72 L1680.7 982.12 L1680.84 982.52 L1680.98 982.92 L1681.14 983.32 L1681.32 983.72 L1681.5 984.12 L1681.69 984.52 L1681.89 984.92 L1682.1 985.32 L1682.31 985.72 L1682.53 986.12 L1682.74 986.52 L1682.96 986.92 L1683.17 987.32 L1683.38 987.72 L1683.59 988.12 L1683.79 988.52 L1683.98 988.92 L1684.17 989.32 L1684.34 989.72 L1684.5 990.12 L1684.64 990.52 L1684.77 990.92 L1684.9 991.32 L1685.03 991.72 L1685.16 992.12 L1685.29 992.52 L1685.42 992.92 L1685.54 993.32 L1685.67 993.72 L1685.79 994.12 L1685.91 994.52 L1686.03 994.92 L1686.13 995.32 L1686.24 995.72 L1686.33 996.12 L1686.42 996.52 L1686.5 996.92 L1686.57 997.32 L1686.63 997.72 L1686.68 998.12 L1686.71 998.52 L1686.74 998.92 L1686.75 999.32 L1686.75 999.72 L1686.74 1000.12 L1686.73 1000.52 L1686.71 1000.92 L1686.69 1001.32 L1686.66 1001.72 L1686.63 1002.12 L1686.6 1002.52 L1686.56 1002.92 L1686.52 1003.32 L1686.47 1003.72 L1686.42 1004.12 L1686.37 1004.52 L1686.32 1004.92 L1686.27 1005.32 L1686.21 1005.72 L1686.15 1006.12 L1686.09 1006.52 L1686.03 1006.92 L1685.97 1007.32 L1685.9 1007.72 L1685.84 1008.12 L1685.77 1008.52 L1685.71 1008.92 L1685.65 1009.32 L1685.58 1009.72 L1685.52 1010.12 L1685.46 1010.52 L1685.4 1010.92 L1685.34 1011.32 L1685.28 1011.72 L1685.23 1012.12 L1685.17 1012.52 L1685.12 1012.92 L1685.08 1013.32 L1685.03 1013.72 L1684.99 1014.12 L1684.95 1014.52 L1684.91 1014.92 L1684.87 1015.32 L1684.84 1015.72 L1684.8 1016.12 L1684.77 1016.52 L1684.74 1016.92 L1684.71 1017.32 L1684.68 1017.72 L1684.65 1018.12 L1684.62 1018.52 L1684.59 1018.92 L1684.56 1019.32 L1684.53 1019.72 L1684.5 1020.12 L1684.47 1020.52 L1684.44 1020.92 L1684.41 1021.32 L1684.37 1021.72 L1684.34 1022.12 L1684.3 1022.52 L1684.27 1022.92 L1684.23 1023.32 L1684.19 1023.72 L1684.15 1024.12 L1684.1 1024.52 L1684.05 1024.92 L1684 1025.32 L1683.95 1025.72 L1683.9 1026.12 L1683.84 1026.52 L1683.78 1026.92 L1683.71 1027.32 L1683.65 1027.72 L1683.57 1028.12 L1683.47 1028.52 L1683.35 1028.92 L1683.2 1029.32 L1683.03 1029.72 L1682.84 1030.12 L1682.63 1030.52 L1682.41 1030.92 L1682.17 1031.32 L1681.93 1031.72 L1681.68 1032.12 L1681.42 1032.52 L1681.16 1032.92 L1680.9 1033.32 L1680.63 1033.72 L1680.38 1034.12 L1680.12 1034.52 L1679.88 1034.92 L1679.65 1035.32 L1679.42 1035.72 L1679.22 1036.12 L1679.03 1036.52 L1678.84 1036.92 L1678.65 1037.32 L1678.46 1037.72 L1678.26 1038.12 L1678.06 1038.52 L1677.86 1038.92 L1677.66 1039.32 L1677.46 1039.72 L1677.26 1040.12 L1677.07 1040.52 L1676.87 1040.92 L1676.68 1041.32 L1676.49 1041.72 L1676.31 1042.12 L1676.13 1042.52 L1675.95 1042.92 L1675.78 1043.32 L1675.62 1043.72 L1675.47 1044.12 L1675.32 1044.52 L1675.18 1044.92 L1675.05 1045.32 L1674.93 1045.72 L1674.83 1046.12 L1674.73 1046.52 L1674.64 1046.92 L1674.57 1047.32 L1674.51 1047.72 L1674.46 1048.12 L1674.42 1048.52 L1674.37 1048.92 L1674.33 1049.32 L1674.29 1049.72 L1674.25 1050.12 L1674.22 1050.52 L1674.18 1050.92 L1674.15 1051.32 L1674.12 1051.72 L1674.09 1052.12 L1674.06 1052.52 L1674.03 1052.92 L1674 1053.32 L1673.98 1053.72 L1673.95 1054.12 L1673.93 1054.52 L1673.9 1054.92 L1673.88 1055.32 L1673.86 1055.72 L1673.84 1056.12 L1673.82 1056.52 L1673.8 1056.92 L1673.78 1057.32 L1673.76 1057.72 L1673.74 1058.12 L1673.72 1058.52 L1673.7 1058.92 L1673.68 1059.32 L1673.66 1059.72 L1673.64 1060.12 L1673.62 1060.52 L1673.6 1060.92 L1673.58 1061.32 L1673.56 1061.72 L1673.53 1062.12 L1673.51 1062.52 L1673.49 1062.92 L1673.46 1063.32 L1673.44 1063.72 L1673.41 1064.12 L1673.38 1064.52 L1673.35 1064.92 L1673.32 1065.32 L1673.29 1065.72 L1673.26 1066.12 L1673.23 1066.52 L1673.2 1066.92 L1673.17 1067.32 L1673.14 1067.72 L1673.11 1068.12 L1673.08 1068.52 L1673.05 1068.92 L1673.01 1069.32 L1672.98 1069.72 L1672.95 1070.12 L1672.92 1070.52 L1672.88 1070.92 L1672.85 1071.32 L1672.82 1071.72 L1672.78 1072.12 L1672.75 1072.52 L1672.72 1072.92 L1672.68 1073.32 L1672.65 1073.72 L1672.61 1074.12 L1672.58 1074.52 L1672.55 1074.92 L1672.51 1075.32 L1672.48 1075.72 L1672.44 1076.12 L1672.41 1076.52 L1672.37 1076.92 L1672.34 1077.32 L1672.3 1077.72 L1672.27 1078.12 L1672.23 1078.52 L1672.2 1078.92 L1672.16 1079.32 L1672.13 1079.72 L1672.1 1080.12 L1672.06 1080.52 L1672.03 1080.92 L1671.99 1081.32 L1671.96 1081.72 L1671.92 1082.12 L1671.89 1082.52 L1671.85 1082.92 L1671.82 1083.32 L1671.78 1083.72 L1671.75 1084.12 L1671.71 1084.52 L1671.68 1084.92 L1671.64 1085.32 L1671.61 1085.72 L1671.57 1086.12 L1671.54 1086.52 L1671.5 1086.92 L1671.46 1087.32 L1671.43 1087.72 L1671.39 1088.12 L1671.36 1088.52 L1671.32 1088.92 L1671.28 1089.32 L1671.25 1089.72 L1671.21 1090.12 L1671.18 1090.52 L1671.14 1090.92 L1671.1 1091.32 L1671.07 1091.72 L1671.03 1092.12 L1670.99 1092.52 L1670.96 1092.92 L1670.92 1093.32 L1670.88 1093.72 L1670.85 1094.12 L1670.81 1094.52 L1670.77 1094.92 L1670.74 1095.32 L1670.7 1095.72 L1670.66 1096.12 L1670.34 1096.12 L1670.3 1095.72 L1670.26 1095.32 L1670.23 1094.92 L1670.19 1094.52 L1670.15 1094.12 L1670.12 1093.72 L1670.08 1093.32 L1670.04 1092.92 L1670.01 1092.52 L1669.97 1092.12 L1669.93 1091.72 L1669.9 1091.32 L1669.86 1090.92 L1669.82 1090.52 L1669.79 1090.12 L1669.75 1089.72 L1669.72 1089.32 L1669.68 1088.92 L1669.64 1088.52 L1669.61 1088.12 L1669.57 1087.72 L1669.54 1087.32 L1669.5 1086.92 L1669.46 1086.52 L1669.43 1086.12 L1669.39 1085.72 L1669.36 1085.32 L1669.32 1084.92 L1669.29 1084.52 L1669.25 1084.12 L1669.22 1083.72 L1669.18 1083.32 L1669.15 1082.92 L1669.11 1082.52 L1669.08 1082.12 L1669.04 1081.72 L1669.01 1081.32 L1668.97 1080.92 L1668.94 1080.52 L1668.9 1080.12 L1668.87 1079.72 L1668.84 1079.32 L1668.8 1078.92 L1668.77 1078.52 L1668.73 1078.12 L1668.7 1077.72 L1668.66 1077.32 L1668.63 1076.92 L1668.59 1076.52 L1668.56 1076.12 L1668.52 1075.72 L1668.49 1075.32 L1668.45 1074.92 L1668.42 1074.52 L1668.39 1074.12 L1668.35 1073.72 L1668.32 1073.32 L1668.28 1072.92 L1668.25 1072.52 L1668.22 1072.12 L1668.18 1071.72 L1668.15 1071.32 L1668.12 1070.92 L1668.08 1070.52 L1668.05 1070.12 L1668.02 1069.72 L1667.99 1069.32 L1667.95 1068.92 L1667.92 1068.52 L1667.89 1068.12 L1667.86 1067.72 L1667.83 1067.32 L1667.8 1066.92 L1667.77 1066.52 L1667.74 1066.12 L1667.71 1065.72 L1667.68 1065.32 L1667.65 1064.92 L1667.62 1064.52 L1667.59 1064.12 L1667.56 1063.72 L1667.54 1063.32 L1667.51 1062.92 L1667.49 1062.52 L1667.47 1062.12 L1667.44 1061.72 L1667.42 1061.32 L1667.4 1060.92 L1667.38 1060.52 L1667.36 1060.12 L1667.34 1059.72 L1667.32 1059.32 L1667.3 1058.92 L1667.28 1058.52 L1667.26 1058.12 L1667.24 1057.72 L1667.22 1057.32 L1667.2 1056.92 L1667.18 1056.52 L1667.16 1056.12 L1667.14 1055.72 L1667.12 1055.32 L1667.1 1054.92 L1667.07 1054.52 L1667.05 1054.12 L1667.02 1053.72 L1667 1053.32 L1666.97 1052.92 L1666.94 1052.52 L1666.91 1052.12 L1666.88 1051.72 L1666.85 1051.32 L1666.82 1050.92 L1666.78 1050.52 L1666.75 1050.12 L1666.71 1049.72 L1666.67 1049.32 L1666.63 1048.92 L1666.58 1048.52 L1666.54 1048.12 L1666.49 1047.72 L1666.43 1047.32 L1666.36 1046.92 L1666.27 1046.52 L1666.17 1046.12 L1666.07 1045.72 L1665.95 1045.32 L1665.82 1044.92 L1665.68 1044.52 L1665.53 1044.12 L1665.38 1043.72 L1665.22 1043.32 L1665.05 1042.92 L1664.87 1042.52 L1664.69 1042.12 L1664.51 1041.72 L1664.32 1041.32 L1664.13 1040.92 L1663.93 1040.52 L1663.74 1040.12 L1663.54 1039.72 L1663.34 1039.32 L1663.14 1038.92 L1662.94 1038.52 L1662.74 1038.12 L1662.54 1037.72 L1662.35 1037.32 L1662.16 1036.92 L1661.97 1036.52 L1661.78 1036.12 L1661.58 1035.72 L1661.35 1035.32 L1661.12 1034.92 L1660.88 1034.52 L1660.62 1034.12 L1660.37 1033.72 L1660.1 1033.32 L1659.84 1032.92 L1659.58 1032.52 L1659.32 1032.12 L1659.07 1031.72 L1658.83 1031.32 L1658.59 1030.92 L1658.37 1030.52 L1658.16 1030.12 L1657.97 1029.72 L1657.8 1029.32 L1657.65 1028.92 L1657.53 1028.52 L1657.43 1028.12 L1657.35 1027.72 L1657.29 1027.32 L1657.22 1026.92 L1657.16 1026.52 L1657.1 1026.12 L1657.05 1025.72 L1657 1025.32 L1656.95 1024.92 L1656.9 1024.52 L1656.85 1024.12 L1656.81 1023.72 L1656.77 1023.32 L1656.73 1022.92 L1656.7 1022.52 L1656.66 1022.12 L1656.63 1021.72 L1656.59 1021.32 L1656.56 1020.92 L1656.53 1020.52 L1656.5 1020.12 L1656.47 1019.72 L1656.44 1019.32 L1656.41 1018.92 L1656.38 1018.52 L1656.35 1018.12 L1656.32 1017.72 L1656.29 1017.32 L1656.26 1016.92 L1656.23 1016.52 L1656.2 1016.12 L1656.16 1015.72 L1656.13 1015.32 L1656.09 1014.92 L1656.05 1014.52 L1656.01 1014.12 L1655.97 1013.72 L1655.92 1013.32 L1655.88 1012.92 L1655.83 1012.52 L1655.77 1012.12 L1655.72 1011.72 L1655.66 1011.32 L1655.6 1010.92 L1655.54 1010.52 L1655.48 1010.12 L1655.42 1009.72 L1655.35 1009.32 L1655.29 1008.92 L1655.23 1008.52 L1655.16 1008.12 L1655.1 1007.72 L1655.03 1007.32 L1654.97 1006.92 L1654.91 1006.52 L1654.85 1006.12 L1654.79 1005.72 L1654.73 1005.32 L1654.68 1004.92 L1654.63 1004.52 L1654.58 1004.12 L1654.53 1003.72 L1654.48 1003.32 L1654.44 1002.92 L1654.4 1002.52 L1654.37 1002.12 L1654.34 1001.72 L1654.31 1001.32 L1654.29 1000.92 L1654.27 1000.52 L1654.26 1000.12 L1654.25 999.72 L1654.25 999.32 L1654.26 998.92 L1654.29 998.52 L1654.32 998.12 L1654.37 997.72 L1654.43 997.32 L1654.5 996.92 L1654.58 996.52 L1654.67 996.12 L1654.76 995.72 L1654.87 995.32 L1654.97 994.92 L1655.09 994.52 L1655.21 994.12 L1655.33 993.72 L1655.46 993.32 L1655.58 992.92 L1655.71 992.52 L1655.84 992.12 L1655.97 991.72 L1656.1 991.32 L1656.23 990.92 L1656.36 990.52 L1656.5 990.12 L1656.66 989.72 L1656.83 989.32 L1657.02 988.92 L1657.21 988.52 L1657.41 988.12 L1657.62 987.72 L1657.83 987.32 L1658.04 986.92 L1658.26 986.52 L1658.47 986.12 L1658.69 985.72 L1658.9 985.32 L1659.11 984.92 L1659.31 984.52 L1659.5 984.12 L1659.68 983.72 L1659.86 983.32 L1660.02 982.92 L1660.16 982.52 L1660.3 982.12 L1660.43 981.72 L1660.55 981.32 L1660.68 980.92 L1660.8 980.52 L1660.92 980.12 L1661.04 979.72 L1661.16 979.32 L1661.28 978.92 L1661.39 978.52 L1661.51 978.12 L1661.62 977.72 L1661.73 977.32 L1661.84 976.92 L1661.94 976.52 L1662.04 976.12 L1662.15 975.72 L1662.25 975.32 L1662.34 974.92 L1662.44 974.52 L1662.53 974.12 L1662.62 973.72 L1662.71 973.32 L1662.8 972.92 L1662.88 972.52 L1662.96 972.12 L1663.04 971.72 L1663.12 971.32 L1663.19 970.92 L1663.27 970.52 L1663.34 970.12 L1663.4 969.72 L1663.47 969.32 L1663.53 968.92 L1663.59 968.52 L1663.65 968.12 L1663.7 967.72 L1663.76 967.32 L1663.81 966.92 L1663.85 966.52 L1663.9 966.12 L1663.94 965.72 L1663.99 965.32 L1664.03 964.92 L1664.07 964.52 L1664.11 964.12 L1664.14 963.72 L1664.18 963.32 L1664.22 962.92 L1664.25 962.52 L1664.29 962.12 L1664.32 961.72 L1664.35 961.32 L1664.39 960.92 L1664.42 960.52 L1664.46 960.12 L1664.49 959.72 L1664.53 959.32 L1664.57 958.92 L1664.6 958.52 L1664.64 958.12 L1664.68 957.72 L1664.72 957.32 L1664.77 956.92 L1664.81 956.52 L1664.86 956.12 L1664.9 955.72 L1664.95 955.32 L1665 954.92 L1665.04 954.52 L1665.09 954.12 L1665.14 953.72 L1665.18 953.32 L1665.23 952.92 L1665.28 952.52 L1665.32 952.12 L1665.37 951.72 L1665.42 951.32 L1665.47 950.92 L1665.52 950.52 L1665.57 950.12 L1665.62 949.72 L1665.67 949.32 L1665.72 948.92 L1665.77 948.52 L1665.82 948.12 L1665.88 947.72 L1665.93 947.32 L1665.98 946.92 L1666.04 946.52 L1666.09 946.12 L1666.15 945.72 L1666.2 945.32 L1666.26 944.92 L1666.31 944.52 L1666.37 944.12 L1666.43 943.72 L1666.49 943.32 L1666.55 942.92 L1666.61 942.52 L1666.67 942.12 L1666.73 941.72 L1666.79 941.32 L1666.86 940.92 L1666.92 940.52 L1666.98 940.12 L1667.05 939.72 L1667.12 939.32 L1667.19 938.92 L1667.28 938.52 L1667.37 938.12 L1667.46 937.72 L1667.56 937.32 L1667.66 936.92 L1667.76 936.52 L1667.85 936.12 L1667.94 935.72 L1668.02 935.32 L1668.09 934.92 L1668.15 934.52 L1668.2 934.12 L1668.23 933.72 L1668.26 933.32 L1668.28 932.92 L1668.31 932.52 L1668.34 932.12 L1668.36 931.72 L1668.38 931.32 L1668.41 930.92 L1668.43 930.52 L1668.45 930.12 L1668.47 929.72 L1668.49 929.32 L1668.51 928.92 L1668.52 928.52 L1668.54 928.12 L1668.56 927.72 L1668.57 927.32 L1668.59 926.92 L1668.6 926.52 L1668.62 926.12 L1668.63 925.72 L1668.64 925.32 L1668.65 924.92 L1668.67 924.52 L1668.68 924.12 L1668.69 923.72 L1668.7 923.32 L1668.71 922.92 L1668.72 922.52 L1668.73 922.12 L1668.74 921.72 L1668.75 921.32 L1668.75 920.92 L1668.76 920.52 L1668.77 920.12 L1668.78 919.72 L1668.79 919.32 L1668.8 918.92 L1668.8 918.52 L1668.81 918.12 L1668.82 917.72 L1668.83 917.32 L1668.83 916.92 L1668.84 916.52 L1668.85 916.12 L1668.86 915.72 L1668.87 915.32 L1668.87 914.92 L1668.88 914.52 L1668.89 914.12 L1668.9 913.72 L1668.91 913.32 L1668.92 912.92 L1668.93 912.52 L1668.94 912.12 L1668.95 911.72 L1668.96 911.32 L1668.97 910.92 L1668.98 910.52 L1669 910.12 L1669.01 909.72 L1669.02 909.32 L1669.04 908.92 L1669.05 908.52 L1669.07 908.12 L1669.08 907.72 L1669.1 907.32 L1669.11 906.92 L1669.13 906.52 L1669.15 906.12 L1669.17 905.72 L1669.19 905.32 L1669.21 904.92 L1669.23 904.52 L1669.26 904.12 L1669.28 903.72 L1669.31 903.32 L1669.33 902.92 L1669.36 902.52 L1669.39 902.12 L1669.44 901.72 L1669.5 901.32 L1669.57 900.92 L1669.65 900.52 L1669.73 900.12 L1669.81 899.72 L1669.9 899.32 L1669.97 898.92 L1670.05 898.52 L1670.11 898.12 L1670.16 897.72 L1670.19 897.32 L1670.21 896.92 L1670.22 896.52 L1670.22 896.12 L1670.22 895.72 L1670.22 895.32 L1670.22 894.92 L1670.22 894.52 L1670.23 894.12 L1670.23 893.72 L1670.23 893.32 L1670.23 892.92 L1670.23 892.52 L1670.23 892.12 L1670.24 891.72 L1670.24 891.32 L1670.24 890.92 L1670.24 890.52 L1670.24 890.12 L1670.24 889.72 L1670.24 889.32 L1670.24 888.92 L1670.25 888.52 L1670.25 888.12 L1670.25 887.72 L1670.25 887.32 L1670.25 886.92 L1670.25 886.52 L1670.25 886.12 L1670.25 885.72 L1670.25 885.32 L1670.25 884.92 L1670.26 884.52 L1670.26 884.12 L1670.26 883.72 L1670.26 883.32 L1670.26 882.92 L1670.26 882.52 L1670.26 882.12 L1670.26 881.72 L1670.26 881.32 L1670.26 880.92 L1670.26 880.52 L1670.26 880.12 L1670.26 879.72 L1670.26 879.32 L1670.26 878.92 L1670.27 878.52 L1670.27 878.12 L1670.27 877.72 L1670.27 877.32 L1670.27 876.92 L1670.27 876.52 L1670.27 876.12 L1670.27 875.72 L1670.27 875.32 L1670.27 874.92 L1670.27 874.52 L1670.27 874.12 L1670.27 873.72 L1670.27 873.32 L1670.27 872.92 L1670.27 872.52 L1670.27 872.12 L1670.27 871.72 L1670.27 871.32 L1670.27 870.92 L1670.27 870.52 L1670.27 870.12 L1670.27 869.72 L1670.27 869.32 L1670.27 868.92 L1670.27 868.52 L1670.27 868.12 L1670.27 867.72 L1670.27 867.32 L1670.27 866.92 L1670.27 866.52 L1670.27 866.12 L1670.27 865.72 L1670.27 865.32 L1670.23 864.92 L1670.16 864.52 L1670.06 864.12 L1669.96 863.72 L1669.87 863.32 L1669.81 862.92 L1669.79 862.52 L1669.82 862.12 L1669.89 861.72 L1669.99 861.32 L1670.09 860.92 L1670.18 860.52 L1670.25 860.12 L1670.27 859.72 L1670.27 859.32 L1670.27 858.92 L1670.27 858.52 L1670.27 858.12 L1670.27 857.72 L1670.27 857.32 L1670.27 856.92 L1670.27 856.52 L1670.27 856.12 L1670.27 855.72 L1670.27 855.32 L1670.27 854.92 L1670.27 854.52 L1670.27 854.12 L1670.27 853.72 L1670.27 853.32 L1670.27 852.92 L1670.27 852.52 L1670.27 852.12 L1670.27 851.72 L1670.27 851.32 L1670.27 850.92 L1670.23 850.52 L1670.18 850.12 L1670.1 849.72 L1670.02 849.32 L1669.93 848.92 L1669.85 848.52 L1669.77 848.12 L1669.71 847.72 L1669.66 847.32 L1669.64 846.92 L1669.64 846.52 L1669.64 846.12 L1669.64 845.72 L1669.64 845.32 L1669.64 844.92 L1669.64 844.52 L1669.64 844.12 L1669.64 843.72 L1669.64 843.32 L1669.64 842.92 L1669.64 842.52 L1669.64 842.12 L1669.64 841.72 L1669.64 841.32 L1669.64 840.92 L1669.64 840.52 L1669.64 840.12 L1669.65 839.72 L1669.67 839.32 L1669.74 838.92 L1669.84 838.52 L1669.96 838.12 L1670.09 837.72 L1670.22 837.32 L1670.36 836.92Z" fill="#005ea5" stroke="none" stroke-width="0" stroke-linejoin="round"/>
<line x1="1727.2" y1="854" x2="1727.2" y2="1107.2" stroke="#469ccc" stroke-width="0.9" stroke-opacity="0.5"/>
<path d="M1727.43 942.39 L1727.56 942.79 L1727.69 943.19 L1727.82 943.59 L1727.94 943.99 L1728.06 944.39 L1728.17 944.79 L1728.28 945.19 L1728.38 945.59 L1728.47 945.99 L1728.56 946.39 L1728.64 946.79 L1728.71 947.19 L1728.77 947.59 L1728.82 947.99 L1728.86 948.39 L1728.89 948.79 L1728.91 949.19 L1728.91 949.59 L1728.91 949.99 L1728.9 950.39 L1728.89 950.79 L1728.88 951.19 L1728.87 951.59 L1728.85 951.99 L1728.84 952.39 L1728.82 952.79 L1728.8 953.19 L1728.78 953.59 L1728.76 953.99 L1728.73 954.39 L1728.71 954.79 L1728.69 955.19 L1728.67 955.59 L1728.65 955.99 L1728.64 956.39 L1728.62 956.79 L1728.6 957.19 L1728.58 957.59 L1728.56 957.99 L1728.54 958.39 L1728.52 958.79 L1728.5 959.19 L1728.48 959.59 L1728.46 959.99 L1728.44 960.39 L1728.42 960.79 L1728.4 961.19 L1728.39 961.59 L1728.37 961.99 L1728.36 962.39 L1728.35 962.79 L1728.34 963.19 L1728.34 963.59 L1728.34 963.99 L1728.35 964.39 L1728.38 964.79 L1728.41 965.19 L1728.45 965.59 L1728.5 965.99 L1728.56 966.39 L1728.63 966.79 L1728.7 967.19 L1728.78 967.59 L1728.87 967.99 L1728.96 968.39 L1729.06 968.79 L1729.16 969.19 L1729.26 969.59 L1729.37 969.99 L1729.49 970.39 L1729.6 970.79 L1729.72 971.19 L1729.83 971.59 L1729.95 971.99 L1730.07 972.39 L1730.19 972.79 L1730.31 973.19 L1730.42 973.59 L1730.54 973.99 L1730.65 974.39 L1730.76 974.79 L1730.86 975.19 L1730.96 975.59 L1731.06 975.99 L1731.15 976.39 L1731.23 976.79 L1731.31 977.19 L1731.39 977.59 L1731.47 977.99 L1731.55 978.39 L1731.63 978.79 L1731.71 979.19 L1731.78 979.59 L1731.86 979.99 L1731.93 980.39 L1732 980.79 L1732.07 981.19 L1732.15 981.59 L1732.22 981.99 L1732.29 982.39 L1732.36 982.79 L1732.44 983.19 L1732.51 983.59 L1732.58 983.99 L1732.66 984.39 L1732.73 984.79 L1732.81 985.19 L1732.88 985.59 L1732.96 985.99 L1733.04 986.39 L1733.12 986.79 L1733.2 987.19 L1733.28 987.59 L1733.37 987.99 L1733.46 988.39 L1733.55 988.79 L1733.64 989.19 L1733.73 989.59 L1733.83 989.99 L1733.92 990.39 L1734.03 990.79 L1734.13 991.19 L1734.24 991.59 L1734.36 991.99 L1734.48 992.39 L1734.6 992.79 L1734.74 993.19 L1734.87 993.59 L1735.01 993.99 L1735.15 994.39 L1735.3 994.79 L1735.44 995.19 L1735.59 995.59 L1735.75 995.99 L1735.9 996.39 L1736.06 996.79 L1736.22 997.19 L1736.38 997.59 L1736.54 997.99 L1736.7 998.39 L1736.86 998.79 L1737.02 999.19 L1737.18 999.59 L1737.34 999.99 L1737.5 1000.39 L1737.65 1000.79 L1737.81 1001.19 L1737.96 1001.59 L1738.11 1001.99 L1738.26 1002.39 L1738.41 1002.79 L1738.55 1003.19 L1738.69 1003.59 L1738.82 1003.99 L1738.95 1004.39 L1739.08 1004.79 L1739.2 1005.19 L1739.32 1005.59 L1739.45 1005.99 L1739.57 1006.39 L1739.7 1006.79 L1739.83 1007.19 L1739.97 1007.59 L1740.1 1007.99 L1740.24 1008.39 L1740.38 1008.79 L1740.51 1009.19 L1740.65 1009.59 L1740.79 1009.99 L1740.92 1010.39 L1741.06 1010.79 L1741.19 1011.19 L1741.32 1011.59 L1741.45 1011.99 L1741.58 1012.39 L1741.71 1012.79 L1741.83 1013.19 L1741.95 1013.59 L1742.06 1013.99 L1742.18 1014.39 L1742.28 1014.79 L1742.39 1015.19 L1742.48 1015.59 L1742.58 1015.99 L1742.66 1016.39 L1742.75 1016.79 L1742.82 1017.19 L1742.89 1017.59 L1742.95 1017.99 L1743.01 1018.39 L1743.05 1018.79 L1743.09 1019.19 L1743.12 1019.59 L1743.15 1019.99 L1743.16 1020.39 L1743.16 1020.79 L1743.14 1021.19 L1743.09 1021.59 L1743.01 1021.99 L1742.9 1022.39 L1742.76 1022.79 L1742.6 1023.19 L1742.43 1023.59 L1742.24 1023.99 L1742.04 1024.39 L1741.83 1024.79 L1741.62 1025.19 L1741.41 1025.59 L1741.2 1025.99 L1740.99 1026.39 L1740.79 1026.79 L1740.61 1027.19 L1740.44 1027.59 L1740.28 1027.99 L1740.14 1028.39 L1740 1028.79 L1739.86 1029.19 L1739.73 1029.59 L1739.59 1029.99 L1739.46 1030.39 L1739.33 1030.79 L1739.2 1031.19 L1739.08 1031.59 L1738.95 1031.99 L1738.82 1032.39 L1738.69 1032.79 L1738.57 1033.19 L1738.44 1033.59 L1738.31 1033.99 L1738.18 1034.39 L1738.04 1034.79 L1737.91 1035.19 L1737.77 1035.59 L1737.63 1035.99 L1737.49 1036.39 L1737.34 1036.79 L1737.19 1037.19 L1737.02 1037.59 L1736.86 1037.99 L1736.69 1038.39 L1736.52 1038.79 L1736.34 1039.19 L1736.16 1039.59 L1735.98 1039.99 L1735.81 1040.39 L1735.63 1040.79 L1735.45 1041.19 L1735.28 1041.59 L1735.11 1041.99 L1734.95 1042.39 L1734.79 1042.79 L1734.64 1043.19 L1734.49 1043.59 L1734.35 1043.99 L1734.22 1044.39 L1734.1 1044.79 L1733.99 1045.19 L1733.89 1045.59 L1733.79 1045.99 L1733.69 1046.39 L1733.6 1046.79 L1733.51 1047.19 L1733.43 1047.59 L1733.34 1047.99 L1733.26 1048.39 L1733.18 1048.79 L1733.11 1049.19 L1733.03 1049.59 L1732.96 1049.99 L1732.89 1050.39 L1732.82 1050.79 L1732.75 1051.19 L1732.68 1051.59 L1732.61 1051.99 L1732.54 1052.39 L1732.47 1052.79 L1732.4 1053.19 L1732.32 1053.59 L1732.25 1053.99 L1732.18 1054.39 L1732.1 1054.79 L1732.02 1055.19 L1731.94 1055.59 L1731.85 1055.99 L1731.77 1056.39 L1731.68 1056.79 L1731.58 1057.19 L1731.49 1057.59 L1731.39 1057.99 L1731.3 1058.39 L1731.2 1058.79 L1731.1 1059.19 L1730.99 1059.59 L1730.89 1059.99 L1730.79 1060.39 L1730.68 1060.79 L1730.58 1061.19 L1730.47 1061.59 L1730.37 1061.99 L1730.26 1062.39 L1730.15 1062.79 L1730.05 1063.19 L1729.94 1063.59 L1729.84 1063.99 L1729.74 1064.39 L1729.63 1064.79 L1729.53 1065.19 L1729.43 1065.59 L1729.33 1065.99 L1729.24 1066.39 L1729.14 1066.79 L1729.05 1067.19 L1728.96 1067.59 L1728.87 1067.99 L1728.78 1068.39 L1728.68 1068.79 L1728.57 1069.19 L1728.46 1069.59 L1728.36 1069.99 L1728.25 1070.39 L1728.15 1070.79 L1728.06 1071.19 L1727.98 1071.59 L1727.91 1071.99 L1727.85 1072.39 L1727.8 1072.79 L1727.78 1073.19 L1727.77 1073.59 L1727.78 1073.99 L1727.82 1074.39 L1727.86 1074.79 L1727.92 1075.19 L1727.97 1075.59 L1728.03 1075.99 L1728.09 1076.39 L1728.14 1076.79 L1728.17 1077.19 L1728.19 1077.59 L1728.19 1077.99 L1728.17 1078.39 L1728.13 1078.79 L1728.07 1079.19 L1728 1079.59 L1727.92 1079.99 L1727.85 1080.39 L1727.77 1080.79 L1727.71 1081.19 L1727.66 1081.59 L1727.63 1081.99 L1727.62 1082.39 L1727.6 1082.79 L1727.59 1083.19 L1727.58 1083.59 L1727.56 1083.99 L1727.55 1084.39 L1727.54 1084.79 L1727.53 1085.19 L1727.52 1085.59 L1727.52 1085.99 L1727.51 1086.39 L1727.5 1086.79 L1727.5 1087.19 L1727.49 1087.59 L1727.49 1087.99 L1727.49 1088.39 L1727.49 1088.79 L1727.49 1089.19 L1727.5 1089.59 L1727.54 1089.99 L1727.59 1090.39 L1727.66 1090.79 L1727.74 1091.19 L1727.82 1091.59 L1727.9 1091.99 L1727.96 1092.39 L1728.02 1092.79 L1728.05 1093.19 L1728.05 1093.59 L1728.05 1093.99 L1728.04 1094.39 L1728.02 1094.79 L1728 1095.19 L1727.97 1095.59 L1727.93 1095.99 L1727.89 1096.39 L1727.83 1096.79 L1727.77 1097.19 L1727.7 1097.59 L1727.62 1097.99 L1727.54 1098.39 L1726.86 1098.39 L1726.78 1097.99 L1726.7 1097.59 L1726.63 1097.19 L1726.57 1096.79 L1726.51 1096.39 L1726.47 1095.99 L1726.43 1095.59 L1726.4 1095.19 L1726.38 1094.79 L1726.36 1094.39 L1726.35 1093.99 L1726.35 1093.59 L1726.35 1093.19 L1726.38 1092.79 L1726.44 1092.39 L1726.5 1091.99 L1726.58 1091.59 L1726.66 1091.19 L1726.74 1090.79 L1726.81 1090.39 L1726.86 1089.99 L1726.9 1089.59 L1726.91 1089.19 L1726.91 1088.79 L1726.91 1088.39 L1726.91 1087.99 L1726.91 1087.59 L1726.9 1087.19 L1726.9 1086.79 L1726.89 1086.39 L1726.88 1085.99 L1726.88 1085.59 L1726.87 1085.19 L1726.86 1084.79 L1726.85 1084.39 L1726.84 1083.99 L1726.82 1083.59 L1726.81 1083.19 L1726.8 1082.79 L1726.78 1082.39 L1726.77 1081.99 L1726.74 1081.59 L1726.69 1081.19 L1726.63 1080.79 L1726.55 1080.39 L1726.48 1079.99 L1726.4 1079.59 L1726.33 1079.19 L1726.27 1078.79 L1726.23 1078.39 L1726.21 1077.99 L1726.21 1077.59 L1726.23 1077.19 L1726.26 1076.79 L1726.31 1076.39 L1726.37 1075.99 L1726.43 1075.59 L1726.48 1075.19 L1726.54 1074.79 L1726.58 1074.39 L1726.62 1073.99 L1726.63 1073.59 L1726.62 1073.19 L1726.6 1072.79 L1726.55 1072.39 L1726.49 1071.99 L1726.42 1071.59 L1726.34 1071.19 L1726.25 1070.79 L1726.15 1070.39 L1726.04 1069.99 L1725.94 1069.59 L1725.83 1069.19 L1725.72 1068.79 L1725.62 1068.39 L1725.53 1067.99 L1725.44 1067.59 L1725.35 1067.19 L1725.26 1066.79 L1725.16 1066.39 L1725.07 1065.99 L1724.97 1065.59 L1724.87 1065.19 L1724.77 1064.79 L1724.66 1064.39 L1724.56 1063.99 L1724.46 1063.59 L1724.35 1063.19 L1724.25 1062.79 L1724.14 1062.39 L1724.03 1061.99 L1723.93 1061.59 L1723.82 1061.19 L1723.72 1060.79 L1723.61 1060.39 L1723.51 1059.99 L1723.41 1059.59 L1723.3 1059.19 L1723.2 1058.79 L1723.1 1058.39 L1723.01 1057.99 L1722.91 1057.59 L1722.82 1057.19 L1722.72 1056.79 L1722.63 1056.39 L1722.55 1055.99 L1722.46 1055.59 L1722.38 1055.19 L1722.3 1054.79 L1722.22 1054.39 L1722.15 1053.99 L1722.08 1053.59 L1722 1053.19 L1721.93 1052.79 L1721.86 1052.39 L1721.79 1051.99 L1721.72 1051.59 L1721.65 1051.19 L1721.58 1050.79 L1721.51 1050.39 L1721.44 1049.99 L1721.37 1049.59 L1721.29 1049.19 L1721.22 1048.79 L1721.14 1048.39 L1721.06 1047.99 L1720.97 1047.59 L1720.89 1047.19 L1720.8 1046.79 L1720.71 1046.39 L1720.61 1045.99 L1720.51 1045.59 L1720.41 1045.19 L1720.3 1044.79 L1720.18 1044.39 L1720.05 1043.99 L1719.91 1043.59 L1719.76 1043.19 L1719.61 1042.79 L1719.45 1042.39 L1719.29 1041.99 L1719.12 1041.59 L1718.95 1041.19 L1718.77 1040.79 L1718.59 1040.39 L1718.42 1039.99 L1718.24 1039.59 L1718.06 1039.19 L1717.88 1038.79 L1717.71 1038.39 L1717.54 1037.99 L1717.38 1037.59 L1717.21 1037.19 L1717.06 1036.79 L1716.91 1036.39 L1716.77 1035.99 L1716.63 1035.59 L1716.49 1035.19 L1716.36 1034.79 L1716.22 1034.39 L1716.09 1033.99 L1715.96 1033.59 L1715.83 1033.19 L1715.71 1032.79 L1715.58 1032.39 L1715.45 1031.99 L1715.32 1031.59 L1715.2 1031.19 L1715.07 1030.79 L1714.94 1030.39 L1714.81 1029.99 L1714.67 1029.59 L1714.54 1029.19 L1714.4 1028.79 L1714.26 1028.39 L1714.12 1027.99 L1713.96 1027.59 L1713.79 1027.19 L1713.61 1026.79 L1713.41 1026.39 L1713.2 1025.99 L1712.99 1025.59 L1712.78 1025.19 L1712.57 1024.79 L1712.36 1024.39 L1712.16 1023.99 L1711.97 1023.59 L1711.8 1023.19 L1711.64 1022.79 L1711.5 1022.39 L1711.39 1021.99 L1711.31 1021.59 L1711.26 1021.19 L1711.24 1020.79 L1711.24 1020.39 L1711.25 1019.99 L1711.28 1019.59 L1711.31 1019.19 L1711.35 1018.79 L1711.39 1018.39 L1711.45 1017.99 L1711.51 1017.59 L1711.58 1017.19 L1711.65 1016.79 L1711.74 1016.39 L1711.82 1015.99 L1711.92 1015.59 L1712.01 1015.19 L1712.12 1014.79 L1712.22 1014.39 L1712.34 1013.99 L1712.45 1013.59 L1712.57 1013.19 L1712.69 1012.79 L1712.82 1012.39 L1712.95 1011.99 L1713.08 1011.59 L1713.21 1011.19 L1713.34 1010.79 L1713.48 1010.39 L1713.61 1009.99 L1713.75 1009.59 L1713.89 1009.19 L1714.02 1008.79 L1714.16 1008.39 L1714.3 1007.99 L1714.43 1007.59 L1714.57 1007.19 L1714.7 1006.79 L1714.83 1006.39 L1714.95 1005.99 L1715.08 1005.59 L1715.2 1005.19 L1715.32 1004.79 L1715.45 1004.39 L1715.58 1003.99 L1715.71 1003.59 L1715.85 1003.19 L1715.99 1002.79 L1716.14 1002.39 L1716.29 1001.99 L1716.44 1001.59 L1716.59 1001.19 L1716.75 1000.79 L1716.9 1000.39 L1717.06 999.99 L1717.22 999.59 L1717.38 999.19 L1717.54 998.79 L1717.7 998.39 L1717.86 997.99 L1718.02 997.59 L1718.18 997.19 L1718.34 996.79 L1718.5 996.39 L1718.65 995.99 L1718.81 995.59 L1718.96 995.19 L1719.1 994.79 L1719.25 994.39 L1719.39 993.99 L1719.53 993.59 L1719.66 993.19 L1719.8 992.79 L1719.92 992.39 L1720.04 991.99 L1720.16 991.59 L1720.27 991.19 L1720.37 990.79 L1720.48 990.39 L1720.57 989.99 L1720.67 989.59 L1720.76 989.19 L1720.85 988.79 L1720.94 988.39 L1721.03 987.99 L1721.12 987.59 L1721.2 987.19 L1721.28 986.79 L1721.36 986.39 L1721.44 985.99 L1721.52 985.59 L1721.59 985.19 L1721.67 984.79 L1721.74 984.39 L1721.82 983.99 L1721.89 983.59 L1721.96 983.19 L1722.04 982.79 L1722.11 982.39 L1722.18 981.99 L1722.25 981.59 L1722.33 981.19 L1722.4 980.79 L1722.47 980.39 L1722.54 979.99 L1722.62 979.59 L1722.69 979.19 L1722.77 978.79 L1722.85 978.39 L1722.93 977.99 L1723.01 977.59 L1723.09 977.19 L1723.17 976.79 L1723.25 976.39 L1723.34 975.99 L1723.44 975.59 L1723.54 975.19 L1723.64 974.79 L1723.75 974.39 L1723.86 973.99 L1723.98 973.59 L1724.09 973.19 L1724.21 972.79 L1724.33 972.39 L1724.45 971.99 L1724.57 971.59 L1724.68 971.19 L1724.8 970.79 L1724.91 970.39 L1725.03 969.99 L1725.14 969.59 L1725.24 969.19 L1725.34 968.79 L1725.44 968.39 L1725.53 967.99 L1725.62 967.59 L1725.7 967.19 L1725.77 966.79 L1725.84 966.39 L1725.9 965.99 L1725.95 965.59 L1725.99 965.19 L1726.02 964.79 L1726.05 964.39 L1726.06 963.99 L1726.06 963.59 L1726.06 963.19 L1726.05 962.79 L1726.04 962.39 L1726.03 961.99 L1726.01 961.59 L1726 961.19 L1725.98 960.79 L1725.96 960.39 L1725.94 959.99 L1725.92 959.59 L1725.9 959.19 L1725.88 958.79 L1725.86 958.39 L1725.84 957.99 L1725.82 957.59 L1725.8 957.19 L1725.78 956.79 L1725.76 956.39 L1725.75 955.99 L1725.73 955.59 L1725.71 955.19 L1725.69 954.79 L1725.67 954.39 L1725.64 953.99 L1725.62 953.59 L1725.6 953.19 L1725.58 952.79 L1725.56 952.39 L1725.55 951.99 L1725.53 951.59 L1725.52 951.19 L1725.51 950.79 L1725.5 950.39 L1725.49 949.99 L1725.49 949.59 L1725.49 949.19 L1725.51 948.79 L1725.54 948.39 L1725.58 947.99 L1725.63 947.59 L1725.69 947.19 L1725.76 946.79 L1725.84 946.39 L1725.93 945.99 L1726.02 945.59 L1726.12 945.19 L1726.23 944.79 L1726.34 944.39 L1726.46 943.99 L1726.58 943.59 L1726.71 943.19 L1726.84 942.79 L1726.97 942.39Z" fill="#469ccc" stroke="none" stroke-width="0" stroke-linejoin="round"/>
<line x1="1783.6" y1="892.8" x2="1783.6" y2="1107.2" stroke="#00a84f" stroke-width="0.9" stroke-opacity="0.5"/>
<path d="M1783.69 951.18 L1783.9 951.58 L1784.04 951.98 L1784.05 952.38 L1784.05 952.78 L1784.05 953.18 L1784.05 953.58 L1784.05 953.98 L1784.05 954.38 L1784.05 954.78 L1784.05 955.18 L1784.05 955.58 L1783.98 955.98 L1783.79 956.38 L1783.69 956.78 L1783.69 957.18 L1783.69 957.58 L1783.69 957.98 L1783.69 958.38 L1783.69 958.78 L1783.69 959.18 L1783.69 959.58 L1783.69 959.98 L1783.69 960.38 L1783.69 960.78 L1783.69 961.18 L1783.69 961.58 L1783.69 961.98 L1783.69 962.38 L1783.69 962.78 L1783.69 963.18 L1783.69 963.58 L1783.74 963.98 L1783.87 964.38 L1784.01 964.78 L1784.12 965.18 L1784.14 965.58 L1784.14 965.98 L1784.14 966.38 L1784.14 966.78 L1784.14 967.18 L1784.14 967.58 L1784.14 967.98 L1784.14 968.38 L1784.14 968.78 L1784.14 969.18 L1784.14 969.58 L1784.14 969.98 L1784.14 970.38 L1784.14 970.78 L1784.14 971.18 L1784.14 971.58 L1784.14 971.98 L1784.14 972.38 L1784.14 972.78 L1784.14 973.18 L1784.14 973.58 L1784.13 973.98 L1784.1 974.38 L1784.06 974.78 L1784.02 975.18 L1783.99 975.58 L1783.96 975.98 L1783.96 976.38 L1783.97 976.78 L1783.97 977.18 L1783.99 977.58 L1784 977.98 L1784.03 978.38 L1784.05 978.78 L1784.08 979.18 L1784.11 979.58 L1784.15 979.98 L1784.18 980.38 L1784.22 980.78 L1784.26 981.18 L1784.31 981.58 L1784.35 981.98 L1784.4 982.38 L1784.44 982.78 L1784.49 983.18 L1784.54 983.58 L1784.59 983.98 L1784.64 984.38 L1784.69 984.78 L1784.74 985.18 L1784.79 985.58 L1784.83 985.98 L1784.88 986.38 L1784.92 986.78 L1784.97 987.18 L1785.01 987.58 L1785.06 987.98 L1785.12 988.38 L1785.17 988.78 L1785.23 989.18 L1785.28 989.58 L1785.34 989.98 L1785.4 990.38 L1785.46 990.78 L1785.52 991.18 L1785.58 991.58 L1785.64 991.98 L1785.7 992.38 L1785.75 992.78 L1785.81 993.18 L1785.86 993.58 L1785.91 993.98 L1785.96 994.38 L1786 994.78 L1786.05 995.18 L1786.08 995.58 L1786.12 995.98 L1786.15 996.38 L1786.17 996.78 L1786.2 997.18 L1786.22 997.58 L1786.24 997.98 L1786.25 998.38 L1786.27 998.78 L1786.29 999.18 L1786.3 999.58 L1786.32 999.98 L1786.34 1000.38 L1786.36 1000.78 L1786.39 1001.18 L1786.42 1001.58 L1786.45 1001.98 L1786.49 1002.38 L1786.54 1002.78 L1786.61 1003.18 L1786.69 1003.58 L1786.8 1003.98 L1786.91 1004.38 L1787.04 1004.78 L1787.18 1005.18 L1787.32 1005.58 L1787.47 1005.98 L1787.63 1006.38 L1787.8 1006.78 L1787.96 1007.18 L1788.13 1007.58 L1788.29 1007.98 L1788.45 1008.38 L1788.61 1008.78 L1788.77 1009.18 L1788.94 1009.58 L1789.11 1009.98 L1789.28 1010.38 L1789.46 1010.78 L1789.65 1011.18 L1789.84 1011.58 L1790.03 1011.98 L1790.23 1012.38 L1790.43 1012.78 L1790.64 1013.18 L1790.85 1013.58 L1791.07 1013.98 L1791.29 1014.38 L1791.52 1014.78 L1791.76 1015.18 L1792 1015.58 L1792.25 1015.98 L1792.52 1016.38 L1792.82 1016.78 L1793.13 1017.18 L1793.46 1017.58 L1793.81 1017.98 L1794.17 1018.38 L1794.53 1018.78 L1794.9 1019.18 L1795.27 1019.58 L1795.64 1019.98 L1796 1020.38 L1796.35 1020.78 L1796.69 1021.18 L1797.02 1021.58 L1797.32 1021.98 L1797.6 1022.38 L1797.86 1022.78 L1798.09 1023.18 L1798.33 1023.58 L1798.57 1023.98 L1798.81 1024.38 L1799.04 1024.78 L1799.25 1025.18 L1799.44 1025.58 L1799.6 1025.98 L1799.72 1026.38 L1799.79 1026.78 L1799.81 1027.18 L1799.76 1027.58 L1799.66 1027.98 L1799.51 1028.38 L1799.32 1028.78 L1799.11 1029.18 L1798.88 1029.58 L1798.64 1029.98 L1798.41 1030.38 L1798.19 1030.78 L1797.99 1031.18 L1797.77 1031.58 L1797.52 1031.98 L1797.26 1032.38 L1797 1032.78 L1796.75 1033.18 L1796.53 1033.58 L1796.35 1033.98 L1796.24 1034.38 L1796.21 1034.78 L1796.27 1035.18 L1796.41 1035.58 L1796.6 1035.98 L1796.8 1036.38 L1796.97 1036.78 L1797.08 1037.18 L1797.1 1037.58 L1796.98 1037.98 L1796.74 1038.38 L1796.41 1038.78 L1796.02 1039.18 L1795.57 1039.58 L1795.11 1039.98 L1794.65 1040.38 L1794.21 1040.78 L1793.82 1041.18 L1793.41 1041.58 L1792.96 1041.98 L1792.5 1042.38 L1792.04 1042.78 L1791.59 1043.18 L1791.18 1043.58 L1790.81 1043.98 L1790.51 1044.38 L1790.28 1044.78 L1790.1 1045.18 L1789.93 1045.58 L1789.78 1045.98 L1789.65 1046.38 L1789.52 1046.78 L1789.41 1047.18 L1789.3 1047.58 L1789.19 1047.98 L1789.08 1048.38 L1788.97 1048.78 L1788.85 1049.18 L1788.72 1049.58 L1788.58 1049.98 L1788.41 1050.38 L1788.22 1050.78 L1788 1051.18 L1787.77 1051.58 L1787.54 1051.98 L1787.29 1052.38 L1787.06 1052.78 L1786.84 1053.18 L1786.63 1053.58 L1786.45 1053.98 L1786.3 1054.38 L1786.2 1054.78 L1786.13 1055.18 L1786.12 1055.58 L1786.13 1055.98 L1786.15 1056.38 L1786.18 1056.78 L1786.21 1057.18 L1786.24 1057.58 L1786.26 1057.98 L1786.28 1058.38 L1786.3 1058.78 L1786.3 1059.18 L1786.23 1059.58 L1786.09 1059.98 L1785.9 1060.38 L1785.67 1060.78 L1785.43 1061.18 L1785.19 1061.58 L1784.96 1061.98 L1784.78 1062.38 L1784.64 1062.78 L1784.52 1063.18 L1784.41 1063.58 L1784.3 1063.98 L1784.19 1064.38 L1784.09 1064.78 L1784 1065.18 L1783.91 1065.58 L1783.84 1065.98 L1783.77 1066.38 L1783.71 1066.78 L1783.49 1066.78 L1783.43 1066.38 L1783.36 1065.98 L1783.29 1065.58 L1783.2 1065.18 L1783.11 1064.78 L1783.01 1064.38 L1782.9 1063.98 L1782.79 1063.58 L1782.68 1063.18 L1782.56 1062.78 L1782.42 1062.38 L1782.24 1061.98 L1782.01 1061.58 L1781.77 1061.18 L1781.53 1060.78 L1781.3 1060.38 L1781.11 1059.98 L1780.97 1059.58 L1780.9 1059.18 L1780.9 1058.78 L1780.92 1058.38 L1780.94 1057.98 L1780.96 1057.58 L1780.99 1057.18 L1781.02 1056.78 L1781.05 1056.38 L1781.07 1055.98 L1781.08 1055.58 L1781.07 1055.18 L1781 1054.78 L1780.9 1054.38 L1780.75 1053.98 L1780.57 1053.58 L1780.36 1053.18 L1780.14 1052.78 L1779.91 1052.38 L1779.66 1051.98 L1779.43 1051.58 L1779.2 1051.18 L1778.98 1050.78 L1778.79 1050.38 L1778.62 1049.98 L1778.48 1049.58 L1778.35 1049.18 L1778.23 1048.78 L1778.12 1048.38 L1778.01 1047.98 L1777.9 1047.58 L1777.79 1047.18 L1777.68 1046.78 L1777.55 1046.38 L1777.42 1045.98 L1777.27 1045.58 L1777.1 1045.18 L1776.92 1044.78 L1776.69 1044.38 L1776.39 1043.98 L1776.02 1043.58 L1775.61 1043.18 L1775.16 1042.78 L1774.7 1042.38 L1774.24 1041.98 L1773.79 1041.58 L1773.38 1041.18 L1772.99 1040.78 L1772.55 1040.38 L1772.09 1039.98 L1771.63 1039.58 L1771.18 1039.18 L1770.79 1038.78 L1770.46 1038.38 L1770.22 1037.98 L1770.1 1037.58 L1770.12 1037.18 L1770.23 1036.78 L1770.4 1036.38 L1770.6 1035.98 L1770.79 1035.58 L1770.93 1035.18 L1770.99 1034.78 L1770.96 1034.38 L1770.85 1033.98 L1770.67 1033.58 L1770.45 1033.18 L1770.2 1032.78 L1769.94 1032.38 L1769.68 1031.98 L1769.43 1031.58 L1769.21 1031.18 L1769.01 1030.78 L1768.79 1030.38 L1768.56 1029.98 L1768.32 1029.58 L1768.09 1029.18 L1767.88 1028.78 L1767.69 1028.38 L1767.54 1027.98 L1767.44 1027.58 L1767.39 1027.18 L1767.41 1026.78 L1767.48 1026.38 L1767.6 1025.98 L1767.76 1025.58 L1767.95 1025.18 L1768.16 1024.78 L1768.39 1024.38 L1768.63 1023.98 L1768.87 1023.58 L1769.11 1023.18 L1769.34 1022.78 L1769.6 1022.38 L1769.88 1021.98 L1770.18 1021.58 L1770.51 1021.18 L1770.85 1020.78 L1771.2 1020.38 L1771.56 1019.98 L1771.93 1019.58 L1772.3 1019.18 L1772.67 1018.78 L1773.03 1018.38 L1773.39 1017.98 L1773.74 1017.58 L1774.07 1017.18 L1774.38 1016.78 L1774.68 1016.38 L1774.95 1015.98 L1775.2 1015.58 L1775.44 1015.18 L1775.68 1014.78 L1775.91 1014.38 L1776.13 1013.98 L1776.35 1013.58 L1776.56 1013.18 L1776.77 1012.78 L1776.97 1012.38 L1777.17 1011.98 L1777.36 1011.58 L1777.55 1011.18 L1777.74 1010.78 L1777.92 1010.38 L1778.09 1009.98 L1778.26 1009.58 L1778.43 1009.18 L1778.59 1008.78 L1778.75 1008.38 L1778.91 1007.98 L1779.07 1007.58 L1779.24 1007.18 L1779.4 1006.78 L1779.57 1006.38 L1779.73 1005.98 L1779.88 1005.58 L1780.02 1005.18 L1780.16 1004.78 L1780.29 1004.38 L1780.4 1003.98 L1780.51 1003.58 L1780.59 1003.18 L1780.66 1002.78 L1780.71 1002.38 L1780.75 1001.98 L1780.78 1001.58 L1780.81 1001.18 L1780.84 1000.78 L1780.86 1000.38 L1780.88 999.98 L1780.9 999.58 L1780.91 999.18 L1780.93 998.78 L1780.95 998.38 L1780.96 997.98 L1780.98 997.58 L1781 997.18 L1781.03 996.78 L1781.05 996.38 L1781.08 995.98 L1781.12 995.58 L1781.15 995.18 L1781.2 994.78 L1781.24 994.38 L1781.29 993.98 L1781.34 993.58 L1781.39 993.18 L1781.45 992.78 L1781.5 992.38 L1781.56 991.98 L1781.62 991.58 L1781.68 991.18 L1781.74 990.78 L1781.8 990.38 L1781.86 989.98 L1781.92 989.58 L1781.97 989.18 L1782.03 988.78 L1782.08 988.38 L1782.14 987.98 L1782.19 987.58 L1782.23 987.18 L1782.28 986.78 L1782.32 986.38 L1782.37 985.98 L1782.41 985.58 L1782.46 985.18 L1782.51 984.78 L1782.56 984.38 L1782.61 983.98 L1782.66 983.58 L1782.71 983.18 L1782.76 982.78 L1782.8 982.38 L1782.85 981.98 L1782.89 981.58 L1782.94 981.18 L1782.98 980.78 L1783.02 980.38 L1783.05 979.98 L1783.09 979.58 L1783.12 979.18 L1783.15 978.78 L1783.17 978.38 L1783.2 977.98 L1783.21 977.58 L1783.23 977.18 L1783.23 976.78 L1783.24 976.38 L1783.24 975.98 L1783.21 975.58 L1783.18 975.18 L1783.14 974.78 L1783.1 974.38 L1783.07 973.98 L1783.06 973.58 L1783.06 973.18 L1783.06 972.78 L1783.06 972.38 L1783.06 971.98 L1783.06 971.58 L1783.06 971.18 L1783.06 970.78 L1783.06 970.38 L1783.06 969.98 L1783.06 969.58 L1783.06 969.18 L1783.06 968.78 L1783.06 968.38 L1783.06 967.98 L1783.06 967.58 L1783.06 967.18 L1783.06 966.78 L1783.06 966.38 L1783.06 965.98 L1783.06 965.58 L1783.08 965.18 L1783.19 964.78 L1783.33 964.38 L1783.46 963.98 L1783.51 963.58 L1783.51 963.18 L1783.51 962.78 L1783.51 962.38 L1783.51 961.98 L1783.51 961.58 L1783.51 961.18 L1783.51 960.78 L1783.51 960.38 L1783.51 959.98 L1783.51 959.58 L1783.51 959.18 L1783.51 958.78 L1783.51 958.38 L1783.51 957.98 L1783.51 957.58 L1783.51 957.18 L1783.51 956.78 L1783.41 956.38 L1783.22 955.98 L1783.15 955.58 L1783.15 955.18 L1783.15 954.78 L1783.15 954.38 L1783.15 953.98 L1783.15 953.58 L1783.15 953.18 L1783.15 952.78 L1783.15 952.38 L1783.16 951.98 L1783.3 951.58 L1783.51 951.18Z" fill="#00a84f" stroke="none" stroke-width="0" stroke-linejoin="round"/>
<rect x="1782.8" y="1097" width="1.6" height="9.8" fill="#00a84f" stroke="none" stroke-width="1"/>
<line x1="1840.4" y1="912.3" x2="1840.4" y2="1107.2" stroke="#e9e01a" stroke-width="0.9" stroke-opacity="0.5"/>
<path d="M1840.47 911.83 L1840.59 912.23 L1840.67 912.63 L1840.67 913.03 L1840.67 913.43 L1840.67 913.83 L1840.67 914.23 L1840.67 914.63 L1840.67 915.03 L1840.67 915.43 L1840.67 915.83 L1840.67 916.23 L1840.67 916.63 L1840.67 917.03 L1840.67 917.43 L1840.66 917.83 L1840.54 918.23 L1840.47 918.63 L1840.47 919.03 L1840.47 919.43 L1840.47 919.83 L1840.47 920.23 L1840.47 920.63 L1840.47 921.03 L1840.47 921.43 L1840.47 921.83 L1840.47 922.23 L1840.47 922.63 L1840.47 923.03 L1840.47 923.43 L1840.47 923.83 L1840.47 924.23 L1840.47 924.63 L1840.47 925.03 L1840.47 925.43 L1840.47 925.83 L1840.47 926.23 L1840.47 926.63 L1840.47 927.03 L1840.47 927.43 L1840.47 927.83 L1840.47 928.23 L1840.47 928.63 L1840.47 929.03 L1840.47 929.43 L1840.47 929.83 L1840.47 930.23 L1840.47 930.63 L1840.47 931.03 L1840.47 931.43 L1840.47 931.83 L1840.47 932.23 L1840.47 932.63 L1840.47 933.03 L1840.47 933.43 L1840.47 933.83 L1840.47 934.23 L1840.47 934.63 L1840.47 935.03 L1840.47 935.43 L1840.47 935.83 L1840.47 936.23 L1840.47 936.63 L1840.47 937.03 L1840.47 937.43 L1840.47 937.83 L1840.47 938.23 L1840.47 938.63 L1840.47 939.03 L1840.47 939.43 L1840.47 939.83 L1840.47 940.23 L1840.47 940.63 L1840.47 941.03 L1840.47 941.43 L1840.47 941.83 L1840.47 942.23 L1840.47 942.63 L1840.47 943.03 L1840.47 943.43 L1840.47 943.83 L1840.47 944.23 L1840.47 944.63 L1840.47 945.03 L1840.47 945.43 L1840.47 945.83 L1840.47 946.23 L1840.47 946.63 L1840.47 947.03 L1840.47 947.43 L1840.47 947.83 L1840.47 948.23 L1840.47 948.63 L1840.47 949.03 L1840.47 949.43 L1840.48 949.83 L1840.48 950.23 L1840.48 950.63 L1840.48 951.03 L1840.48 951.43 L1840.48 951.83 L1840.48 952.23 L1840.48 952.63 L1840.48 953.03 L1840.48 953.43 L1840.48 953.83 L1840.48 954.23 L1840.48 954.63 L1840.48 955.03 L1840.48 955.43 L1840.48 955.83 L1840.48 956.23 L1840.48 956.63 L1840.48 957.03 L1840.48 957.43 L1840.48 957.83 L1840.48 958.23 L1840.48 958.63 L1840.48 959.03 L1840.48 959.43 L1840.48 959.83 L1840.48 960.23 L1840.48 960.63 L1840.48 961.03 L1840.48 961.43 L1840.48 961.83 L1840.48 962.23 L1840.48 962.63 L1840.48 963.03 L1840.48 963.43 L1840.48 963.83 L1840.48 964.23 L1840.48 964.63 L1840.48 965.03 L1840.48 965.43 L1840.48 965.83 L1840.48 966.23 L1840.48 966.63 L1840.48 967.03 L1840.48 967.43 L1840.48 967.83 L1840.48 968.23 L1840.48 968.63 L1840.48 969.03 L1840.48 969.43 L1840.48 969.83 L1840.49 970.23 L1840.49 970.63 L1840.49 971.03 L1840.49 971.43 L1840.49 971.83 L1840.49 972.23 L1840.49 972.63 L1840.49 973.03 L1840.49 973.43 L1840.49 973.83 L1840.49 974.23 L1840.49 974.63 L1840.49 975.03 L1840.49 975.43 L1840.49 975.83 L1840.49 976.23 L1840.61 976.63 L1840.75 977.03 L1840.76 977.43 L1840.76 977.83 L1840.76 978.23 L1840.76 978.63 L1840.76 979.03 L1840.76 979.43 L1840.76 979.83 L1840.76 980.23 L1840.76 980.63 L1840.76 981.03 L1840.76 981.43 L1840.76 981.83 L1840.76 982.23 L1840.76 982.63 L1840.76 983.03 L1840.76 983.43 L1840.76 983.83 L1840.76 984.23 L1840.76 984.63 L1840.76 985.03 L1840.76 985.43 L1840.76 985.83 L1840.77 986.23 L1840.77 986.63 L1840.78 987.03 L1840.79 987.43 L1840.81 987.83 L1840.82 988.23 L1840.84 988.63 L1840.86 989.03 L1840.87 989.43 L1840.9 989.83 L1840.92 990.23 L1840.94 990.63 L1840.98 991.03 L1841.04 991.43 L1841.13 991.83 L1841.22 992.23 L1841.32 992.63 L1841.42 993.03 L1841.52 993.43 L1841.6 993.83 L1841.66 994.23 L1841.71 994.63 L1841.75 995.03 L1841.78 995.43 L1841.81 995.83 L1841.84 996.23 L1841.87 996.63 L1841.91 997.03 L1841.96 997.43 L1842.02 997.83 L1842.15 998.23 L1842.34 998.63 L1842.55 999.03 L1842.7 999.43 L1842.77 999.83 L1842.81 1000.23 L1842.85 1000.63 L1842.88 1001.03 L1842.91 1001.43 L1842.93 1001.83 L1842.95 1002.23 L1842.97 1002.63 L1842.99 1003.03 L1843.01 1003.43 L1843.03 1003.83 L1843.05 1004.23 L1843.07 1004.63 L1843.1 1005.03 L1843.13 1005.43 L1843.16 1005.83 L1843.19 1006.23 L1843.21 1006.63 L1843.24 1007.03 L1843.27 1007.43 L1843.3 1007.83 L1843.33 1008.23 L1843.36 1008.63 L1843.4 1009.03 L1843.44 1009.43 L1843.48 1009.83 L1843.53 1010.23 L1843.58 1010.63 L1843.64 1011.03 L1843.72 1011.43 L1843.8 1011.83 L1843.9 1012.23 L1844.01 1012.63 L1844.12 1013.03 L1844.25 1013.43 L1844.38 1013.83 L1844.53 1014.23 L1844.72 1014.63 L1844.94 1015.03 L1845.19 1015.43 L1845.46 1015.83 L1845.74 1016.23 L1846.03 1016.63 L1846.31 1017.03 L1846.58 1017.43 L1846.83 1017.83 L1847.1 1018.23 L1847.38 1018.63 L1847.67 1019.03 L1847.95 1019.43 L1848.22 1019.83 L1848.47 1020.23 L1848.69 1020.63 L1848.88 1021.03 L1849.02 1021.43 L1849.14 1021.83 L1849.23 1022.23 L1849.31 1022.63 L1849.39 1023.03 L1849.46 1023.43 L1849.55 1023.83 L1849.65 1024.23 L1849.78 1024.63 L1849.94 1025.03 L1850.18 1025.43 L1850.48 1025.83 L1850.82 1026.23 L1851.2 1026.63 L1851.68 1027.03 L1852.31 1027.43 L1853.01 1027.83 L1853.72 1028.23 L1854.39 1028.63 L1854.95 1029.03 L1855.34 1029.43 L1855.66 1029.83 L1855.98 1030.23 L1856.26 1030.63 L1856.5 1031.03 L1856.68 1031.43 L1856.77 1031.83 L1856.76 1032.23 L1856.6 1032.63 L1856.32 1033.03 L1855.98 1033.43 L1855.66 1033.83 L1855.4 1034.23 L1855.26 1034.63 L1855.35 1035.03 L1855.7 1035.43 L1856.15 1035.83 L1856.5 1036.23 L1856.61 1036.63 L1856.57 1037.03 L1856.48 1037.43 L1856.35 1037.83 L1856.19 1038.23 L1856.01 1038.63 L1855.81 1039.03 L1855.6 1039.43 L1855.28 1039.83 L1854.87 1040.23 L1854.39 1040.63 L1853.87 1041.03 L1853.33 1041.43 L1852.8 1041.83 L1852.3 1042.23 L1851.86 1042.63 L1851.49 1043.03 L1851.15 1043.43 L1850.83 1043.83 L1850.53 1044.23 L1850.24 1044.63 L1849.96 1045.03 L1849.68 1045.43 L1849.4 1045.83 L1849.11 1046.23 L1848.81 1046.63 L1848.5 1047.03 L1848.18 1047.43 L1847.86 1047.83 L1847.55 1048.23 L1847.23 1048.63 L1846.93 1049.03 L1846.65 1049.43 L1846.38 1049.83 L1846.14 1050.23 L1845.93 1050.63 L1845.73 1051.03 L1845.54 1051.43 L1845.36 1051.83 L1845.18 1052.23 L1844.99 1052.63 L1844.79 1053.03 L1844.58 1053.43 L1844.33 1053.83 L1844.04 1054.23 L1843.7 1054.63 L1843.34 1055.03 L1842.97 1055.43 L1842.62 1055.83 L1842.3 1056.23 L1842.03 1056.63 L1841.83 1057.03 L1841.7 1057.43 L1841.59 1057.83 L1841.49 1058.23 L1841.39 1058.63 L1841.29 1059.03 L1841.2 1059.43 L1841.11 1059.83 L1841.03 1060.23 L1840.95 1060.63 L1840.88 1061.03 L1840.81 1061.43 L1840.75 1061.83 L1840.7 1062.23 L1840.65 1062.63 L1840.61 1063.03 L1840.57 1063.43 L1840.54 1063.83 L1840.52 1064.23 L1840.5 1064.63 L1840.49 1065.03 L1840.31 1065.03 L1840.3 1064.63 L1840.28 1064.23 L1840.26 1063.83 L1840.23 1063.43 L1840.19 1063.03 L1840.15 1062.63 L1840.1 1062.23 L1840.05 1061.83 L1839.99 1061.43 L1839.92 1061.03 L1839.85 1060.63 L1839.77 1060.23 L1839.69 1059.83 L1839.6 1059.43 L1839.51 1059.03 L1839.41 1058.63 L1839.31 1058.23 L1839.21 1057.83 L1839.1 1057.43 L1838.97 1057.03 L1838.77 1056.63 L1838.5 1056.23 L1838.18 1055.83 L1837.83 1055.43 L1837.46 1055.03 L1837.1 1054.63 L1836.76 1054.23 L1836.47 1053.83 L1836.22 1053.43 L1836.01 1053.03 L1835.81 1052.63 L1835.62 1052.23 L1835.44 1051.83 L1835.26 1051.43 L1835.07 1051.03 L1834.87 1050.63 L1834.66 1050.23 L1834.42 1049.83 L1834.15 1049.43 L1833.87 1049.03 L1833.57 1048.63 L1833.25 1048.23 L1832.94 1047.83 L1832.62 1047.43 L1832.3 1047.03 L1831.99 1046.63 L1831.69 1046.23 L1831.4 1045.83 L1831.12 1045.43 L1830.84 1045.03 L1830.56 1044.63 L1830.27 1044.23 L1829.97 1043.83 L1829.65 1043.43 L1829.31 1043.03 L1828.94 1042.63 L1828.5 1042.23 L1828 1041.83 L1827.47 1041.43 L1826.93 1041.03 L1826.41 1040.63 L1825.93 1040.23 L1825.52 1039.83 L1825.2 1039.43 L1824.99 1039.03 L1824.79 1038.63 L1824.61 1038.23 L1824.45 1037.83 L1824.32 1037.43 L1824.23 1037.03 L1824.19 1036.63 L1824.3 1036.23 L1824.65 1035.83 L1825.1 1035.43 L1825.45 1035.03 L1825.54 1034.63 L1825.4 1034.23 L1825.14 1033.83 L1824.82 1033.43 L1824.48 1033.03 L1824.2 1032.63 L1824.04 1032.23 L1824.03 1031.83 L1824.12 1031.43 L1824.3 1031.03 L1824.54 1030.63 L1824.82 1030.23 L1825.14 1029.83 L1825.46 1029.43 L1825.85 1029.03 L1826.41 1028.63 L1827.08 1028.23 L1827.79 1027.83 L1828.49 1027.43 L1829.12 1027.03 L1829.6 1026.63 L1829.98 1026.23 L1830.32 1025.83 L1830.62 1025.43 L1830.86 1025.03 L1831.02 1024.63 L1831.15 1024.23 L1831.25 1023.83 L1831.34 1023.43 L1831.41 1023.03 L1831.49 1022.63 L1831.57 1022.23 L1831.66 1021.83 L1831.78 1021.43 L1831.92 1021.03 L1832.11 1020.63 L1832.33 1020.23 L1832.58 1019.83 L1832.85 1019.43 L1833.13 1019.03 L1833.42 1018.63 L1833.7 1018.23 L1833.97 1017.83 L1834.22 1017.43 L1834.49 1017.03 L1834.77 1016.63 L1835.06 1016.23 L1835.34 1015.83 L1835.61 1015.43 L1835.86 1015.03 L1836.08 1014.63 L1836.27 1014.23 L1836.42 1013.83 L1836.55 1013.43 L1836.68 1013.03 L1836.79 1012.63 L1836.9 1012.23 L1837 1011.83 L1837.08 1011.43 L1837.16 1011.03 L1837.22 1010.63 L1837.27 1010.23 L1837.32 1009.83 L1837.36 1009.43 L1837.4 1009.03 L1837.44 1008.63 L1837.47 1008.23 L1837.5 1007.83 L1837.53 1007.43 L1837.56 1007.03 L1837.59 1006.63 L1837.61 1006.23 L1837.64 1005.83 L1837.67 1005.43 L1837.7 1005.03 L1837.73 1004.63 L1837.75 1004.23 L1837.77 1003.83 L1837.79 1003.43 L1837.81 1003.03 L1837.83 1002.63 L1837.85 1002.23 L1837.87 1001.83 L1837.89 1001.43 L1837.92 1001.03 L1837.95 1000.63 L1837.99 1000.23 L1838.03 999.83 L1838.1 999.43 L1838.25 999.03 L1838.46 998.63 L1838.65 998.23 L1838.78 997.83 L1838.84 997.43 L1838.89 997.03 L1838.93 996.63 L1838.96 996.23 L1838.99 995.83 L1839.02 995.43 L1839.05 995.03 L1839.09 994.63 L1839.14 994.23 L1839.2 993.83 L1839.28 993.43 L1839.38 993.03 L1839.48 992.63 L1839.58 992.23 L1839.67 991.83 L1839.76 991.43 L1839.82 991.03 L1839.86 990.63 L1839.88 990.23 L1839.9 989.83 L1839.93 989.43 L1839.94 989.03 L1839.96 988.63 L1839.98 988.23 L1839.99 987.83 L1840.01 987.43 L1840.02 987.03 L1840.03 986.63 L1840.03 986.23 L1840.04 985.83 L1840.04 985.43 L1840.04 985.03 L1840.04 984.63 L1840.04 984.23 L1840.04 983.83 L1840.04 983.43 L1840.04 983.03 L1840.04 982.63 L1840.04 982.23 L1840.04 981.83 L1840.04 981.43 L1840.04 981.03 L1840.04 980.63 L1840.04 980.23 L1840.04 979.83 L1840.04 979.43 L1840.04 979.03 L1840.04 978.63 L1840.04 978.23 L1840.04 977.83 L1840.04 977.43 L1840.05 977.03 L1840.19 976.63 L1840.31 976.23 L1840.31 975.83 L1840.31 975.43 L1840.31 975.03 L1840.31 974.63 L1840.31 974.23 L1840.31 973.83 L1840.31 973.43 L1840.31 973.03 L1840.31 972.63 L1840.31 972.23 L1840.31 971.83 L1840.31 971.43 L1840.31 971.03 L1840.31 970.63 L1840.31 970.23 L1840.32 969.83 L1840.32 969.43 L1840.32 969.03 L1840.32 968.63 L1840.32 968.23 L1840.32 967.83 L1840.32 967.43 L1840.32 967.03 L1840.32 966.63 L1840.32 966.23 L1840.32 965.83 L1840.32 965.43 L1840.32 965.03 L1840.32 964.63 L1840.32 964.23 L1840.32 963.83 L1840.32 963.43 L1840.32 963.03 L1840.32 962.63 L1840.32 962.23 L1840.32 961.83 L1840.32 961.43 L1840.32 961.03 L1840.32 960.63 L1840.32 960.23 L1840.32 959.83 L1840.32 959.43 L1840.32 959.03 L1840.32 958.63 L1840.32 958.23 L1840.32 957.83 L1840.32 957.43 L1840.32 957.03 L1840.32 956.63 L1840.32 956.23 L1840.32 955.83 L1840.32 955.43 L1840.32 955.03 L1840.32 954.63 L1840.32 954.23 L1840.32 953.83 L1840.32 953.43 L1840.32 953.03 L1840.32 952.63 L1840.32 952.23 L1840.32 951.83 L1840.32 951.43 L1840.32 951.03 L1840.32 950.63 L1840.32 950.23 L1840.32 949.83 L1840.33 949.43 L1840.33 949.03 L1840.33 948.63 L1840.33 948.23 L1840.33 947.83 L1840.33 947.43 L1840.33 947.03 L1840.33 946.63 L1840.33 946.23 L1840.33 945.83 L1840.33 945.43 L1840.33 945.03 L1840.33 944.63 L1840.33 944.23 L1840.33 943.83 L1840.33 943.43 L1840.33 943.03 L1840.33 942.63 L1840.33 942.23 L1840.33 941.83 L1840.33 941.43 L1840.33 941.03 L1840.33 940.63 L1840.33 940.23 L1840.33 939.83 L1840.33 939.43 L1840.33 939.03 L1840.33 938.63 L1840.33 938.23 L1840.33 937.83 L1840.33 937.43 L1840.33 937.03 L1840.33 936.63 L1840.33 936.23 L1840.33 935.83 L1840.33 935.43 L1840.33 935.03 L1840.33 934.63 L1840.33 934.23 L1840.33 933.83 L1840.33 933.43 L1840.33 933.03 L1840.33 932.63 L1840.33 932.23 L1840.33 931.83 L1840.33 931.43 L1840.33 931.03 L1840.33 930.63 L1840.33 930.23 L1840.33 929.83 L1840.33 929.43 L1840.33 929.03 L1840.33 928.63 L1840.33 928.23 L1840.33 927.83 L1840.33 927.43 L1840.33 927.03 L1840.33 926.63 L1840.33 926.23 L1840.33 925.83 L1840.33 925.43 L1840.33 925.03 L1840.33 924.63 L1840.33 924.23 L1840.33 923.83 L1840.33 923.43 L1840.33 923.03 L1840.33 922.63 L1840.33 922.23 L1840.33 921.83 L1840.33 921.43 L1840.33 921.03 L1840.33 920.63 L1840.33 920.23 L1840.33 919.83 L1840.33 919.43 L1840.33 919.03 L1840.33 918.63 L1840.26 918.23 L1840.14 917.83 L1840.13 917.43 L1840.13 917.03 L1840.13 916.63 L1840.13 916.23 L1840.13 915.83 L1840.13 915.43 L1840.13 915.03 L1840.13 914.63 L1840.13 914.23 L1840.13 913.83 L1840.13 913.43 L1840.13 913.03 L1840.13 912.63 L1840.21 912.23 L1840.33 911.83Z" fill="#e9e01a" stroke="none" stroke-width="0" stroke-linejoin="round"/>
<rect x="1839.7" y="1102" width="1.4" height="4.8" fill="#e9e01a" stroke="none" stroke-width="1"/>
<line x1="1897.3" y1="910.3" x2="1897.3" y2="1107.2" stroke="#e28b25" stroke-width="0.9" stroke-opacity="0.5"/>
<path d="M1897.39 1005.02 L1897.42 1005.42 L1897.46 1005.82 L1897.5 1006.22 L1897.55 1006.62 L1897.6 1007.02 L1897.66 1007.42 L1897.72 1007.82 L1897.8 1008.22 L1897.87 1008.62 L1897.95 1009.02 L1898.03 1009.42 L1898.12 1009.82 L1898.19 1010.22 L1898.27 1010.62 L1898.33 1011.02 L1898.39 1011.42 L1898.45 1011.82 L1898.5 1012.22 L1898.55 1012.62 L1898.6 1013.02 L1898.65 1013.42 L1898.7 1013.82 L1898.74 1014.22 L1898.79 1014.62 L1898.83 1015.02 L1898.88 1015.42 L1898.92 1015.82 L1898.96 1016.22 L1898.99 1016.62 L1899.02 1017.02 L1899.05 1017.42 L1899.09 1017.82 L1899.12 1018.22 L1899.16 1018.62 L1899.22 1019.02 L1899.28 1019.42 L1899.42 1019.82 L1899.67 1020.22 L1899.99 1020.62 L1900.32 1021.02 L1900.61 1021.42 L1900.83 1021.82 L1900.91 1022.22 L1900.94 1022.62 L1900.96 1023.02 L1900.98 1023.42 L1900.99 1023.82 L1901 1024.22 L1901.01 1024.62 L1901.03 1025.02 L1901.05 1025.42 L1901.1 1025.82 L1901.29 1026.22 L1901.65 1026.62 L1902.14 1027.02 L1902.69 1027.42 L1903.26 1027.82 L1903.8 1028.22 L1904.27 1028.62 L1904.7 1029.02 L1905.13 1029.42 L1905.57 1029.82 L1906.03 1030.22 L1906.52 1030.62 L1907.05 1031.02 L1907.67 1031.42 L1908.45 1031.82 L1909.32 1032.22 L1910.2 1032.62 L1911.01 1033.02 L1911.69 1033.42 L1912.15 1033.82 L1912.46 1034.22 L1912.74 1034.62 L1913 1035.02 L1913.22 1035.42 L1913.38 1035.82 L1913.48 1036.22 L1913.51 1036.62 L1913.51 1037.02 L1913.51 1037.42 L1913.51 1037.82 L1913.51 1038.22 L1913.51 1038.62 L1913.51 1039.02 L1913.51 1039.42 L1913.51 1039.82 L1913.51 1040.22 L1913.51 1040.62 L1913.51 1041.02 L1913.51 1041.42 L1913.51 1041.82 L1913.44 1042.22 L1913.15 1042.62 L1912.69 1043.02 L1912.12 1043.42 L1911.5 1043.82 L1910.9 1044.22 L1910.38 1044.62 L1909.92 1045.02 L1909.46 1045.42 L1909 1045.82 L1908.54 1046.22 L1908.09 1046.62 L1907.64 1047.02 L1907.19 1047.42 L1906.75 1047.82 L1906.33 1048.22 L1905.9 1048.62 L1905.48 1049.02 L1905.05 1049.42 L1904.63 1049.82 L1904.22 1050.22 L1903.82 1050.62 L1903.44 1051.02 L1903.07 1051.42 L1902.72 1051.82 L1902.35 1052.22 L1901.95 1052.62 L1901.61 1053.02 L1901.39 1053.42 L1901.35 1053.82 L1901.35 1054.22 L1901.35 1054.62 L1901.35 1055.02 L1901.35 1055.42 L1901.16 1055.82 L1900.64 1056.22 L1899.97 1056.62 L1899.36 1057.02 L1898.94 1057.42 L1898.57 1057.82 L1898.24 1058.22 L1897.96 1058.62 L1897.76 1059.02 L1897.61 1059.42 L1897.48 1059.82 L1897.4 1060.22 L1897.39 1060.62 L1897.39 1061.02 L1897.41 1061.42 L1897.67 1061.82 L1897.84 1062.22 L1897.84 1062.62 L1897.84 1063.02 L1897.84 1063.42 L1897.84 1063.82 L1897.84 1064.22 L1897.84 1064.62 L1897.84 1065.02 L1897.84 1065.42 L1897.84 1065.82 L1897.84 1066.22 L1897.84 1066.62 L1897.84 1067.02 L1897.84 1067.42 L1897.84 1067.82 L1897.84 1068.22 L1897.83 1068.62 L1897.63 1069.02 L1896.97 1069.02 L1896.77 1068.62 L1896.76 1068.22 L1896.76 1067.82 L1896.76 1067.42 L1896.76 1067.02 L1896.76 1066.62 L1896.76 1066.22 L1896.76 1065.82 L1896.76 1065.42 L1896.76 1065.02 L1896.76 1064.62 L1896.76 1064.22 L1896.76 1063.82 L1896.76 1063.42 L1896.76 1063.02 L1896.76 1062.62 L1896.76 1062.22 L1896.93 1061.82 L1897.19 1061.42 L1897.21 1061.02 L1897.21 1060.62 L1897.2 1060.22 L1897.12 1059.82 L1896.99 1059.42 L1896.84 1059.02 L1896.64 1058.62 L1896.36 1058.22 L1896.03 1057.82 L1895.66 1057.42 L1895.24 1057.02 L1894.63 1056.62 L1893.96 1056.22 L1893.44 1055.82 L1893.25 1055.42 L1893.25 1055.02 L1893.25 1054.62 L1893.25 1054.22 L1893.25 1053.82 L1893.21 1053.42 L1892.99 1053.02 L1892.65 1052.62 L1892.25 1052.22 L1891.88 1051.82 L1891.53 1051.42 L1891.16 1051.02 L1890.78 1050.62 L1890.38 1050.22 L1889.97 1049.82 L1889.55 1049.42 L1889.12 1049.02 L1888.7 1048.62 L1888.27 1048.22 L1887.85 1047.82 L1887.41 1047.42 L1886.96 1047.02 L1886.51 1046.62 L1886.06 1046.22 L1885.6 1045.82 L1885.14 1045.42 L1884.68 1045.02 L1884.22 1044.62 L1883.7 1044.22 L1883.1 1043.82 L1882.48 1043.42 L1881.91 1043.02 L1881.45 1042.62 L1881.16 1042.22 L1881.09 1041.82 L1881.09 1041.42 L1881.09 1041.02 L1881.09 1040.62 L1881.09 1040.22 L1881.09 1039.82 L1881.09 1039.42 L1881.09 1039.02 L1881.09 1038.62 L1881.09 1038.22 L1881.09 1037.82 L1881.09 1037.42 L1881.09 1037.02 L1881.09 1036.62 L1881.12 1036.22 L1881.22 1035.82 L1881.38 1035.42 L1881.6 1035.02 L1881.86 1034.62 L1882.14 1034.22 L1882.45 1033.82 L1882.91 1033.42 L1883.59 1033.02 L1884.4 1032.62 L1885.28 1032.22 L1886.15 1031.82 L1886.93 1031.42 L1887.55 1031.02 L1888.08 1030.62 L1888.57 1030.22 L1889.03 1029.82 L1889.47 1029.42 L1889.9 1029.02 L1890.33 1028.62 L1890.8 1028.22 L1891.34 1027.82 L1891.91 1027.42 L1892.46 1027.02 L1892.95 1026.62 L1893.31 1026.22 L1893.5 1025.82 L1893.55 1025.42 L1893.57 1025.02 L1893.59 1024.62 L1893.6 1024.22 L1893.61 1023.82 L1893.62 1023.42 L1893.64 1023.02 L1893.66 1022.62 L1893.69 1022.22 L1893.77 1021.82 L1893.99 1021.42 L1894.28 1021.02 L1894.61 1020.62 L1894.93 1020.22 L1895.18 1019.82 L1895.32 1019.42 L1895.38 1019.02 L1895.44 1018.62 L1895.48 1018.22 L1895.51 1017.82 L1895.55 1017.42 L1895.58 1017.02 L1895.61 1016.62 L1895.64 1016.22 L1895.68 1015.82 L1895.72 1015.42 L1895.77 1015.02 L1895.81 1014.62 L1895.86 1014.22 L1895.9 1013.82 L1895.95 1013.42 L1896 1013.02 L1896.05 1012.62 L1896.1 1012.22 L1896.15 1011.82 L1896.21 1011.42 L1896.27 1011.02 L1896.33 1010.62 L1896.41 1010.22 L1896.48 1009.82 L1896.57 1009.42 L1896.65 1009.02 L1896.73 1008.62 L1896.8 1008.22 L1896.88 1007.82 L1896.94 1007.42 L1897 1007.02 L1897.05 1006.62 L1897.1 1006.22 L1897.14 1005.82 L1897.18 1005.42 L1897.21 1005.02Z" fill="#e28b25" stroke="none" stroke-width="0" stroke-linejoin="round"/>
<line x1="1953.5" y1="950.7" x2="1953.5" y2="1107.2" stroke="#d24227" stroke-width="0.9" stroke-opacity="0.5"/>
<path d="M1953.58 998.57 L1953.75 998.97 L1953.9 999.37 L1953.99 999.77 L1954.02 1000.17 L1954.04 1000.57 L1954.06 1000.97 L1954.07 1001.37 L1954.08 1001.77 L1954.08 1002.17 L1954.09 1002.57 L1954.1 1002.97 L1954.11 1003.37 L1954.12 1003.77 L1954.13 1004.17 L1954.15 1004.57 L1954.18 1004.97 L1954.24 1005.37 L1954.33 1005.77 L1954.42 1006.17 L1954.52 1006.57 L1954.59 1006.97 L1954.64 1007.37 L1954.65 1007.77 L1954.58 1008.17 L1954.45 1008.57 L1954.29 1008.97 L1954.14 1009.37 L1954.03 1009.77 L1954 1010.17 L1954.01 1010.57 L1954.04 1010.97 L1954.09 1011.37 L1954.14 1011.77 L1954.21 1012.17 L1954.27 1012.57 L1954.34 1012.97 L1954.39 1013.37 L1954.44 1013.77 L1954.47 1014.17 L1954.49 1014.57 L1954.49 1014.97 L1954.48 1015.37 L1954.47 1015.77 L1954.45 1016.17 L1954.44 1016.57 L1954.42 1016.97 L1954.4 1017.37 L1954.38 1017.77 L1954.36 1018.17 L1954.34 1018.57 L1954.33 1018.97 L1954.33 1019.37 L1954.33 1019.77 L1954.35 1020.17 L1954.38 1020.57 L1954.44 1020.97 L1954.51 1021.37 L1954.58 1021.77 L1954.66 1022.17 L1954.75 1022.57 L1954.83 1022.97 L1954.93 1023.37 L1955.04 1023.77 L1955.17 1024.17 L1955.32 1024.57 L1955.47 1024.97 L1955.63 1025.37 L1955.79 1025.77 L1955.96 1026.17 L1956.15 1026.57 L1956.38 1026.97 L1956.64 1027.37 L1956.91 1027.77 L1957.16 1028.17 L1957.38 1028.57 L1957.54 1028.97 L1957.62 1029.37 L1957.61 1029.77 L1957.55 1030.17 L1957.46 1030.57 L1957.37 1030.97 L1957.28 1031.37 L1957.22 1031.77 L1957.26 1032.17 L1957.67 1032.57 L1958.38 1032.97 L1959.29 1033.37 L1960.26 1033.77 L1961.18 1034.17 L1961.94 1034.57 L1962.66 1034.97 L1963.41 1035.37 L1964.15 1035.77 L1964.88 1036.17 L1965.56 1036.57 L1966.17 1036.97 L1966.7 1037.37 L1967.12 1037.77 L1967.48 1038.17 L1967.83 1038.57 L1968.16 1038.97 L1968.48 1039.37 L1968.77 1039.77 L1969.03 1040.17 L1969.25 1040.57 L1969.42 1040.97 L1969.53 1041.37 L1969.59 1041.77 L1969.57 1042.17 L1969.49 1042.57 L1969.35 1042.97 L1969.16 1043.37 L1968.93 1043.77 L1968.67 1044.17 L1968.39 1044.57 L1968.1 1044.97 L1967.8 1045.37 L1967.39 1045.77 L1966.89 1046.17 L1966.32 1046.57 L1965.71 1046.97 L1965.07 1047.37 L1964.44 1047.77 L1963.85 1048.17 L1963.3 1048.57 L1962.78 1048.97 L1962.27 1049.37 L1961.76 1049.77 L1961.26 1050.17 L1960.77 1050.57 L1960.27 1050.97 L1959.79 1051.37 L1959.3 1051.77 L1958.8 1052.17 L1958.27 1052.57 L1957.73 1052.97 L1957.23 1053.37 L1956.8 1053.77 L1956.45 1054.17 L1956.2 1054.57 L1955.97 1054.97 L1955.75 1055.37 L1955.56 1055.77 L1955.38 1056.17 L1955.24 1056.57 L1955.12 1056.97 L1955.02 1057.37 L1954.95 1057.77 L1954.9 1058.17 L1954.85 1058.57 L1954.81 1058.97 L1954.77 1059.37 L1954.74 1059.77 L1954.71 1060.17 L1954.68 1060.57 L1954.65 1060.97 L1954.62 1061.37 L1954.6 1061.77 L1954.58 1062.17 L1954.56 1062.57 L1954.53 1062.97 L1954.49 1063.37 L1954.42 1063.77 L1954.31 1064.17 L1954.17 1064.57 L1954 1064.97 L1953.81 1065.37 L1953.61 1065.77 L1953.39 1065.77 L1953.19 1065.37 L1953 1064.97 L1952.83 1064.57 L1952.69 1064.17 L1952.58 1063.77 L1952.51 1063.37 L1952.47 1062.97 L1952.44 1062.57 L1952.42 1062.17 L1952.4 1061.77 L1952.38 1061.37 L1952.35 1060.97 L1952.32 1060.57 L1952.29 1060.17 L1952.26 1059.77 L1952.23 1059.37 L1952.19 1058.97 L1952.15 1058.57 L1952.1 1058.17 L1952.05 1057.77 L1951.98 1057.37 L1951.88 1056.97 L1951.76 1056.57 L1951.62 1056.17 L1951.44 1055.77 L1951.25 1055.37 L1951.03 1054.97 L1950.8 1054.57 L1950.55 1054.17 L1950.2 1053.77 L1949.77 1053.37 L1949.27 1052.97 L1948.73 1052.57 L1948.2 1052.17 L1947.7 1051.77 L1947.21 1051.37 L1946.73 1050.97 L1946.23 1050.57 L1945.74 1050.17 L1945.24 1049.77 L1944.73 1049.37 L1944.22 1048.97 L1943.7 1048.57 L1943.15 1048.17 L1942.56 1047.77 L1941.93 1047.37 L1941.29 1046.97 L1940.68 1046.57 L1940.11 1046.17 L1939.61 1045.77 L1939.2 1045.37 L1938.9 1044.97 L1938.61 1044.57 L1938.33 1044.17 L1938.07 1043.77 L1937.84 1043.37 L1937.65 1042.97 L1937.51 1042.57 L1937.43 1042.17 L1937.41 1041.77 L1937.47 1041.37 L1937.58 1040.97 L1937.75 1040.57 L1937.97 1040.17 L1938.23 1039.77 L1938.52 1039.37 L1938.84 1038.97 L1939.17 1038.57 L1939.52 1038.17 L1939.88 1037.77 L1940.3 1037.37 L1940.83 1036.97 L1941.44 1036.57 L1942.12 1036.17 L1942.85 1035.77 L1943.59 1035.37 L1944.34 1034.97 L1945.06 1034.57 L1945.82 1034.17 L1946.74 1033.77 L1947.71 1033.37 L1948.62 1032.97 L1949.33 1032.57 L1949.74 1032.17 L1949.78 1031.77 L1949.72 1031.37 L1949.63 1030.97 L1949.54 1030.57 L1949.45 1030.17 L1949.39 1029.77 L1949.38 1029.37 L1949.46 1028.97 L1949.62 1028.57 L1949.84 1028.17 L1950.09 1027.77 L1950.36 1027.37 L1950.62 1026.97 L1950.85 1026.57 L1951.04 1026.17 L1951.21 1025.77 L1951.37 1025.37 L1951.53 1024.97 L1951.68 1024.57 L1951.83 1024.17 L1951.96 1023.77 L1952.07 1023.37 L1952.17 1022.97 L1952.25 1022.57 L1952.34 1022.17 L1952.42 1021.77 L1952.49 1021.37 L1952.56 1020.97 L1952.62 1020.57 L1952.65 1020.17 L1952.67 1019.77 L1952.67 1019.37 L1952.67 1018.97 L1952.66 1018.57 L1952.64 1018.17 L1952.62 1017.77 L1952.6 1017.37 L1952.58 1016.97 L1952.56 1016.57 L1952.55 1016.17 L1952.53 1015.77 L1952.52 1015.37 L1952.51 1014.97 L1952.51 1014.57 L1952.53 1014.17 L1952.56 1013.77 L1952.61 1013.37 L1952.66 1012.97 L1952.73 1012.57 L1952.79 1012.17 L1952.86 1011.77 L1952.91 1011.37 L1952.96 1010.97 L1952.99 1010.57 L1953 1010.17 L1952.97 1009.77 L1952.86 1009.37 L1952.71 1008.97 L1952.55 1008.57 L1952.42 1008.17 L1952.35 1007.77 L1952.36 1007.37 L1952.41 1006.97 L1952.48 1006.57 L1952.58 1006.17 L1952.67 1005.77 L1952.76 1005.37 L1952.82 1004.97 L1952.85 1004.57 L1952.87 1004.17 L1952.88 1003.77 L1952.89 1003.37 L1952.9 1002.97 L1952.91 1002.57 L1952.92 1002.17 L1952.92 1001.77 L1952.93 1001.37 L1952.94 1000.97 L1952.96 1000.57 L1952.98 1000.17 L1953.01 999.77 L1953.1 999.37 L1953.25 998.97 L1953.42 998.57Z" fill="#d24227" stroke="none" stroke-width="0" stroke-linejoin="round"/>
<line x1="2010.4" y1="1002.8" x2="2010.4" y2="1107.2" stroke="#a91c22" stroke-width="0.9" stroke-opacity="0.5"/>
<path d="M2010.48 1023.73 L2010.61 1024.13 L2010.72 1024.53 L2010.82 1024.93 L2010.91 1025.33 L2011 1025.73 L2011.09 1026.13 L2011.15 1026.53 L2011.2 1026.93 L2011.22 1027.33 L2011.2 1027.73 L2011.12 1028.13 L2011 1028.53 L2010.89 1028.93 L2010.82 1029.33 L2010.82 1029.73 L2010.84 1030.13 L2010.89 1030.53 L2010.95 1030.93 L2011.02 1031.33 L2011.11 1031.73 L2011.2 1032.13 L2011.29 1032.53 L2011.39 1032.93 L2011.49 1033.33 L2011.58 1033.73 L2011.66 1034.13 L2011.75 1034.53 L2011.85 1034.93 L2011.95 1035.33 L2012.06 1035.73 L2012.18 1036.13 L2012.31 1036.53 L2012.46 1036.93 L2012.65 1037.33 L2012.9 1037.73 L2013.18 1038.13 L2013.48 1038.53 L2013.78 1038.93 L2014.06 1039.33 L2014.31 1039.73 L2014.54 1040.13 L2014.76 1040.53 L2014.98 1040.93 L2015.2 1041.33 L2015.44 1041.73 L2015.72 1042.13 L2016.02 1042.53 L2016.39 1042.93 L2016.85 1043.33 L2017.41 1043.73 L2018.02 1044.13 L2018.68 1044.53 L2019.36 1044.93 L2020.04 1045.33 L2020.69 1045.73 L2021.31 1046.13 L2022.01 1046.53 L2022.78 1046.93 L2023.58 1047.33 L2024.37 1047.73 L2025.11 1048.13 L2025.77 1048.53 L2026.28 1048.93 L2026.62 1049.33 L2026.74 1049.73 L2026.52 1050.13 L2025.94 1050.53 L2025.11 1050.93 L2024.13 1051.33 L2023.1 1051.73 L2022.11 1052.13 L2021.27 1052.53 L2020.58 1052.93 L2019.91 1053.33 L2019.25 1053.73 L2018.61 1054.13 L2018 1054.53 L2017.42 1054.93 L2016.88 1055.33 L2016.38 1055.73 L2015.94 1056.13 L2015.55 1056.53 L2015.19 1056.93 L2014.85 1057.33 L2014.53 1057.73 L2014.21 1058.13 L2013.89 1058.53 L2013.54 1058.93 L2013.17 1059.33 L2012.67 1059.73 L2012.15 1060.13 L2011.76 1060.53 L2011.64 1060.93 L2011.65 1061.33 L2011.68 1061.73 L2011.71 1062.13 L2011.72 1062.53 L2011.64 1062.93 L2011.46 1063.33 L2011.21 1063.73 L2010.95 1064.13 L2010.72 1064.53 L2010.58 1064.93 L2010.51 1065.33 L2010.47 1065.73 L2010.33 1065.73 L2010.29 1065.33 L2010.22 1064.93 L2010.08 1064.53 L2009.85 1064.13 L2009.59 1063.73 L2009.34 1063.33 L2009.16 1062.93 L2009.08 1062.53 L2009.09 1062.13 L2009.12 1061.73 L2009.15 1061.33 L2009.16 1060.93 L2009.04 1060.53 L2008.65 1060.13 L2008.13 1059.73 L2007.63 1059.33 L2007.26 1058.93 L2006.91 1058.53 L2006.59 1058.13 L2006.27 1057.73 L2005.95 1057.33 L2005.61 1056.93 L2005.25 1056.53 L2004.86 1056.13 L2004.42 1055.73 L2003.92 1055.33 L2003.38 1054.93 L2002.8 1054.53 L2002.19 1054.13 L2001.55 1053.73 L2000.89 1053.33 L2000.22 1052.93 L1999.53 1052.53 L1998.69 1052.13 L1997.7 1051.73 L1996.67 1051.33 L1995.69 1050.93 L1994.86 1050.53 L1994.28 1050.13 L1994.06 1049.73 L1994.18 1049.33 L1994.52 1048.93 L1995.03 1048.53 L1995.69 1048.13 L1996.43 1047.73 L1997.22 1047.33 L1998.02 1046.93 L1998.79 1046.53 L1999.49 1046.13 L2000.11 1045.73 L2000.76 1045.33 L2001.44 1044.93 L2002.12 1044.53 L2002.78 1044.13 L2003.39 1043.73 L2003.95 1043.33 L2004.41 1042.93 L2004.78 1042.53 L2005.08 1042.13 L2005.36 1041.73 L2005.6 1041.33 L2005.82 1040.93 L2006.04 1040.53 L2006.26 1040.13 L2006.49 1039.73 L2006.74 1039.33 L2007.02 1038.93 L2007.32 1038.53 L2007.62 1038.13 L2007.9 1037.73 L2008.15 1037.33 L2008.34 1036.93 L2008.49 1036.53 L2008.62 1036.13 L2008.74 1035.73 L2008.85 1035.33 L2008.95 1034.93 L2009.05 1034.53 L2009.14 1034.13 L2009.22 1033.73 L2009.31 1033.33 L2009.41 1032.93 L2009.51 1032.53 L2009.6 1032.13 L2009.69 1031.73 L2009.78 1031.33 L2009.85 1030.93 L2009.91 1030.53 L2009.96 1030.13 L2009.98 1029.73 L2009.98 1029.33 L2009.91 1028.93 L2009.8 1028.53 L2009.68 1028.13 L2009.6 1027.73 L2009.58 1027.33 L2009.6 1026.93 L2009.65 1026.53 L2009.71 1026.13 L2009.8 1025.73 L2009.89 1025.33 L2009.98 1024.93 L2010.08 1024.53 L2010.19 1024.13 L2010.32 1023.73Z" fill="#a91c22" stroke="none" stroke-width="0" stroke-linejoin="round"/>
<path d="M1512.9 712.6 L1512.9 1239 L2039.4 1239" fill="none" stroke="#000000" stroke-width="1.8"/>
<line x1="1493.1" y1="1239" x2="1512.9" y2="1239" stroke="#000000" stroke-width="1.8"/>
<text x="1487.7" y="1248.7" font-size="24.4" font-weight="normal" font-style="normal" text-anchor="end" fill="#000000" stroke="#000000" stroke-width="0.3">-0.1</text>
<line x1="1493.1" y1="1107.9" x2="1512.9" y2="1107.9" stroke="#000000" stroke-width="1.8"/>
<text x="1487.7" y="1117.6" font-size="24.4" font-weight="normal" font-style="normal" text-anchor="end" fill="#000000" stroke="#000000" stroke-width="0.3">0.0</text>
<line x1="1493.1" y1="976.6" x2="1512.9" y2="976.6" stroke="#000000" stroke-width="1.8"/>
<text x="1487.7" y="986.3" font-size="24.4" font-weight="normal" font-style="normal" text-anchor="end" fill="#000000" stroke="#000000" stroke-width="0.3">0.1</text>
<line x1="1493.1" y1="845.1" x2="1512.9" y2="845.1" stroke="#000000" stroke-width="1.8"/>
<text x="1487.7" y="854.8" font-size="24.4" font-weight="normal" font-style="normal" text-anchor="end" fill="#000000" stroke="#000000" stroke-width="0.3">0.2</text>
<line x1="1493.1" y1="713.5" x2="1512.9" y2="713.5" stroke="#000000" stroke-width="1.8"/>
<text x="1487.7" y="723.2" font-size="24.4" font-weight="normal" font-style="normal" text-anchor="end" fill="#000000" stroke="#000000" stroke-width="0.3">0.3</text>
<line x1="1512.9" y1="1239" x2="1512.9" y2="1246.7" stroke="#000000" stroke-width="1.8"/>
<text x="1518.9" y="1278.6" font-size="24.4" font-weight="normal" font-style="normal" text-anchor="middle" fill="#000000" stroke="#000000" stroke-width="0.3">0.001</text>
<line x1="1688.4" y1="1239" x2="1688.4" y2="1246.7" stroke="#000000" stroke-width="1.8"/>
<text x="1692.3" y="1278.6" font-size="24.4" font-weight="normal" font-style="normal" text-anchor="middle" fill="#000000" stroke="#000000" stroke-width="0.3">0.01</text>
<line x1="1863.9" y1="1239" x2="1863.9" y2="1246.7" stroke="#000000" stroke-width="1.8"/>
<text x="1867.1" y="1278.6" font-size="24.4" font-weight="normal" font-style="normal" text-anchor="middle" fill="#000000" stroke="#000000" stroke-width="0.3">0.1</text>
<line x1="2039.4" y1="1239" x2="2039.4" y2="1246.7" stroke="#000000" stroke-width="1.8"/>
<text x="2038.4" y="1278.6" font-size="24.4" font-weight="normal" font-style="normal" text-anchor="middle" fill="#000000" stroke="#000000" stroke-width="0.3">1</text>
<text x="1791.5" y="1320.6" font-size="29.5" font-weight="bold" font-style="normal" text-anchor="middle" fill="#000000" textLength="420.3" lengthAdjust="spacing">Expected Concentration (Log<tspan font-size="16.5" dy="10">10</tspan><tspan dy="-10">)</tspan></text>
<text x="1434.2" y="969.3" font-size="29.5" font-weight="bold" font-style="normal" text-anchor="middle" fill="#000000" textLength="226" lengthAdjust="spacing" transform="rotate(-90 1434.2 969.3)">Per nt Error rate</text>
</g>
</svg>
</body>
</html>
